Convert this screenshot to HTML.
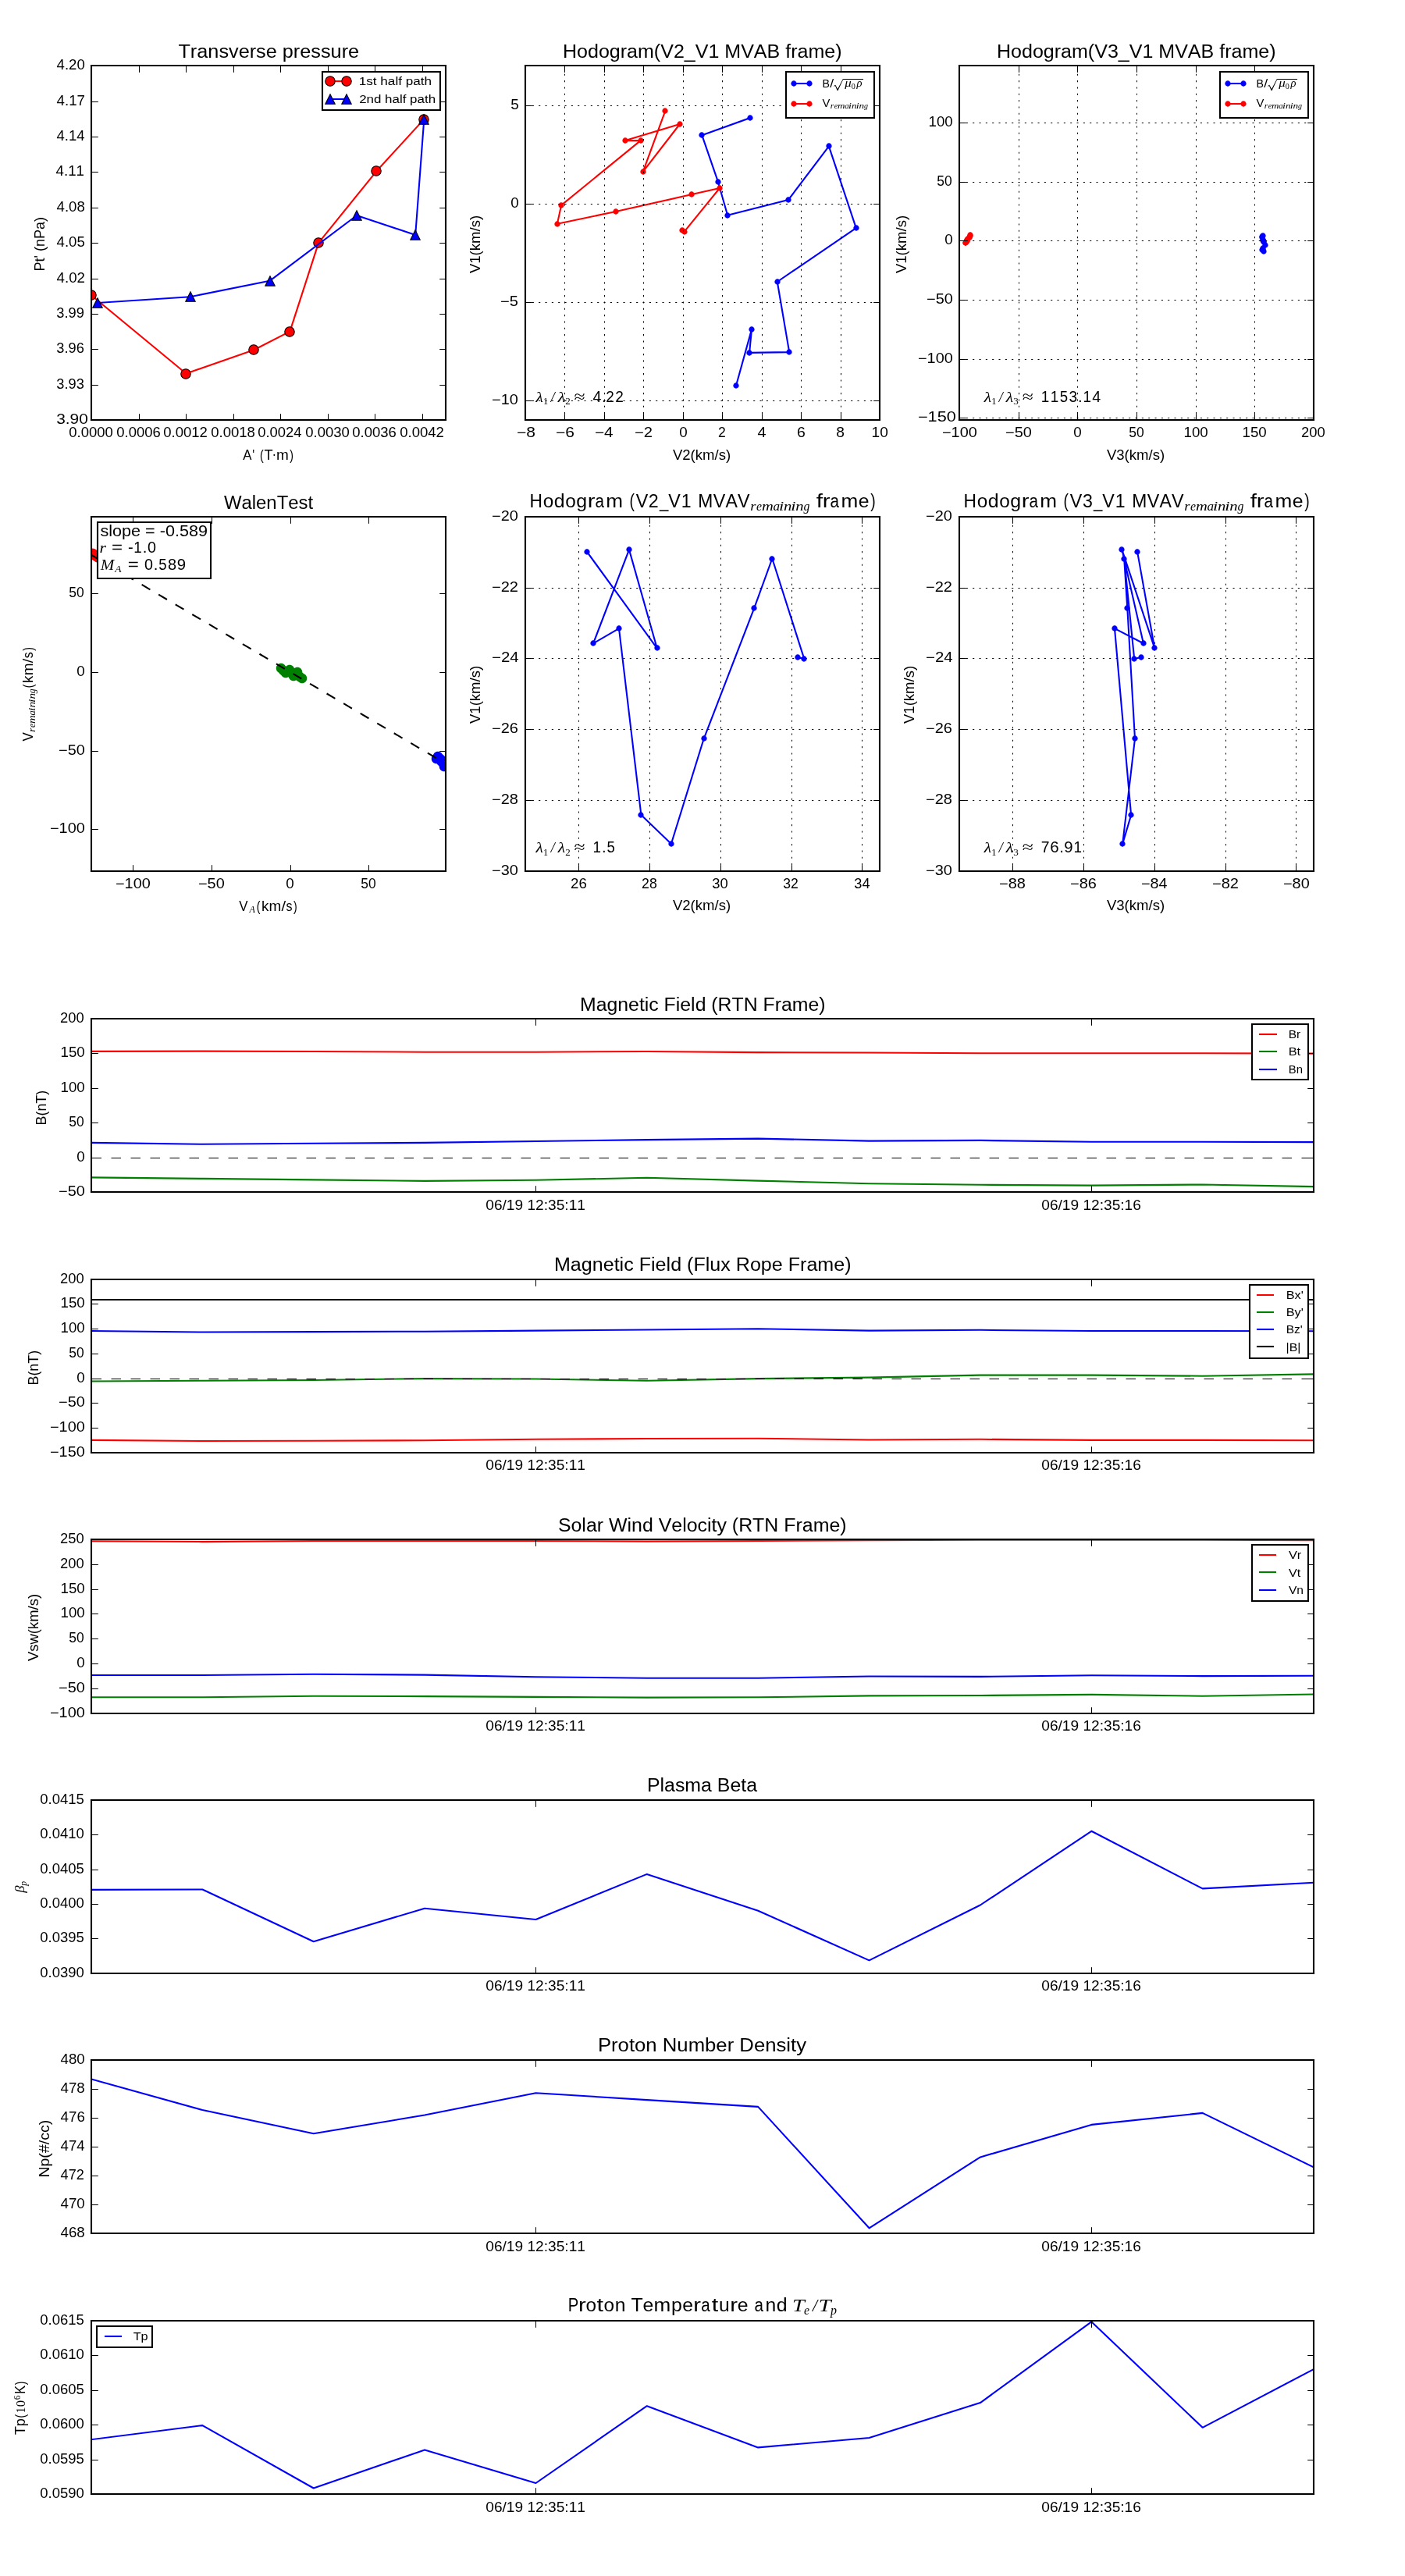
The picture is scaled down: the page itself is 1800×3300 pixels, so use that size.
<!DOCTYPE html>
<html><head><meta charset="utf-8"><title>Flux rope analysis</title>
<style>html,body{margin:0;padding:0;background:#fff;}svg{display:block;will-change:transform;font-family:"Liberation Sans",sans-serif;}</style>
</head><body>
<svg width="1800" height="3300" viewBox="0 0 864 1584" version="1.1">
<defs>
<style type="text/css">*{stroke-linejoin: round; stroke-linecap: butt}</style>
</defs>
<g id="figure_1">
<g id="patch_1">
<path d="M 0 1584 L 864 1584 L 864 0 L 0 0 z
" style="fill: #ffffff"/>
</g>
<g id="axes_1">
<g id="patch_2">
<path d="M 56.16 258.24 L 274.08 258.24 L 274.08 40.464 L 56.16 40.464 z
" style="fill: #ffffff"/>
</g>
<g id="line2d_1">
<path d="M 56.16 181.584 L 114.384 229.68 L 156.144 215.184 L 178.272 203.808 L 195.888 149.328 L 231.504 105.264 L 260.784 73.248 " clip-path="url(#p5015241284)" style="fill: none; stroke: #ff0000; stroke-linecap: square"/>
<defs>
<path id="mf71e03bee1" d="M 0 3 C 0.795609 3 1.55874 2.683901 2.12132 2.12132 C 2.683901 1.55874 3 0.795609 3 0 C 3 -0.795609 2.683901 -1.55874 2.12132 -2.12132 C 1.55874 -2.683901 0.795609 -3 0 -3 C -0.795609 -3 -1.55874 -2.683901 -2.12132 -2.12132 C -2.683901 -1.55874 -3 -0.795609 -3 0 C -3 0.795609 -2.683901 1.55874 -2.12132 2.12132 C -1.55874 2.683901 -0.795609 3 0 3 z
" style="stroke: #000000; stroke-width: 0.5"/>
</defs>
<g clip-path="url(#p5015241284)">
<use href="#mf71e03bee1" x="56.16" y="181.44" style="fill: #ff0000; stroke: #000000; stroke-width: 0.5"/>
<use href="#mf71e03bee1" x="114.24" y="229.92" style="fill: #ff0000; stroke: #000000; stroke-width: 0.5"/>
<use href="#mf71e03bee1" x="156" y="215.04" style="fill: #ff0000; stroke: #000000; stroke-width: 0.5"/>
<use href="#mf71e03bee1" x="178.08" y="204" style="fill: #ff0000; stroke: #000000; stroke-width: 0.5"/>
<use href="#mf71e03bee1" x="195.84" y="149.28" style="fill: #ff0000; stroke: #000000; stroke-width: 0.5"/>
<use href="#mf71e03bee1" x="231.36" y="105.12" style="fill: #ff0000; stroke: #000000; stroke-width: 0.5"/>
<use href="#mf71e03bee1" x="260.64" y="73.44" style="fill: #ff0000; stroke: #000000; stroke-width: 0.5"/>
</g>
</g>
<g id="line2d_2">
<path d="M 60.144 186.24 L 116.88 182.496 L 165.84 172.704 L 219.36 132.48 L 255.456 144.48 L 260.784 73.248 " clip-path="url(#p5015241284)" style="fill: none; stroke: #0000ff; stroke-linecap: square"/>
<defs>
<path id="m5bfe272d16" d="M 0 -3 L -3 3 L 3 3 z
" style="stroke: #000000; stroke-width: 0.5; stroke-linejoin: miter"/>
</defs>
<g clip-path="url(#p5015241284)">
<use href="#m5bfe272d16" x="60" y="186.24" style="fill: #0000ff; stroke: #000000; stroke-width: 0.5; stroke-linejoin: miter"/>
<use href="#m5bfe272d16" x="117.12" y="182.4" style="fill: #0000ff; stroke: #000000; stroke-width: 0.5; stroke-linejoin: miter"/>
<use href="#m5bfe272d16" x="166.08" y="172.8" style="fill: #0000ff; stroke: #000000; stroke-width: 0.5; stroke-linejoin: miter"/>
<use href="#m5bfe272d16" x="219.36" y="132.48" style="fill: #0000ff; stroke: #000000; stroke-width: 0.5; stroke-linejoin: miter"/>
<use href="#m5bfe272d16" x="255.36" y="144.48" style="fill: #0000ff; stroke: #000000; stroke-width: 0.5; stroke-linejoin: miter"/>
<use href="#m5bfe272d16" x="260.64" y="73.44" style="fill: #0000ff; stroke: #000000; stroke-width: 0.5; stroke-linejoin: miter"/>
</g>
</g>
<g id="patch_3">
<path d="M 56.16 258.24 L 56.16 40.32" style="fill: none; stroke: #000000; stroke-linejoin: miter; stroke-linecap: square"/>
</g>
<g id="patch_4">
<path d="M 274.08 258.24 L 274.08 40.32" style="fill: none; stroke: #000000; stroke-linejoin: miter; stroke-linecap: square"/>
</g>
<g id="patch_5">
<path d="M 56.16 258.24 L 274.08 258.24" style="fill: none; stroke: #000000; stroke-linejoin: miter; stroke-linecap: square"/>
</g>
<g id="patch_6">
<path d="M 56.16 40.32 L 274.08 40.32" style="fill: none; stroke: #000000; stroke-linejoin: miter; stroke-linecap: square"/>
</g>
<g id="matplotlib.axis_1">
<g id="xtick_1">
<g id="line2d_3">
<defs>
<path id="m4973df2420" d="M 0 0 L 0 -4 " style="stroke: #000000; stroke-width: 0.5"/>
</defs>
<g>
<use href="#m4973df2420" x="56.4" y="258.48" style="stroke: #000000; stroke-width: 0.5"/>
</g>
</g>
<g id="line2d_4">
<defs>
<path id="m134b7e6b41" d="M 0 0 L 0 4 " style="stroke: #000000; stroke-width: 0.5"/>
</defs>
<g>
<use href="#m134b7e6b41" x="56.4" y="40.56" style="stroke: #000000; stroke-width: 0.5"/>
</g>
</g>
<g id="text_1">
<text id="t0" style="font-size: 8.4px; font-family: 'Liberation Sans'; font-kerning: none" x="0.073997" y="0" textLength="27.092005" lengthAdjust="spacingAndGlyphs" transform="translate(42.3 268.96)">0.0000</text>
</g>
</g>
<g id="xtick_2">
<g id="line2d_5">
<g>
<use href="#m4973df2420" x="85.68" y="258.48" style="stroke: #000000; stroke-width: 0.5"/>
</g>
</g>
<g id="line2d_6">
<g>
<use href="#m134b7e6b41" x="85.68" y="40.56" style="stroke: #000000; stroke-width: 0.5"/>
</g>
</g>
<g id="text_2">
<text id="t1" style="font-size: 8.4px; font-family: 'Liberation Sans'; font-kerning: none" x="0.29743" y="0" textLength="27.136462" lengthAdjust="spacingAndGlyphs" transform="translate(71.356 268.96)">0.0006</text>
</g>
</g>
<g id="xtick_3">
<g id="line2d_7">
<g>
<use href="#m4973df2420" x="114.48" y="258.48" style="stroke: #000000; stroke-width: 0.5"/>
</g>
</g>
<g id="line2d_8">
<g>
<use href="#m134b7e6b41" x="114.48" y="40.56" style="stroke: #000000; stroke-width: 0.5"/>
</g>
</g>
<g id="text_3">
<text id="t2" style="font-size: 8.4px; font-family: 'Liberation Sans'; font-kerning: none" x="0.100689" y="0" textLength="27.194475" lengthAdjust="spacingAndGlyphs" transform="translate(100.352 268.96)">0.0012</text>
</g>
</g>
<g id="xtick_4">
<g id="line2d_9">
<g>
<use href="#m4973df2420" x="143.76" y="258.48" style="stroke: #000000; stroke-width: 0.5"/>
</g>
</g>
<g id="line2d_10">
<g>
<use href="#m134b7e6b41" x="143.76" y="40.56" style="stroke: #000000; stroke-width: 0.5"/>
</g>
</g>
<g id="text_4">
<text id="t3" style="font-size: 8.4px; font-family: 'Liberation Sans'; font-kerning: none" x="0.295486" y="0" textLength="27.13201" lengthAdjust="spacingAndGlyphs" transform="translate(129.438 268.96)">0.0018</text>
</g>
</g>
<g id="xtick_5">
<g id="line2d_11">
<g>
<use href="#m4973df2420" x="172.56" y="258.48" style="stroke: #000000; stroke-width: 0.5"/>
</g>
</g>
<g id="line2d_12">
<g>
<use href="#m134b7e6b41" x="172.56" y="40.56" style="stroke: #000000; stroke-width: 0.5"/>
</g>
</g>
<g id="text_5">
<text id="t4" style="font-size: 8.4px; font-family: 'Liberation Sans'; font-kerning: none" x="0.041127" y="0" textLength="27.003527" lengthAdjust="spacingAndGlyphs" transform="translate(158.494 268.96)">0.0024</text>
</g>
</g>
<g id="xtick_6">
<g id="line2d_13">
<g>
<use href="#m4973df2420" x="201.84" y="258.48" style="stroke: #000000; stroke-width: 0.5"/>
</g>
</g>
<g id="line2d_14">
<g>
<use href="#m134b7e6b41" x="201.84" y="40.56" style="stroke: #000000; stroke-width: 0.5"/>
</g>
</g>
<g id="text_6">
<text id="t5" style="font-size: 8.4px; font-family: 'Liberation Sans'; font-kerning: none" x="0.263997" y="0" textLength="27.092005" lengthAdjust="spacingAndGlyphs" transform="translate(187.55 268.96)">0.0030</text>
</g>
</g>
<g id="xtick_7">
<g id="line2d_15">
<g>
<use href="#m4973df2420" x="230.64" y="258.48" style="stroke: #000000; stroke-width: 0.5"/>
</g>
</g>
<g id="line2d_16">
<g>
<use href="#m134b7e6b41" x="230.64" y="40.56" style="stroke: #000000; stroke-width: 0.5"/>
</g>
</g>
<g id="text_7">
<text id="t6" style="font-size: 8.4px; font-family: 'Liberation Sans'; font-kerning: none" x="0.00743" y="0" textLength="27.136462" lengthAdjust="spacingAndGlyphs" transform="translate(216.606 268.96)">0.0036</text>
</g>
</g>
<g id="xtick_8">
<g id="line2d_17">
<g>
<use href="#m4973df2420" x="259.92" y="258.48" style="stroke: #000000; stroke-width: 0.5"/>
</g>
</g>
<g id="line2d_18">
<g>
<use href="#m134b7e6b41" x="259.92" y="40.56" style="stroke: #000000; stroke-width: 0.5"/>
</g>
</g>
<g id="text_8">
<text id="t7" style="font-size: 8.4px; font-family: 'Liberation Sans'; font-kerning: none" x="0.230689" y="0" textLength="27.194475" lengthAdjust="spacingAndGlyphs" transform="translate(245.662 268.96)">0.0042</text>
</g>
</g>
<g id="mathxlab1">
<g transform="translate(149.338579 283.5600)">
<text>
<tspan x="0.0468" y="-0.921875" style="font-size: 8.400px; font-family: 'Liberation Sans', sans-serif; font-kerning: none" textLength="5.3752" lengthAdjust="spacingAndGlyphs">A</tspan>
<tspan x="5.8668" y="-0.921875" style="font-size: 8.400px; font-family: 'Liberation Sans', sans-serif; font-kerning: none" textLength="1.4111" lengthAdjust="spacingAndGlyphs">&#x27;</tspan>
<tspan x="7.671875" y="-0.921875" style="font-size: 8.400px; font-family: 'Liberation Sans', sans-serif; font-kerning: none"> </tspan>
<tspan x="10.4830" y="-0.921875" style="font-size: 8.400px; font-family: 'Liberation Sans', sans-serif; font-kerning: none" textLength="2.2519" lengthAdjust="spacingAndGlyphs">(</tspan>
<tspan x="13.1165" y="-0.921875" style="font-size: 8.400px; font-family: 'Liberation Sans', sans-serif; font-kerning: none" textLength="5.3298" lengthAdjust="spacingAndGlyphs">T</tspan>
<tspan x="20.5588" y="-0.921875" style="font-size: 8.400px; font-family: 'Liberation Sans', sans-serif; font-kerning: none" textLength="7.5929" lengthAdjust="spacingAndGlyphs">m</tspan>
<tspan x="28.8315" y="-0.921875" style="font-size: 8.400px; font-family: 'Liberation Sans', sans-serif; font-kerning: none" textLength="2.2519" lengthAdjust="spacingAndGlyphs">)</tspan>
<tspan x="18.0955" y="-0.921875" style="font-size: 8.800px; font-family: 'Liberation Serif', serif; font-kerning: none" textLength="2.4769" lengthAdjust="spacingAndGlyphs">·</tspan>
</text>
</g>
</g>
</g>
<g id="matplotlib.axis_2">
<g id="ytick_1">
<g id="line2d_19">
<defs>
<path id="md9424fe3de" d="M 0 0 L 4 0 " style="stroke: #000000; stroke-width: 0.5"/>
</defs>
<g>
<use href="#md9424fe3de" x="56.4" y="258.48" style="stroke: #000000; stroke-width: 0.5"/>
</g>
</g>
<g id="line2d_20">
<defs>
<path id="m2b9a4ff74d" d="M 0 0 L -4 0 " style="stroke: #000000; stroke-width: 0.5"/>
</defs>
<g>
<use href="#m2b9a4ff74d" x="274.32" y="258.48" style="stroke: #000000; stroke-width: 0.5"/>
</g>
</g>
<g id="text_9">
<text id="t8" style="font-size: 8.4px; font-family: 'Liberation Sans'; font-kerning: none" x="0.198558" y="0" textLength="19.492665" lengthAdjust="spacingAndGlyphs" transform="translate(34.46 260.64)">3.90</text>
</g>
</g>
<g id="ytick_2">
<g id="line2d_21">
<g>
<use href="#md9424fe3de" x="56.4" y="236.88" style="stroke: #000000; stroke-width: 0.5"/>
</g>
</g>
<g id="line2d_22">
<g>
<use href="#m2b9a4ff74d" x="274.32" y="236.88" style="stroke: #000000; stroke-width: 0.5"/>
</g>
</g>
<g id="text_10">
<text id="t9" style="font-size: 8.4px; font-family: 'Liberation Sans'; font-kerning: none" x="0.30659" y="0" textLength="17.038114" lengthAdjust="spacingAndGlyphs" transform="translate(34.4 238.8624)">3.93</text>
</g>
</g>
<g id="ytick_3">
<g id="line2d_23">
<g>
<use href="#md9424fe3de" x="56.4" y="214.8" style="stroke: #000000; stroke-width: 0.5"/>
</g>
</g>
<g id="line2d_24">
<g>
<use href="#m2b9a4ff74d" x="274.32" y="214.8" style="stroke: #000000; stroke-width: 0.5"/>
</g>
</g>
<g id="text_11">
<text id="t10" style="font-size: 8.4px; font-family: 'Liberation Sans'; font-kerning: none" x="0.24659" y="0" textLength="17.038114" lengthAdjust="spacingAndGlyphs" transform="translate(34.46 217.0848)">3.96</text>
</g>
</g>
<g id="ytick_4">
<g id="line2d_25">
<g>
<use href="#md9424fe3de" x="56.4" y="193.2" style="stroke: #000000; stroke-width: 0.5"/>
</g>
</g>
<g id="line2d_26">
<g>
<use href="#m2b9a4ff74d" x="274.32" y="193.2" style="stroke: #000000; stroke-width: 0.5"/>
</g>
</g>
<g id="text_12">
<text id="t11" style="font-size: 8.4px; font-family: 'Liberation Sans'; font-kerning: none" x="0.245977" y="0" textLength="17.06941" lengthAdjust="spacingAndGlyphs" transform="translate(34.46 195.3072)">3.99</text>
</g>
</g>
<g id="ytick_5">
<g id="line2d_27">
<g>
<use href="#md9424fe3de" x="56.4" y="171.6" style="stroke: #000000; stroke-width: 0.5"/>
</g>
</g>
<g id="line2d_28">
<g>
<use href="#m2b9a4ff74d" x="274.32" y="171.6" style="stroke: #000000; stroke-width: 0.5"/>
</g>
</g>
<g id="text_13">
<text id="t12" style="font-size: 8.4px; font-family: 'Liberation Sans'; font-kerning: none" x="0.374161" y="0" textLength="17.456934" lengthAdjust="spacingAndGlyphs" transform="translate(34.46 173.5296)">4.02</text>
</g>
</g>
<g id="ytick_6">
<g id="line2d_29">
<g>
<use href="#md9424fe3de" x="56.4" y="149.52" style="stroke: #000000; stroke-width: 0.5"/>
</g>
</g>
<g id="line2d_30">
<g>
<use href="#m2b9a4ff74d" x="274.32" y="149.52" style="stroke: #000000; stroke-width: 0.5"/>
</g>
</g>
<g id="text_14">
<text id="t13" style="font-size: 8.4px; font-family: 'Liberation Sans'; font-kerning: none" x="0.315069" y="0" textLength="17.379912" lengthAdjust="spacingAndGlyphs" transform="translate(34.52 151.752)">4.05</text>
</g>
</g>
<g id="ytick_7">
<g id="line2d_31">
<g>
<use href="#md9424fe3de" x="56.4" y="127.92" style="stroke: #000000; stroke-width: 0.5"/>
</g>
</g>
<g id="line2d_32">
<g>
<use href="#m2b9a4ff74d" x="274.32" y="127.92" style="stroke: #000000; stroke-width: 0.5"/>
</g>
</g>
<g id="text_15">
<text id="t14" style="font-size: 8.4px; font-family: 'Liberation Sans'; font-kerning: none" x="0.314909" y="0" textLength="17.393455" lengthAdjust="spacingAndGlyphs" transform="translate(34.52 129.9744)">4.08</text>
</g>
</g>
<g id="ytick_8">
<g id="line2d_33">
<g>
<use href="#md9424fe3de" x="56.4" y="105.84" style="stroke: #000000; stroke-width: 0.5"/>
</g>
</g>
<g id="line2d_34">
<g>
<use href="#m2b9a4ff74d" x="274.32" y="105.84" style="stroke: #000000; stroke-width: 0.5"/>
</g>
</g>
<g id="text_16">
<text id="t15" style="font-size: 8.4px; font-family: 'Liberation Sans'; font-kerning: none" x="-0.045679" y="0" textLength="17.443293" lengthAdjust="spacingAndGlyphs" transform="translate(34.4 108.1968)">4.11</text>
</g>
</g>
<g id="ytick_9">
<g id="line2d_35">
<g>
<use href="#md9424fe3de" x="56.4" y="84.24" style="stroke: #000000; stroke-width: 0.5"/>
</g>
</g>
<g id="line2d_36">
<g>
<use href="#m2b9a4ff74d" x="274.32" y="84.24" style="stroke: #000000; stroke-width: 0.5"/>
</g>
</g>
<g id="text_17">
<text id="t16" style="font-size: 8.4px; font-family: 'Liberation Sans'; font-kerning: none" x="0.376442" y="0" textLength="17.263418" lengthAdjust="spacingAndGlyphs" transform="translate(34.46 86.4192)">4.14</text>
</g>
</g>
<g id="ytick_10">
<g id="line2d_37">
<g>
<use href="#md9424fe3de" x="56.4" y="62.64" style="stroke: #000000; stroke-width: 0.5"/>
</g>
</g>
<g id="line2d_38">
<g>
<use href="#m2b9a4ff74d" x="274.32" y="62.64" style="stroke: #000000; stroke-width: 0.5"/>
</g>
</g>
<g id="text_18">
<text id="t17" style="font-size: 8.4px; font-family: 'Liberation Sans'; font-kerning: none" x="0.374161" y="0" textLength="17.456934" lengthAdjust="spacingAndGlyphs" transform="translate(34.46 64.6416)">4.17</text>
</g>
</g>
<g id="ytick_11">
<g id="line2d_39">
<g>
<use href="#md9424fe3de" x="56.4" y="40.56" style="stroke: #000000; stroke-width: 0.5"/>
</g>
</g>
<g id="line2d_40">
<g>
<use href="#m2b9a4ff74d" x="274.32" y="40.56" style="stroke: #000000; stroke-width: 0.5"/>
</g>
</g>
<g id="text_19">
<text id="t18" style="font-size: 8.4px; font-family: 'Liberation Sans'; font-kerning: none" x="0.375387" y="0" textLength="17.352889" lengthAdjust="spacingAndGlyphs" transform="translate(34.46 42.864)">4.20</text>
</g>
</g>
<g id="text_20">
<text id="t19" style="font-size: 8.4px; font-family: 'Liberation Sans'; font-kerning: none" x="-0.788158" y="0" textLength="33.407003" lengthAdjust="spacingAndGlyphs" transform="translate(27.48 166.002) rotate(-90)">Pt' (nPa)</text>
</g>
</g>
<g id="text_21">
<text id="t20" style="font-size: 11.55px; font-family: 'Liberation Sans'; font-kerning: none" x="-0.182403" y="0" textLength="111.211286" lengthAdjust="spacingAndGlyphs" transform="translate(109.83 35.464)">Transverse pressure</text>
</g>
<g id="legend_1">
<g id="patch_7">
<path d="M 198.24 67.68 L 270.72 67.68 L 270.72 44.16 L 198.24 44.16 z" style="fill: #ffffff; stroke: #000000; stroke-linejoin: miter"/>
</g>
<g id="line2d_41">
<path d="M 203.04 49.92 L 213.12 49.92" style="fill: none; stroke: #ff0000; stroke-linecap: square"/>
<g>
<use href="#mf71e03bee1" x="203.04" y="49.92" style="fill: #ff0000; stroke: #000000; stroke-width: 0.5"/>
<use href="#mf71e03bee1" x="213.12" y="49.92" style="fill: #ff0000; stroke: #000000; stroke-width: 0.5"/>
</g>
</g>
<g id="text_22">
<text id="t21" style="font-size: 7.35px; font-family: 'Liberation Sans'; font-kerning: none" x="0.033072" y="0" textLength="44.841424" lengthAdjust="spacingAndGlyphs" transform="translate(220.62 52.524)">1st half path</text>
</g>
<g id="line2d_42">
<path d="M 203.04 60.96 L 213.12 60.96" style="fill: none; stroke: #0000ff; stroke-linecap: square"/>
<g>
<use href="#m5bfe272d16" x="203.04" y="60.96" style="fill: #0000ff; stroke: #000000; stroke-width: 0.5; stroke-linejoin: miter"/>
<use href="#m5bfe272d16" x="213.12" y="60.96" style="fill: #0000ff; stroke: #000000; stroke-width: 0.5; stroke-linejoin: miter"/>
</g>
</g>
<g id="text_23">
<text id="t22" style="font-size: 7.35px; font-family: 'Liberation Sans'; font-kerning: none" x="0.251088" y="0" textLength="47.016924" lengthAdjust="spacingAndGlyphs" transform="translate(220.62 63.224)">2nd half path</text>
</g>
</g>
</g>
<g id="axes_2">
<g id="patch_8">
<path d="M 323.04 258.24 L 540.96 258.24 L 540.96 40.464 L 323.04 40.464 z
" style="fill: #ffffff"/>
</g>
<g id="line2d_43">
<path d="M 461.424 72.432 L 431.664 83.136 L 441.6 111.936 L 447.408 132.384 L 484.8 122.88 L 509.712 89.952 L 526.464 140.208 L 477.984 173.28 L 485.376 216.528 L 460.848 216.912 L 462.24 202.512 L 452.688 236.976 " clip-path="url(#pdd8ea7e59d)" style="fill: none; stroke: #0000ff; stroke-linecap: square"/>
<defs>
<path id="med6760d9cf" d="M 0 1.5 C 0.397805 1.5 0.77937 1.341951 1.06066 1.06066 C 1.341951 0.77937 1.5 0.397805 1.5 0 C 1.5 -0.397805 1.341951 -0.77937 1.06066 -1.06066 C 0.77937 -1.341951 0.397805 -1.5 0 -1.5 C -0.397805 -1.5 -0.77937 -1.341951 -1.06066 -1.06066 C -1.341951 -0.77937 -1.5 -0.397805 -1.5 0 C -1.5 0.397805 -1.341951 0.77937 -1.06066 1.06066 C -0.77937 1.341951 -0.397805 1.5 0 1.5 z
" style="stroke: #0000ff; stroke-width: 0.5"/>
</defs>
<g clip-path="url(#pdd8ea7e59d)">
<use href="#med6760d9cf" x="461.28" y="72.48" style="fill: #0000ff; stroke: #0000ff; stroke-width: 0.5"/>
<use href="#med6760d9cf" x="431.52" y="83.04" style="fill: #0000ff; stroke: #0000ff; stroke-width: 0.5"/>
<use href="#med6760d9cf" x="441.6" y="111.84" style="fill: #0000ff; stroke: #0000ff; stroke-width: 0.5"/>
<use href="#med6760d9cf" x="447.36" y="132.48" style="fill: #0000ff; stroke: #0000ff; stroke-width: 0.5"/>
<use href="#med6760d9cf" x="484.8" y="122.88" style="fill: #0000ff; stroke: #0000ff; stroke-width: 0.5"/>
<use href="#med6760d9cf" x="509.76" y="89.76" style="fill: #0000ff; stroke: #0000ff; stroke-width: 0.5"/>
<use href="#med6760d9cf" x="526.56" y="140.16" style="fill: #0000ff; stroke: #0000ff; stroke-width: 0.5"/>
<use href="#med6760d9cf" x="478.08" y="173.28" style="fill: #0000ff; stroke: #0000ff; stroke-width: 0.5"/>
<use href="#med6760d9cf" x="485.28" y="216.48" style="fill: #0000ff; stroke: #0000ff; stroke-width: 0.5"/>
<use href="#med6760d9cf" x="460.8" y="216.96" style="fill: #0000ff; stroke: #0000ff; stroke-width: 0.5"/>
<use href="#med6760d9cf" x="462.24" y="202.56" style="fill: #0000ff; stroke: #0000ff; stroke-width: 0.5"/>
<use href="#med6760d9cf" x="452.64" y="237.12" style="fill: #0000ff; stroke: #0000ff; stroke-width: 0.5"/>
</g>
</g>
<g id="line2d_44">
<path d="M 419.568 141.552 L 420.768 142.512 L 442.56 115.68 L 425.424 119.568 L 378.672 130.08 L 342.672 137.664 L 345.168 126.192 L 393.888 86.448 L 384.528 86.448 L 418.032 76.32 L 395.424 105.552 L 409.056 68.352 " clip-path="url(#pdd8ea7e59d)" style="fill: none; stroke: #ff0000; stroke-linecap: square"/>
<defs>
<path id="m1d70addad9" d="M 0 1.5 C 0.397805 1.5 0.77937 1.341951 1.06066 1.06066 C 1.341951 0.77937 1.5 0.397805 1.5 0 C 1.5 -0.397805 1.341951 -0.77937 1.06066 -1.06066 C 0.77937 -1.341951 0.397805 -1.5 0 -1.5 C -0.397805 -1.5 -0.77937 -1.341951 -1.06066 -1.06066 C -1.341951 -0.77937 -1.5 -0.397805 -1.5 0 C -1.5 0.397805 -1.341951 0.77937 -1.06066 1.06066 C -0.77937 1.341951 -0.397805 1.5 0 1.5 z
" style="stroke: #ff0000; stroke-width: 0.5"/>
</defs>
<g clip-path="url(#pdd8ea7e59d)">
<use href="#m1d70addad9" x="419.52" y="141.6" style="fill: #ff0000; stroke: #ff0000; stroke-width: 0.5"/>
<use href="#m1d70addad9" x="420.96" y="142.56" style="fill: #ff0000; stroke: #ff0000; stroke-width: 0.5"/>
<use href="#m1d70addad9" x="442.56" y="115.68" style="fill: #ff0000; stroke: #ff0000; stroke-width: 0.5"/>
<use href="#m1d70addad9" x="425.28" y="119.52" style="fill: #ff0000; stroke: #ff0000; stroke-width: 0.5"/>
<use href="#m1d70addad9" x="378.72" y="130.08" style="fill: #ff0000; stroke: #ff0000; stroke-width: 0.5"/>
<use href="#m1d70addad9" x="342.72" y="137.76" style="fill: #ff0000; stroke: #ff0000; stroke-width: 0.5"/>
<use href="#m1d70addad9" x="345.12" y="126.24" style="fill: #ff0000; stroke: #ff0000; stroke-width: 0.5"/>
<use href="#m1d70addad9" x="394.08" y="86.4" style="fill: #ff0000; stroke: #ff0000; stroke-width: 0.5"/>
<use href="#m1d70addad9" x="384.48" y="86.4" style="fill: #ff0000; stroke: #ff0000; stroke-width: 0.5"/>
<use href="#m1d70addad9" x="418.08" y="76.32" style="fill: #ff0000; stroke: #ff0000; stroke-width: 0.5"/>
<use href="#m1d70addad9" x="395.52" y="105.6" style="fill: #ff0000; stroke: #ff0000; stroke-width: 0.5"/>
<use href="#m1d70addad9" x="408.96" y="68.16" style="fill: #ff0000; stroke: #ff0000; stroke-width: 0.5"/>
</g>
</g>
<g id="patch_9">
<path d="M 323.04 258.24 L 323.04 40.32" style="fill: none; stroke: #000000; stroke-linejoin: miter; stroke-linecap: square"/>
</g>
<g id="patch_10">
<path d="M 540.96 258.24 L 540.96 40.32" style="fill: none; stroke: #000000; stroke-linejoin: miter; stroke-linecap: square"/>
</g>
<g id="patch_11">
<path d="M 323.04 258.24 L 540.96 258.24" style="fill: none; stroke: #000000; stroke-linejoin: miter; stroke-linecap: square"/>
</g>
<g id="patch_12">
<path d="M 323.04 40.32 L 540.96 40.32" style="fill: none; stroke: #000000; stroke-linejoin: miter; stroke-linecap: square"/>
</g>
<g id="matplotlib.axis_3">
<g id="xtick_9">
<g id="line2d_45">
<path d="M 323.28 258.48 L 323.28 40.56" clip-path="url(#pdd8ea7e59d)" style="fill: none; stroke-dasharray: 1,3; stroke-dashoffset: 0; stroke: #000000; stroke-width: 0.5"/>
</g>
<g id="line2d_46">
<g>
<use href="#m4973df2420" x="323.28" y="258.48" style="stroke: #000000; stroke-width: 0.5"/>
</g>
</g>
<g id="line2d_47">
<g>
<use href="#m134b7e6b41" x="323.28" y="40.56" style="stroke: #000000; stroke-width: 0.5"/>
</g>
</g>
<g id="text_24">
<text id="t23" style="font-size: 8.4px; font-family: 'Liberation Sans'; font-kerning: none" x="0.552769" y="0" textLength="11.495385" lengthAdjust="spacingAndGlyphs" transform="translate(317.19 268.96)">−8</text>
</g>
</g>
<g id="xtick_10">
<g id="line2d_48">
<path d="M 347.28 258.48 L 347.28 40.56" clip-path="url(#pdd8ea7e59d)" style="fill: none; stroke-dasharray: 1,3; stroke-dashoffset: 0; stroke: #000000; stroke-width: 0.5"/>
</g>
<g id="line2d_49">
<g>
<use href="#m4973df2420" x="347.28" y="258.48" style="stroke: #000000; stroke-width: 0.5"/>
</g>
</g>
<g id="line2d_50">
<g>
<use href="#m134b7e6b41" x="347.28" y="40.56" style="stroke: #000000; stroke-width: 0.5"/>
</g>
</g>
<g id="text_25">
<text id="t24" style="font-size: 8.4px; font-family: 'Liberation Sans'; font-kerning: none" x="0.339204" y="0" textLength="11.500746" lengthAdjust="spacingAndGlyphs" transform="translate(341.403333 268.96)">−6</text>
</g>
</g>
<g id="xtick_11">
<g id="line2d_51">
<path d="M 371.76 258.48 L 371.76 40.56" clip-path="url(#pdd8ea7e59d)" style="fill: none; stroke-dasharray: 1,3; stroke-dashoffset: 0; stroke: #000000; stroke-width: 0.5"/>
</g>
<g id="line2d_52">
<g>
<use href="#m4973df2420" x="371.76" y="258.48" style="stroke: #000000; stroke-width: 0.5"/>
</g>
</g>
<g id="line2d_53">
<g>
<use href="#m134b7e6b41" x="371.76" y="40.56" style="stroke: #000000; stroke-width: 0.5"/>
</g>
</g>
<g id="text_26">
<text id="t25" style="font-size: 8.4px; font-family: 'Liberation Sans'; font-kerning: none" x="0.132735" y="0" textLength="11.342042" lengthAdjust="spacingAndGlyphs" transform="translate(365.616667 268.96)">−4</text>
</g>
</g>
<g id="xtick_12">
<g id="line2d_54">
<path d="M 395.76 258.48 L 395.76 40.56" clip-path="url(#pdd8ea7e59d)" style="fill: none; stroke-dasharray: 1,3; stroke-dashoffset: 0; stroke: #000000; stroke-width: 0.5"/>
</g>
<g id="line2d_55">
<g>
<use href="#m4973df2420" x="395.76" y="258.48" style="stroke: #000000; stroke-width: 0.5"/>
</g>
</g>
<g id="line2d_56">
<g>
<use href="#m134b7e6b41" x="395.76" y="40.56" style="stroke: #000000; stroke-width: 0.5"/>
</g>
</g>
<g id="text_27">
<text id="t26" style="font-size: 8.4px; font-family: 'Liberation Sans'; font-kerning: none" x="0.442252" y="0" textLength="11.044955" lengthAdjust="spacingAndGlyphs" transform="translate(389.8 268.96)">−2</text>
</g>
</g>
<g id="xtick_13">
<g id="line2d_57">
<path d="M 420.24 258.48 L 420.24 40.56" clip-path="url(#pdd8ea7e59d)" style="fill: none; stroke-dasharray: 1,3; stroke-dashoffset: 0; stroke: #000000; stroke-width: 0.5"/>
</g>
<g id="line2d_58">
<g>
<use href="#m4973df2420" x="420.24" y="258.48" style="stroke: #000000; stroke-width: 0.5"/>
</g>
</g>
<g id="line2d_59">
<g>
<use href="#m134b7e6b41" x="420.24" y="40.56" style="stroke: #000000; stroke-width: 0.5"/>
</g>
</g>
<g id="text_28">
<text id="t27" style="font-size: 8.4px; font-family: 'Liberation Sans'; font-kerning: none" x="0.353653" y="0" textLength="5.026027" lengthAdjust="spacingAndGlyphs" transform="translate(417.373333 268.96)">0</text>
</g>
</g>
<g id="xtick_14">
<g id="line2d_60">
<path d="M 444.24 258.48 L 444.24 40.56" clip-path="url(#pdd8ea7e59d)" style="fill: none; stroke-dasharray: 1,3; stroke-dashoffset: 0; stroke: #000000; stroke-width: 0.5"/>
</g>
<g id="line2d_61">
<g>
<use href="#m4973df2420" x="444.24" y="258.48" style="stroke: #000000; stroke-width: 0.5"/>
</g>
</g>
<g id="line2d_62">
<g>
<use href="#m134b7e6b41" x="444.24" y="40.56" style="stroke: #000000; stroke-width: 0.5"/>
</g>
</g>
<g id="text_29">
<text id="t28" style="font-size: 8.4px; font-family: 'Liberation Sans'; font-kerning: none" x="0.099411" y="0" textLength="4.687846" lengthAdjust="spacingAndGlyphs" transform="translate(441.556667 268.96)">2</text>
</g>
</g>
<g id="xtick_15">
<g id="line2d_63">
<path d="M 468.72 258.48 L 468.72 40.56" clip-path="url(#pdd8ea7e59d)" style="fill: none; stroke-dasharray: 1,3; stroke-dashoffset: 0; stroke: #000000; stroke-width: 0.5"/>
</g>
<g id="line2d_64">
<g>
<use href="#m4973df2420" x="468.72" y="258.48" style="stroke: #000000; stroke-width: 0.5"/>
</g>
</g>
<g id="line2d_65">
<g>
<use href="#m134b7e6b41" x="468.72" y="40.56" style="stroke: #000000; stroke-width: 0.5"/>
</g>
</g>
<g id="text_30">
<text id="t29" style="font-size: 8.4px; font-family: 'Liberation Sans'; font-kerning: none" x="0.061395" y="0" textLength="5.297674" lengthAdjust="spacingAndGlyphs" transform="translate(465.8 268.96)">4</text>
</g>
</g>
<g id="xtick_16">
<g id="line2d_66">
<path d="M 492.72 258.48 L 492.72 40.56" clip-path="url(#pdd8ea7e59d)" style="fill: none; stroke-dasharray: 1,3; stroke-dashoffset: 0; stroke: #000000; stroke-width: 0.5"/>
</g>
<g id="line2d_67">
<g>
<use href="#m4973df2420" x="492.72" y="258.48" style="stroke: #000000; stroke-width: 0.5"/>
</g>
</g>
<g id="line2d_68">
<g>
<use href="#m134b7e6b41" x="492.72" y="40.56" style="stroke: #000000; stroke-width: 0.5"/>
</g>
</g>
<g id="text_31">
<text id="t30" style="font-size: 8.4px; font-family: 'Liberation Sans'; font-kerning: none" x="0.071238" y="0" textLength="5.206857" lengthAdjust="spacingAndGlyphs" transform="translate(490.013333 268.96)">6</text>
</g>
</g>
<g id="xtick_17">
<g id="line2d_69">
<path d="M 517.2 258.48 L 517.2 40.56" clip-path="url(#pdd8ea7e59d)" style="fill: none; stroke-dasharray: 1,3; stroke-dashoffset: 0; stroke: #000000; stroke-width: 0.5"/>
</g>
<g id="line2d_70">
<g>
<use href="#m4973df2420" x="517.2" y="258.48" style="stroke: #000000; stroke-width: 0.5"/>
</g>
</g>
<g id="line2d_71">
<g>
<use href="#m134b7e6b41" x="517.2" y="40.56" style="stroke: #000000; stroke-width: 0.5"/>
</g>
</g>
<g id="text_32">
<text id="t31" style="font-size: 8.4px; font-family: 'Liberation Sans'; font-kerning: none" x="-0.06675" y="0" textLength="5.120166" lengthAdjust="spacingAndGlyphs" transform="translate(514.226667 268.96)">8</text>
</g>
</g>
<g id="xtick_18">
<g id="line2d_72">
<path d="M 541.2 258.48 L 541.2 40.56" clip-path="url(#pdd8ea7e59d)" style="fill: none; stroke-dasharray: 1,3; stroke-dashoffset: 0; stroke: #000000; stroke-width: 0.5"/>
</g>
<g id="line2d_73">
<g>
<use href="#m4973df2420" x="541.2" y="258.48" style="stroke: #000000; stroke-width: 0.5"/>
</g>
</g>
<g id="line2d_74">
<g>
<use href="#m134b7e6b41" x="541.2" y="40.56" style="stroke: #000000; stroke-width: 0.5"/>
</g>
</g>
<g id="text_33">
<text id="t32" style="font-size: 8.4px; font-family: 'Liberation Sans'; font-kerning: none" x="0.053271" y="0" textLength="10.174025" lengthAdjust="spacingAndGlyphs" transform="translate(535.89 268.96)">10</text>
</g>
</g>
<g id="text_34">
<text id="t33" style="font-size: 8.4px; font-family: 'Liberation Sans'; font-kerning: none" x="-0.219146" y="0" textLength="35.631539" lengthAdjust="spacingAndGlyphs" transform="translate(413.94 282.6)">V2(km/s)</text>
</g>
</g>
<g id="matplotlib.axis_4">
<g id="ytick_12">
<g id="line2d_75">
<path d="M 323.28 246.48 L 541.2 246.48" clip-path="url(#pdd8ea7e59d)" style="fill: none; stroke-dasharray: 1,3; stroke-dashoffset: 0; stroke: #000000; stroke-width: 0.5"/>
</g>
<g id="line2d_76">
<g>
<use href="#md9424fe3de" x="323.28" y="246.48" style="stroke: #000000; stroke-width: 0.5"/>
</g>
</g>
<g id="line2d_77">
<g>
<use href="#m2b9a4ff74d" x="541.2" y="246.48" style="stroke: #000000; stroke-width: 0.5"/>
</g>
</g>
<g id="text_35">
<text id="t34" style="font-size: 8.4px; font-family: 'Liberation Sans'; font-kerning: none" x="0.168892" y="0" textLength="16.204264" lengthAdjust="spacingAndGlyphs" transform="translate(302.24 248.541333)">−10</text>
</g>
</g>
<g id="ytick_13">
<g id="line2d_78">
<path d="M 323.28 186 L 541.2 186" clip-path="url(#pdd8ea7e59d)" style="fill: none; stroke-dasharray: 1,3; stroke-dashoffset: 0; stroke: #000000; stroke-width: 0.5"/>
</g>
<g id="line2d_79">
<g>
<use href="#md9424fe3de" x="323.28" y="186" style="stroke: #000000; stroke-width: 0.5"/>
</g>
</g>
<g id="line2d_80">
<g>
<use href="#m2b9a4ff74d" x="541.2" y="186" style="stroke: #000000; stroke-width: 0.5"/>
</g>
</g>
<g id="text_36">
<text id="t35" style="font-size: 8.4px; font-family: 'Liberation Sans'; font-kerning: none" x="0.346034" y="0" textLength="10.957542" lengthAdjust="spacingAndGlyphs" transform="translate(307.34 188.048)">−5</text>
</g>
</g>
<g id="ytick_14">
<g id="line2d_81">
<path d="M 323.28 125.52 L 541.2 125.52" clip-path="url(#pdd8ea7e59d)" style="fill: none; stroke-dasharray: 1,3; stroke-dashoffset: 0; stroke: #000000; stroke-width: 0.5"/>
</g>
<g id="line2d_82">
<g>
<use href="#md9424fe3de" x="323.28" y="125.52" style="stroke: #000000; stroke-width: 0.5"/>
</g>
</g>
<g id="line2d_83">
<g>
<use href="#m2b9a4ff74d" x="541.2" y="125.52" style="stroke: #000000; stroke-width: 0.5"/>
</g>
</g>
<g id="text_37">
<text id="t36" style="font-size: 8.4px; font-family: 'Liberation Sans'; font-kerning: none" x="0.046987" y="0" textLength="5.026027" lengthAdjust="spacingAndGlyphs" transform="translate(314 127.554667)">0</text>
</g>
</g>
<g id="ytick_15">
<g id="line2d_84">
<path d="M 323.28 65.04 L 541.2 65.04" clip-path="url(#pdd8ea7e59d)" style="fill: none; stroke-dasharray: 1,3; stroke-dashoffset: 0; stroke: #000000; stroke-width: 0.5"/>
</g>
<g id="line2d_85">
<g>
<use href="#md9424fe3de" x="323.28" y="65.04" style="stroke: #000000; stroke-width: 0.5"/>
</g>
</g>
<g id="line2d_86">
<g>
<use href="#m2b9a4ff74d" x="541.2" y="65.04" style="stroke: #000000; stroke-width: 0.5"/>
</g>
</g>
<g id="text_38">
<text id="t37" style="font-size: 8.4px; font-family: 'Liberation Sans'; font-kerning: none" x="0.03518" y="0" textLength="5.067436" lengthAdjust="spacingAndGlyphs" transform="translate(314 67.061333)">5</text>
</g>
</g>
<g id="text_39">
<text id="t38" style="font-size: 8.4px; font-family: 'Liberation Sans'; font-kerning: none" x="-0.627146" y="0" textLength="35.631539" lengthAdjust="spacingAndGlyphs" transform="translate(295.32 167.412) rotate(-90)">V1(km/s)</text>
</g>
</g>
<g id="text_40">
<g transform="translate(328.8576 247.3512)">
<text>
<tspan x="0.7105" y="-0.25" style="font-size: 9.270px; font-family: 'Liberation Serif', serif; font-style: italic; font-kerning: none" textLength="4.4963" lengthAdjust="spacingAndGlyphs">λ</tspan>
<tspan x="9.8759" y="-0.25" style="font-size: 9.270px; font-family: 'Liberation Serif', serif; font-style: italic; font-kerning: none" textLength="2.4181" lengthAdjust="spacingAndGlyphs">/</tspan>
<tspan x="14.1815" y="-0.25" style="font-size: 9.270px; font-family: 'Liberation Serif', serif; font-style: italic; font-kerning: none" textLength="4.4963" lengthAdjust="spacingAndGlyphs">λ</tspan>
<tspan x="5.2693" y="1.280563" style="font-size: 6.489px; font-family: 'Liberation Serif', serif; font-kerning: none" textLength="2.9883" lengthAdjust="spacingAndGlyphs">1</tspan>
<tspan x="18.7560" y="1.280563" style="font-size: 6.489px; font-family: 'Liberation Serif', serif; font-kerning: none" textLength="3.1385" lengthAdjust="spacingAndGlyphs">2</tspan>
<tspan x="24.1838" y="-0.25" style="font-size: 9.900px; font-family: 'Liberation Serif', serif; font-kerning: none" textLength="6.7818" lengthAdjust="spacingAndGlyphs">≈</tspan>
<tspan x="32.594309" y="-0.25" style="font-size: 9.450px; font-family: 'Liberation Sans', sans-serif; font-kerning: none"> </tspan>
<tspan x="35.6769" y="-0.25" style="font-size: 9.450px; font-family: 'Liberation Sans', sans-serif; font-kerning: none" textLength="5.2770" lengthAdjust="spacingAndGlyphs">4</tspan>
<tspan x="41.2544" y="-0.25" style="font-size: 9.450px; font-family: 'Liberation Sans', sans-serif; font-kerning: none" textLength="2.7057" lengthAdjust="spacingAndGlyphs">.</tspan>
<tspan x="43.7413" y="-0.25" style="font-size: 9.450px; font-family: 'Liberation Sans', sans-serif; font-kerning: none" textLength="5.0858" lengthAdjust="spacingAndGlyphs">2</tspan>
<tspan x="49.4674" y="-0.25" style="font-size: 9.450px; font-family: 'Liberation Sans', sans-serif; font-kerning: none" textLength="5.0858" lengthAdjust="spacingAndGlyphs">2</tspan>
</text>
</g>
</g>
<g id="text_41">
<text id="t39" style="font-size: 11.55px; font-family: 'Liberation Sans'; font-kerning: none" x="-0.085826" y="0" textLength="171.651063" lengthAdjust="spacingAndGlyphs" transform="translate(346.14 35.464)">Hodogram(V2_V1 MVAB frame)</text>
</g>
<g id="legend_2">
<g id="patch_13">
<path d="M 483.36 72.48 L 537.6 72.48 L 537.6 44.16 L 483.36 44.16 z" style="fill: #ffffff; stroke: #000000; stroke-linejoin: miter"/>
</g>
<g id="line2d_87">
<path d="M 488.16 51.36 L 497.76 51.36" style="fill: none; stroke: #0000ff; stroke-linecap: square"/>
<g>
<use href="#med6760d9cf" x="488.16" y="51.36" style="fill: #0000ff; stroke: #0000ff; stroke-width: 0.5"/>
<use href="#med6760d9cf" x="497.76" y="51.36" style="fill: #0000ff; stroke: #0000ff; stroke-width: 0.5"/>
</g>
</g>
<g id="text_42">
<g transform="translate(505.598144 53.9215)">
<text>
<tspan x="0.1291" y="-0.314375" style="font-size: 7.350px; font-family: 'Liberation Sans', sans-serif; font-kerning: none" textLength="4.5362" lengthAdjust="spacingAndGlyphs">B</tspan>
<tspan x="4.8022" y="-0.314375" style="font-size: 7.350px; font-family: 'Liberation Sans', sans-serif; font-kerning: none" textLength="2.3584" lengthAdjust="spacingAndGlyphs">/</tspan>
<tspan x="13.8947" y="-0.46875" style="font-size: 7.210px; font-family: 'Liberation Serif', serif; font-style: italic; font-kerning: none" textLength="4.0944" lengthAdjust="spacingAndGlyphs">μ</tspan>
<tspan x="21.1756" y="-0.46875" style="font-size: 7.210px; font-family: 'Liberation Serif', serif; font-style: italic; font-kerning: none" textLength="3.3668" lengthAdjust="spacingAndGlyphs">ρ</tspan>
<tspan x="17.9123" y="0.721687" style="font-size: 5.047px; font-family: 'Liberation Serif', serif; font-kerning: none" textLength="2.4331" lengthAdjust="spacingAndGlyphs">0</tspan>
</text>
<path d="M 7.161 -1.142 L 8.161 -1.692 L 9.511 0.858 L 12.767 -5.442 L 12.867 -4.992 L 9.711 1.758 L 9.261 1.758 L 8.011 -1.142 L 7.311 -0.792 z"/>
<rect x="12.816895" y="-5.4415" width="12.480398" height="0.4800"/>
</g>
</g>
<g id="line2d_88">
<path d="M 488.16 63.84 L 497.76 63.84" style="fill: none; stroke: #ff0000; stroke-linecap: square"/>
<g>
<use href="#m1d70addad9" x="488.16" y="63.84" style="fill: #ff0000; stroke: #ff0000; stroke-width: 0.5"/>
<use href="#m1d70addad9" x="497.76" y="63.84" style="fill: #ff0000; stroke: #ff0000; stroke-width: 0.5"/>
</g>
</g>
<g id="text_43">
<g transform="translate(505.598144 66.511)">
<text>
<tspan x="0.0235" y="-0.890625" style="font-size: 7.350px; font-family: 'Liberation Sans', sans-serif; font-kerning: none" textLength="4.7382" lengthAdjust="spacingAndGlyphs">V</tspan>
<tspan x="5.0026" y="0.299812" style="font-size: 5.047px; font-family: 'Liberation Serif', serif; font-style: italic; font-kerning: none" textLength="2.2088" lengthAdjust="spacingAndGlyphs">r</tspan>
<tspan x="7.3781" y="0.299812" style="font-size: 5.047px; font-family: 'Liberation Serif', serif; font-style: italic; font-kerning: none" textLength="2.1504" lengthAdjust="spacingAndGlyphs">e</tspan>
<tspan x="9.4946" y="0.299812" style="font-size: 5.047px; font-family: 'Liberation Serif', serif; font-style: italic; font-kerning: none" textLength="4.5286" lengthAdjust="spacingAndGlyphs">m</tspan>
<tspan x="13.9219" y="0.299812" style="font-size: 5.047px; font-family: 'Liberation Serif', serif; font-style: italic; font-kerning: none" textLength="2.6214" lengthAdjust="spacingAndGlyphs">a</tspan>
<tspan x="16.2270" y="0.299812" style="font-size: 5.047px; font-family: 'Liberation Serif', serif; font-style: italic; font-kerning: none" textLength="1.9087" lengthAdjust="spacingAndGlyphs">i</tspan>
<tspan x="18.0700" y="0.299812" style="font-size: 5.047px; font-family: 'Liberation Serif', serif; font-style: italic; font-kerning: none" textLength="3.1714" lengthAdjust="spacingAndGlyphs">n</tspan>
<tspan x="20.8542" y="0.299812" style="font-size: 5.047px; font-family: 'Liberation Serif', serif; font-style: italic; font-kerning: none" textLength="1.9087" lengthAdjust="spacingAndGlyphs">i</tspan>
<tspan x="22.6973" y="0.299812" style="font-size: 5.047px; font-family: 'Liberation Serif', serif; font-style: italic; font-kerning: none" textLength="3.1714" lengthAdjust="spacingAndGlyphs">n</tspan>
<tspan x="25.7993" y="0.299812" style="font-size: 5.047px; font-family: 'Liberation Serif', serif; font-style: italic; font-kerning: none" textLength="2.4067" lengthAdjust="spacingAndGlyphs">g</tspan>
</text>
</g>
</g>
</g>
</g>
<g id="axes_3">
<g id="patch_14">
<path d="M 589.92 258.24 L 807.84 258.24 L 807.84 40.464 L 589.92 40.464 z
" style="fill: #ffffff"/>
</g>
<g id="line2d_89">
<path d="M 776.45952 144.894804 L 776.2416 145.536766 L 776.6048 147.264018 L 777.04064 148.490366 L 776.75008 147.920373 L 776.16896 145.945549 L 777.18592 148.959603 L 778.0576 150.943063 L 776.6048 153.536819 L 776.16896 153.559849 L 776.45952 152.696224 L 777.3312 154.763168 " clip-path="url(#p084c920b3c)" style="fill: none; stroke: #0000ff; stroke-linecap: square"/>
<g clip-path="url(#p084c920b3c)">
<use href="#med6760d9cf" x="776.64" y="144.96" style="fill: #0000ff; stroke: #0000ff; stroke-width: 0.5"/>
<use href="#med6760d9cf" x="776.16" y="145.44" style="fill: #0000ff; stroke: #0000ff; stroke-width: 0.5"/>
<use href="#med6760d9cf" x="776.64" y="147.36" style="fill: #0000ff; stroke: #0000ff; stroke-width: 0.5"/>
<use href="#med6760d9cf" x="777.12" y="148.32" style="fill: #0000ff; stroke: #0000ff; stroke-width: 0.5"/>
<use href="#med6760d9cf" x="776.64" y="147.84" style="fill: #0000ff; stroke: #0000ff; stroke-width: 0.5"/>
<use href="#med6760d9cf" x="776.16" y="145.92" style="fill: #0000ff; stroke: #0000ff; stroke-width: 0.5"/>
<use href="#med6760d9cf" x="777.12" y="148.8" style="fill: #0000ff; stroke: #0000ff; stroke-width: 0.5"/>
<use href="#med6760d9cf" x="778.08" y="150.72" style="fill: #0000ff; stroke: #0000ff; stroke-width: 0.5"/>
<use href="#med6760d9cf" x="776.64" y="153.6" style="fill: #0000ff; stroke: #0000ff; stroke-width: 0.5"/>
<use href="#med6760d9cf" x="776.16" y="153.6" style="fill: #0000ff; stroke: #0000ff; stroke-width: 0.5"/>
<use href="#med6760d9cf" x="776.64" y="152.64" style="fill: #0000ff; stroke: #0000ff; stroke-width: 0.5"/>
<use href="#med6760d9cf" x="777.12" y="154.56" style="fill: #0000ff; stroke: #0000ff; stroke-width: 0.5"/>
</g>
</g>
<g id="line2d_90">
<path d="M 593.863798 149.040208 L 593.825066 149.097783 L 594.907647 147.48856 L 594.750779 147.721739 L 594.326655 148.352186 L 594.020666 148.807029 L 594.483523 148.119007 L 596.087061 145.7354 L 596.087061 145.7354 L 596.495692 145.127983 L 595.316278 146.881144 L 596.817174 144.65011 " clip-path="url(#p084c920b3c)" style="fill: none; stroke: #ff0000; stroke-linecap: square"/>
<g clip-path="url(#p084c920b3c)">
<use href="#m1d70addad9" x="593.76" y="149.28" style="fill: #ff0000; stroke: #ff0000; stroke-width: 0.5"/>
<use href="#m1d70addad9" x="593.76" y="149.28" style="fill: #ff0000; stroke: #ff0000; stroke-width: 0.5"/>
<use href="#m1d70addad9" x="594.72" y="147.36" style="fill: #ff0000; stroke: #ff0000; stroke-width: 0.5"/>
<use href="#m1d70addad9" x="594.72" y="147.84" style="fill: #ff0000; stroke: #ff0000; stroke-width: 0.5"/>
<use href="#m1d70addad9" x="594.24" y="148.32" style="fill: #ff0000; stroke: #ff0000; stroke-width: 0.5"/>
<use href="#m1d70addad9" x="594.24" y="148.8" style="fill: #ff0000; stroke: #ff0000; stroke-width: 0.5"/>
<use href="#m1d70addad9" x="594.72" y="148.32" style="fill: #ff0000; stroke: #ff0000; stroke-width: 0.5"/>
<use href="#m1d70addad9" x="596.16" y="145.92" style="fill: #ff0000; stroke: #ff0000; stroke-width: 0.5"/>
<use href="#m1d70addad9" x="596.16" y="145.92" style="fill: #ff0000; stroke: #ff0000; stroke-width: 0.5"/>
<use href="#m1d70addad9" x="596.64" y="144.96" style="fill: #ff0000; stroke: #ff0000; stroke-width: 0.5"/>
<use href="#m1d70addad9" x="595.2" y="146.88" style="fill: #ff0000; stroke: #ff0000; stroke-width: 0.5"/>
<use href="#m1d70addad9" x="596.64" y="144.48" style="fill: #ff0000; stroke: #ff0000; stroke-width: 0.5"/>
</g>
</g>
<g id="patch_15">
<path d="M 589.92 258.24 L 589.92 40.32" style="fill: none; stroke: #000000; stroke-linejoin: miter; stroke-linecap: square"/>
</g>
<g id="patch_16">
<path d="M 807.84 258.24 L 807.84 40.32" style="fill: none; stroke: #000000; stroke-linejoin: miter; stroke-linecap: square"/>
</g>
<g id="patch_17">
<path d="M 589.92 258.24 L 807.84 258.24" style="fill: none; stroke: #000000; stroke-linejoin: miter; stroke-linecap: square"/>
</g>
<g id="patch_18">
<path d="M 589.92 40.32 L 807.84 40.32" style="fill: none; stroke: #000000; stroke-linejoin: miter; stroke-linecap: square"/>
</g>
<g id="matplotlib.axis_5">
<g id="xtick_19">
<g id="line2d_91">
<path d="M 590.16 258.48 L 590.16 40.56" clip-path="url(#p084c920b3c)" style="fill: none; stroke-dasharray: 1,3; stroke-dashoffset: 0; stroke: #000000; stroke-width: 0.5"/>
</g>
<g id="line2d_92">
<g>
<use href="#m4973df2420" x="590.16" y="258.48" style="stroke: #000000; stroke-width: 0.5"/>
</g>
</g>
<g id="line2d_93">
<g>
<use href="#m134b7e6b41" x="590.16" y="40.56" style="stroke: #000000; stroke-width: 0.5"/>
</g>
</g>
<g id="text_44">
<text id="t40" style="font-size: 8.4px; font-family: 'Liberation Sans'; font-kerning: none" x="0.369639" y="0" textLength="21.482924" lengthAdjust="spacingAndGlyphs" transform="translate(579 268.96)">−100</text>
</g>
</g>
<g id="xtick_20">
<g id="line2d_94">
<path d="M 626.64 258.48 L 626.64 40.56" clip-path="url(#p084c920b3c)" style="fill: none; stroke-dasharray: 1,3; stroke-dashoffset: 0; stroke: #000000; stroke-width: 0.5"/>
</g>
<g id="line2d_95">
<g>
<use href="#m4973df2420" x="626.64" y="258.48" style="stroke: #000000; stroke-width: 0.5"/>
</g>
</g>
<g id="line2d_96">
<g>
<use href="#m134b7e6b41" x="626.64" y="40.56" style="stroke: #000000; stroke-width: 0.5"/>
</g>
</g>
<g id="text_45">
<text id="t41" style="font-size: 8.4px; font-family: 'Liberation Sans'; font-kerning: none" x="0.378892" y="0" textLength="16.204264" lengthAdjust="spacingAndGlyphs" transform="translate(617.87 268.96)">−50</text>
</g>
</g>
<g id="xtick_21">
<g id="line2d_97">
<path d="M 662.64 258.48 L 662.64 40.56" clip-path="url(#p084c920b3c)" style="fill: none; stroke-dasharray: 1,3; stroke-dashoffset: 0; stroke: #000000; stroke-width: 0.5"/>
</g>
<g id="line2d_98">
<g>
<use href="#m4973df2420" x="662.64" y="258.48" style="stroke: #000000; stroke-width: 0.5"/>
</g>
</g>
<g id="line2d_99">
<g>
<use href="#m134b7e6b41" x="662.64" y="40.56" style="stroke: #000000; stroke-width: 0.5"/>
</g>
</g>
<g id="text_46">
<text id="t42" style="font-size: 8.4px; font-family: 'Liberation Sans'; font-kerning: none" x="0.086987" y="0" textLength="5.026027" lengthAdjust="spacingAndGlyphs" transform="translate(660.04 268.96)">0</text>
</g>
</g>
<g id="xtick_22">
<g id="line2d_100">
<path d="M 699.12 258.48 L 699.12 40.56" clip-path="url(#p084c920b3c)" style="fill: none; stroke-dasharray: 1,3; stroke-dashoffset: 0; stroke: #000000; stroke-width: 0.5"/>
</g>
<g id="line2d_101">
<g>
<use href="#m4973df2420" x="699.12" y="258.48" style="stroke: #000000; stroke-width: 0.5"/>
</g>
</g>
<g id="line2d_102">
<g>
<use href="#m134b7e6b41" x="699.12" y="40.56" style="stroke: #000000; stroke-width: 0.5"/>
</g>
</g>
<g id="text_47">
<text id="t43" style="font-size: 8.4px; font-family: 'Liberation Sans'; font-kerning: none" x="0.38518" y="0" textLength="9.301474" lengthAdjust="spacingAndGlyphs" transform="translate(693.84 268.96)">50</text>
</g>
</g>
<g id="xtick_23">
<g id="line2d_103">
<path d="M 735.6 258.48 L 735.6 40.56" clip-path="url(#p084c920b3c)" style="fill: none; stroke-dasharray: 1,3; stroke-dashoffset: 0; stroke: #000000; stroke-width: 0.5"/>
</g>
<g id="line2d_104">
<g>
<use href="#m4973df2420" x="735.6" y="258.48" style="stroke: #000000; stroke-width: 0.5"/>
</g>
</g>
<g id="line2d_105">
<g>
<use href="#m134b7e6b41" x="735.6" y="40.56" style="stroke: #000000; stroke-width: 0.5"/>
</g>
</g>
<g id="text_48">
<text id="t44" style="font-size: 8.4px; font-family: 'Liberation Sans'; font-kerning: none" x="0.347347" y="0" textLength="14.952732" lengthAdjust="spacingAndGlyphs" transform="translate(727.61 268.96)">100</text>
</g>
</g>
<g id="xtick_24">
<g id="line2d_106">
<path d="M 771.6 258.48 L 771.6 40.56" clip-path="url(#p084c920b3c)" style="fill: none; stroke-dasharray: 1,3; stroke-dashoffset: 0; stroke: #000000; stroke-width: 0.5"/>
</g>
<g id="line2d_107">
<g>
<use href="#m4973df2420" x="771.6" y="258.48" style="stroke: #000000; stroke-width: 0.5"/>
</g>
</g>
<g id="line2d_108">
<g>
<use href="#m134b7e6b41" x="771.6" y="40.56" style="stroke: #000000; stroke-width: 0.5"/>
</g>
</g>
<g id="text_49">
<text id="t45" style="font-size: 8.4px; font-family: 'Liberation Sans'; font-kerning: none" x="0.027347" y="0" textLength="14.952732" lengthAdjust="spacingAndGlyphs" transform="translate(763.93 268.96)">150</text>
</g>
</g>
<g id="xtick_25">
<g id="line2d_109">
<path d="M 808.08 258.48 L 808.08 40.56" clip-path="url(#p084c920b3c)" style="fill: none; stroke-dasharray: 1,3; stroke-dashoffset: 0; stroke: #000000; stroke-width: 0.5"/>
</g>
<g id="line2d_110">
<g>
<use href="#m4973df2420" x="808.08" y="258.48" style="stroke: #000000; stroke-width: 0.5"/>
</g>
</g>
<g id="line2d_111">
<g>
<use href="#m134b7e6b41" x="808.08" y="40.56" style="stroke: #000000; stroke-width: 0.5"/>
</g>
</g>
<g id="text_50">
<text id="t46" style="font-size: 8.4px; font-family: 'Liberation Sans'; font-kerning: none" x="-0.05334" y="0" textLength="14.707681" lengthAdjust="spacingAndGlyphs" transform="translate(800.25 268.96)">200</text>
</g>
</g>
<g id="text_51">
<text id="t47" style="font-size: 8.4px; font-family: 'Liberation Sans'; font-kerning: none" x="-0.219146" y="0" textLength="35.631539" lengthAdjust="spacingAndGlyphs" transform="translate(680.82 282.6)">V3(km/s)</text>
</g>
</g>
<g id="matplotlib.axis_6">
<g id="ytick_16">
<g id="line2d_112">
<path d="M 590.16 257.04 L 808.08 257.04" clip-path="url(#p084c920b3c)" style="fill: none; stroke-dasharray: 1,3; stroke-dashoffset: 0; stroke: #000000; stroke-width: 0.5"/>
</g>
<g id="line2d_113">
<g>
<use href="#md9424fe3de" x="590.16" y="257.04" style="stroke: #000000; stroke-width: 0.5"/>
</g>
</g>
<g id="line2d_114">
<g>
<use href="#m2b9a4ff74d" x="808.08" y="257.04" style="stroke: #000000; stroke-width: 0.5"/>
</g>
</g>
<g id="text_52">
<text id="t48" style="font-size: 8.4px; font-family: 'Liberation Sans'; font-kerning: none" x="0.365884" y="0" textLength="23.481336" lengthAdjust="spacingAndGlyphs" transform="translate(564.08 259.29763)">−150</text>
</g>
</g>
<g id="ytick_17">
<g id="line2d_115">
<path d="M 590.16 221.04 L 808.08 221.04" clip-path="url(#p084c920b3c)" style="fill: none; stroke-dasharray: 1,3; stroke-dashoffset: 0; stroke: #000000; stroke-width: 0.5"/>
</g>
<g id="line2d_116">
<g>
<use href="#md9424fe3de" x="590.16" y="221.04" style="stroke: #000000; stroke-width: 0.5"/>
</g>
</g>
<g id="line2d_117">
<g>
<use href="#m2b9a4ff74d" x="808.08" y="221.04" style="stroke: #000000; stroke-width: 0.5"/>
</g>
</g>
<g id="text_53">
<text id="t49" style="font-size: 8.4px; font-family: 'Liberation Sans'; font-kerning: none" x="0.409639" y="0" textLength="21.482924" lengthAdjust="spacingAndGlyphs" transform="translate(564.08 223.017351)">−100</text>
</g>
</g>
<g id="ytick_18">
<g id="line2d_118">
<path d="M 590.16 184.56 L 808.08 184.56" clip-path="url(#p084c920b3c)" style="fill: none; stroke-dasharray: 1,3; stroke-dashoffset: 0; stroke: #000000; stroke-width: 0.5"/>
</g>
<g id="line2d_119">
<g>
<use href="#md9424fe3de" x="590.16" y="184.56" style="stroke: #000000; stroke-width: 0.5"/>
</g>
</g>
<g id="line2d_120">
<g>
<use href="#m2b9a4ff74d" x="808.08" y="184.56" style="stroke: #000000; stroke-width: 0.5"/>
</g>
</g>
<g id="text_54">
<text id="t50" style="font-size: 8.4px; font-family: 'Liberation Sans'; font-kerning: none" x="0.588892" y="0" textLength="16.204264" lengthAdjust="spacingAndGlyphs" transform="translate(569.18 186.737073)">−50</text>
</g>
</g>
<g id="ytick_19">
<g id="line2d_121">
<path d="M 590.16 148.08 L 808.08 148.08" clip-path="url(#p084c920b3c)" style="fill: none; stroke-dasharray: 1,3; stroke-dashoffset: 0; stroke: #000000; stroke-width: 0.5"/>
</g>
<g id="line2d_122">
<g>
<use href="#md9424fe3de" x="590.16" y="148.08" style="stroke: #000000; stroke-width: 0.5"/>
</g>
</g>
<g id="line2d_123">
<g>
<use href="#m2b9a4ff74d" x="808.08" y="148.08" style="stroke: #000000; stroke-width: 0.5"/>
</g>
</g>
<g id="text_55">
<text id="t51" style="font-size: 8.4px; font-family: 'Liberation Sans'; font-kerning: none" x="0.046987" y="0" textLength="5.026027" lengthAdjust="spacingAndGlyphs" transform="translate(580.88 150.456794)">0</text>
</g>
</g>
<g id="ytick_20">
<g id="line2d_124">
<path d="M 590.16 112.08 L 808.08 112.08" clip-path="url(#p084c920b3c)" style="fill: none; stroke-dasharray: 1,3; stroke-dashoffset: 0; stroke: #000000; stroke-width: 0.5"/>
</g>
<g id="line2d_125">
<g>
<use href="#md9424fe3de" x="590.16" y="112.08" style="stroke: #000000; stroke-width: 0.5"/>
</g>
</g>
<g id="line2d_126">
<g>
<use href="#m2b9a4ff74d" x="808.08" y="112.08" style="stroke: #000000; stroke-width: 0.5"/>
</g>
</g>
<g id="text_56">
<text id="t52" style="font-size: 8.4px; font-family: 'Liberation Sans'; font-kerning: none" x="0.30518" y="0" textLength="9.301474" lengthAdjust="spacingAndGlyphs" transform="translate(575.84 114.176516)">50</text>
</g>
</g>
<g id="ytick_21">
<g id="line2d_127">
<path d="M 590.16 75.6 L 808.08 75.6" clip-path="url(#p084c920b3c)" style="fill: none; stroke-dasharray: 1,3; stroke-dashoffset: 0; stroke: #000000; stroke-width: 0.5"/>
</g>
<g id="line2d_128">
<g>
<use href="#md9424fe3de" x="590.16" y="75.6" style="stroke: #000000; stroke-width: 0.5"/>
</g>
</g>
<g id="line2d_129">
<g>
<use href="#m2b9a4ff74d" x="808.08" y="75.6" style="stroke: #000000; stroke-width: 0.5"/>
</g>
</g>
<g id="text_57">
<text id="t53" style="font-size: 8.4px; font-family: 'Liberation Sans'; font-kerning: none" x="0.257347" y="0" textLength="14.952732" lengthAdjust="spacingAndGlyphs" transform="translate(570.74 77.896237)">100</text>
</g>
</g>
<g id="text_58">
<text id="t54" style="font-size: 8.4px; font-family: 'Liberation Sans'; font-kerning: none" x="-0.627146" y="0" textLength="35.631539" lengthAdjust="spacingAndGlyphs" transform="translate(557.16 167.412) rotate(-90)">V1(km/s)</text>
</g>
</g>
<g id="text_59">
<g transform="translate(604.4544 247.3512)">
<text>
<tspan x="0.7105" y="-0.25" style="font-size: 9.270px; font-family: 'Liberation Serif', serif; font-style: italic; font-kerning: none" textLength="4.4963" lengthAdjust="spacingAndGlyphs">λ</tspan>
<tspan x="9.8759" y="-0.25" style="font-size: 9.270px; font-family: 'Liberation Serif', serif; font-style: italic; font-kerning: none" textLength="2.4181" lengthAdjust="spacingAndGlyphs">/</tspan>
<tspan x="14.1815" y="-0.25" style="font-size: 9.270px; font-family: 'Liberation Serif', serif; font-style: italic; font-kerning: none" textLength="4.4963" lengthAdjust="spacingAndGlyphs">λ</tspan>
<tspan x="5.2693" y="1.280563" style="font-size: 6.489px; font-family: 'Liberation Serif', serif; font-kerning: none" textLength="2.9883" lengthAdjust="spacingAndGlyphs">1</tspan>
<tspan x="18.6798" y="1.280563" style="font-size: 6.489px; font-family: 'Liberation Serif', serif; font-kerning: none" textLength="3.1649" lengthAdjust="spacingAndGlyphs">3</tspan>
<tspan x="24.1838" y="-0.25" style="font-size: 9.900px; font-family: 'Liberation Serif', serif; font-kerning: none" textLength="6.7818" lengthAdjust="spacingAndGlyphs">≈</tspan>
<tspan x="32.594309" y="-0.25" style="font-size: 9.450px; font-family: 'Liberation Sans', sans-serif; font-kerning: none"> </tspan>
<tspan x="35.7537" y="-0.25" style="font-size: 9.450px; font-family: 'Liberation Sans', sans-serif; font-kerning: none" textLength="5.0394" lengthAdjust="spacingAndGlyphs">1</tspan>
<tspan x="41.4798" y="-0.25" style="font-size: 9.450px; font-family: 'Liberation Sans', sans-serif; font-kerning: none" textLength="5.0394" lengthAdjust="spacingAndGlyphs">1</tspan>
<tspan x="47.2431" y="-0.25" style="font-size: 9.450px; font-family: 'Liberation Sans', sans-serif; font-kerning: none" textLength="4.9796" lengthAdjust="spacingAndGlyphs">5</tspan>
<tspan x="52.9719" y="-0.25" style="font-size: 9.450px; font-family: 'Liberation Sans', sans-serif; font-kerning: none" textLength="5.0672" lengthAdjust="spacingAndGlyphs">3</tspan>
<tspan x="58.4326" y="-0.25" style="font-size: 9.450px; font-family: 'Liberation Sans', sans-serif; font-kerning: none" textLength="2.7057" lengthAdjust="spacingAndGlyphs">.</tspan>
<tspan x="61.5188" y="-0.25" style="font-size: 9.450px; font-family: 'Liberation Sans', sans-serif; font-kerning: none" textLength="5.0394" lengthAdjust="spacingAndGlyphs">1</tspan>
<tspan x="67.1681" y="-0.25" style="font-size: 9.450px; font-family: 'Liberation Sans', sans-serif; font-kerning: none" textLength="5.2770" lengthAdjust="spacingAndGlyphs">4</tspan>
</text>
</g>
</g>
<g id="text_60">
<text id="t55" style="font-size: 11.55px; font-family: 'Liberation Sans'; font-kerning: none" x="-0.085826" y="0" textLength="171.651063" lengthAdjust="spacingAndGlyphs" transform="translate(613.02 35.464)">Hodogram(V3_V1 MVAB frame)</text>
</g>
<g id="legend_3">
<g id="patch_19">
<path d="M 750.24 72.48 L 804.48 72.48 L 804.48 44.16 L 750.24 44.16 z" style="fill: #ffffff; stroke: #000000; stroke-linejoin: miter"/>
</g>
<g id="line2d_130">
<path d="M 755.04 51.36 L 764.64 51.36" style="fill: none; stroke: #0000ff; stroke-linecap: square"/>
<g>
<use href="#med6760d9cf" x="755.04" y="51.36" style="fill: #0000ff; stroke: #0000ff; stroke-width: 0.5"/>
<use href="#med6760d9cf" x="764.64" y="51.36" style="fill: #0000ff; stroke: #0000ff; stroke-width: 0.5"/>
</g>
</g>
<g id="text_61">
<g transform="translate(772.478144 53.9215)">
<text>
<tspan x="0.1291" y="-0.314375" style="font-size: 7.350px; font-family: 'Liberation Sans', sans-serif; font-kerning: none" textLength="4.5362" lengthAdjust="spacingAndGlyphs">B</tspan>
<tspan x="4.8022" y="-0.314375" style="font-size: 7.350px; font-family: 'Liberation Sans', sans-serif; font-kerning: none" textLength="2.3584" lengthAdjust="spacingAndGlyphs">/</tspan>
<tspan x="13.8947" y="-0.46875" style="font-size: 7.210px; font-family: 'Liberation Serif', serif; font-style: italic; font-kerning: none" textLength="4.0944" lengthAdjust="spacingAndGlyphs">μ</tspan>
<tspan x="21.1756" y="-0.46875" style="font-size: 7.210px; font-family: 'Liberation Serif', serif; font-style: italic; font-kerning: none" textLength="3.3668" lengthAdjust="spacingAndGlyphs">ρ</tspan>
<tspan x="17.9123" y="0.721687" style="font-size: 5.047px; font-family: 'Liberation Serif', serif; font-kerning: none" textLength="2.4331" lengthAdjust="spacingAndGlyphs">0</tspan>
</text>
<path d="M 7.161 -1.142 L 8.161 -1.692 L 9.511 0.858 L 12.767 -5.442 L 12.867 -4.992 L 9.711 1.758 L 9.261 1.758 L 8.011 -1.142 L 7.311 -0.792 z"/>
<rect x="12.816895" y="-5.4415" width="12.480398" height="0.4800"/>
</g>
</g>
<g id="line2d_131">
<path d="M 755.04 63.84 L 764.64 63.84" style="fill: none; stroke: #ff0000; stroke-linecap: square"/>
<g>
<use href="#m1d70addad9" x="755.04" y="63.84" style="fill: #ff0000; stroke: #ff0000; stroke-width: 0.5"/>
<use href="#m1d70addad9" x="764.64" y="63.84" style="fill: #ff0000; stroke: #ff0000; stroke-width: 0.5"/>
</g>
</g>
<g id="text_62">
<g transform="translate(772.478144 66.511)">
<text>
<tspan x="0.0235" y="-0.890625" style="font-size: 7.350px; font-family: 'Liberation Sans', sans-serif; font-kerning: none" textLength="4.7382" lengthAdjust="spacingAndGlyphs">V</tspan>
<tspan x="5.0026" y="0.299812" style="font-size: 5.047px; font-family: 'Liberation Serif', serif; font-style: italic; font-kerning: none" textLength="2.2088" lengthAdjust="spacingAndGlyphs">r</tspan>
<tspan x="7.3781" y="0.299812" style="font-size: 5.047px; font-family: 'Liberation Serif', serif; font-style: italic; font-kerning: none" textLength="2.1504" lengthAdjust="spacingAndGlyphs">e</tspan>
<tspan x="9.4946" y="0.299812" style="font-size: 5.047px; font-family: 'Liberation Serif', serif; font-style: italic; font-kerning: none" textLength="4.5286" lengthAdjust="spacingAndGlyphs">m</tspan>
<tspan x="13.9219" y="0.299812" style="font-size: 5.047px; font-family: 'Liberation Serif', serif; font-style: italic; font-kerning: none" textLength="2.6214" lengthAdjust="spacingAndGlyphs">a</tspan>
<tspan x="16.2270" y="0.299812" style="font-size: 5.047px; font-family: 'Liberation Serif', serif; font-style: italic; font-kerning: none" textLength="1.9087" lengthAdjust="spacingAndGlyphs">i</tspan>
<tspan x="18.0700" y="0.299812" style="font-size: 5.047px; font-family: 'Liberation Serif', serif; font-style: italic; font-kerning: none" textLength="3.1714" lengthAdjust="spacingAndGlyphs">n</tspan>
<tspan x="20.8542" y="0.299812" style="font-size: 5.047px; font-family: 'Liberation Serif', serif; font-style: italic; font-kerning: none" textLength="1.9087" lengthAdjust="spacingAndGlyphs">i</tspan>
<tspan x="22.6973" y="0.299812" style="font-size: 5.047px; font-family: 'Liberation Serif', serif; font-style: italic; font-kerning: none" textLength="3.1714" lengthAdjust="spacingAndGlyphs">n</tspan>
<tspan x="25.7993" y="0.299812" style="font-size: 5.047px; font-family: 'Liberation Serif', serif; font-style: italic; font-kerning: none" textLength="2.4067" lengthAdjust="spacingAndGlyphs">g</tspan>
</text>
</g>
</g>
</g>
</g>
<g id="axes_4">
<g id="patch_20">
<path d="M 56.16 535.536 L 274.08 535.536 L 274.08 317.76 L 56.16 317.76 z
" style="fill: #ffffff"/>
</g>
<g id="PathCollection_1">
<defs>
<path id="C0_0_60ef827ab7" d="M 0 3 C 0.795609 3 1.55874 2.683901 2.12132 2.12132 C 2.683901 1.55874 3 0.795609 3 -0 C 3 -0.795609 2.683901 -1.55874 2.12132 -2.12132 C 1.55874 -2.683901 0.795609 -3 0 -3 C -0.795609 -3 -1.55874 -2.683901 -2.12132 -2.12132 C -2.683901 -1.55874 -3 -0.795609 -3 0 C -3 0.795609 -2.683901 1.55874 -2.12132 2.12132 C -1.55874 2.683901 -0.795609 3 0 3 z
"/>
</defs>
<g clip-path="url(#pe2f85f3ad1)">
<use href="#C0_0_60ef827ab7" x="56.64" y="340.32" style="fill: #ff0000"/>
</g>
<g clip-path="url(#pe2f85f3ad1)">
<use href="#C0_0_60ef827ab7" x="57.12" y="340.32" style="fill: #ff0000"/>
</g>
<g clip-path="url(#pe2f85f3ad1)">
<use href="#C0_0_60ef827ab7" x="57.6" y="340.8" style="fill: #ff0000"/>
</g>
<g clip-path="url(#pe2f85f3ad1)">
<use href="#C0_0_60ef827ab7" x="57.6" y="340.8" style="fill: #ff0000"/>
</g>
<g clip-path="url(#pe2f85f3ad1)">
<use href="#C0_0_60ef827ab7" x="58.08" y="341.28" style="fill: #ff0000"/>
</g>
<g clip-path="url(#pe2f85f3ad1)">
<use href="#C0_0_60ef827ab7" x="58.56" y="341.76" style="fill: #ff0000"/>
</g>
<g clip-path="url(#pe2f85f3ad1)">
<use href="#C0_0_60ef827ab7" x="59.04" y="341.76" style="fill: #ff0000"/>
</g>
<g clip-path="url(#pe2f85f3ad1)">
<use href="#C0_0_60ef827ab7" x="59.52" y="342.24" style="fill: #ff0000"/>
</g>
<g clip-path="url(#pe2f85f3ad1)">
<use href="#C0_0_60ef827ab7" x="60" y="342.72" style="fill: #ff0000"/>
</g>
<g clip-path="url(#pe2f85f3ad1)">
<use href="#C0_0_60ef827ab7" x="60.48" y="342.72" style="fill: #ff0000"/>
</g>
<g clip-path="url(#pe2f85f3ad1)">
<use href="#C0_0_60ef827ab7" x="60.96" y="343.2" style="fill: #ff0000"/>
</g>
<g clip-path="url(#pe2f85f3ad1)">
<use href="#C0_0_60ef827ab7" x="61.44" y="343.2" style="fill: #ff0000"/>
</g>
</g>
<g id="PathCollection_2">
<defs>
<path id="C1_0_941a192a22" d="M 0 3 C 0.795609 3 1.55874 2.683901 2.12132 2.12132 C 2.683901 1.55874 3 0.795609 3 -0 C 3 -0.795609 2.683901 -1.55874 2.12132 -2.12132 C 1.55874 -2.683901 0.795609 -3 0 -3 C -0.795609 -3 -1.55874 -2.683901 -2.12132 -2.12132 C -2.683901 -1.55874 -3 -0.795609 -3 0 C -3 0.795609 -2.683901 1.55874 -2.12132 2.12132 C -1.55874 2.683901 -0.795609 3 0 3 z
"/>
</defs>
<g clip-path="url(#pe2f85f3ad1)">
<use href="#C1_0_941a192a22" x="172.8" y="410.88" style="fill: #008000"/>
</g>
<g clip-path="url(#pe2f85f3ad1)">
<use href="#C1_0_941a192a22" x="175.68" y="413.76" style="fill: #008000"/>
</g>
<g clip-path="url(#pe2f85f3ad1)">
<use href="#C1_0_941a192a22" x="178.08" y="411.84" style="fill: #008000"/>
</g>
<g clip-path="url(#pe2f85f3ad1)">
<use href="#C1_0_941a192a22" x="180.48" y="415.68" style="fill: #008000"/>
</g>
<g clip-path="url(#pe2f85f3ad1)">
<use href="#C1_0_941a192a22" x="182.88" y="413.28" style="fill: #008000"/>
</g>
<g clip-path="url(#pe2f85f3ad1)">
<use href="#C1_0_941a192a22" x="185.76" y="417.12" style="fill: #008000"/>
</g>
<g clip-path="url(#pe2f85f3ad1)">
<use href="#C1_0_941a192a22" x="174.24" y="412.32" style="fill: #008000"/>
</g>
<g clip-path="url(#pe2f85f3ad1)">
<use href="#C1_0_941a192a22" x="179.52" y="414.24" style="fill: #008000"/>
</g>
<g clip-path="url(#pe2f85f3ad1)">
<use href="#C1_0_941a192a22" x="181.44" y="414.72" style="fill: #008000"/>
</g>
<g clip-path="url(#pe2f85f3ad1)">
<use href="#C1_0_941a192a22" x="184.32" y="416.16" style="fill: #008000"/>
</g>
<g clip-path="url(#pe2f85f3ad1)">
<use href="#C1_0_941a192a22" x="177.12" y="412.8" style="fill: #008000"/>
</g>
<g clip-path="url(#pe2f85f3ad1)">
<use href="#C1_0_941a192a22" x="183.36" y="415.2" style="fill: #008000"/>
</g>
</g>
<g id="PathCollection_3">
<defs>
<path id="C2_0_5686539c0b" d="M 0 3 C 0.795609 3 1.55874 2.683901 2.12132 2.12132 C 2.683901 1.55874 3 0.795609 3 -0 C 3 -0.795609 2.683901 -1.55874 2.12132 -2.12132 C 1.55874 -2.683901 0.795609 -3 0 -3 C -0.795609 -3 -1.55874 -2.683901 -2.12132 -2.12132 C -2.683901 -1.55874 -3 -0.795609 -3 0 C -3 0.795609 -2.683901 1.55874 -2.12132 2.12132 C -1.55874 2.683901 -0.795609 3 0 3 z
"/>
</defs>
<g clip-path="url(#pe2f85f3ad1)">
<use href="#C2_0_5686539c0b" x="268.32" y="466.56" style="fill: #0000ff"/>
</g>
<g clip-path="url(#pe2f85f3ad1)">
<use href="#C2_0_5686539c0b" x="269.28" y="465.12" style="fill: #0000ff"/>
</g>
<g clip-path="url(#pe2f85f3ad1)">
<use href="#C2_0_5686539c0b" x="273.12" y="471.36" style="fill: #0000ff"/>
</g>
<g clip-path="url(#pe2f85f3ad1)">
<use href="#C2_0_5686539c0b" x="271.2" y="468" style="fill: #0000ff"/>
</g>
<g clip-path="url(#pe2f85f3ad1)">
<use href="#C2_0_5686539c0b" x="272.16" y="468.96" style="fill: #0000ff"/>
</g>
<g clip-path="url(#pe2f85f3ad1)">
<use href="#C2_0_5686539c0b" x="274.08" y="470.88" style="fill: #0000ff"/>
</g>
<g clip-path="url(#pe2f85f3ad1)">
<use href="#C2_0_5686539c0b" x="270.72" y="466.56" style="fill: #0000ff"/>
</g>
<g clip-path="url(#pe2f85f3ad1)">
<use href="#C2_0_5686539c0b" x="273.6" y="469.92" style="fill: #0000ff"/>
</g>
<g clip-path="url(#pe2f85f3ad1)">
<use href="#C2_0_5686539c0b" x="272.64" y="468.48" style="fill: #0000ff"/>
</g>
<g clip-path="url(#pe2f85f3ad1)">
<use href="#C2_0_5686539c0b" x="271.68" y="467.52" style="fill: #0000ff"/>
</g>
<g clip-path="url(#pe2f85f3ad1)">
<use href="#C2_0_5686539c0b" x="274.56" y="469.44" style="fill: #0000ff"/>
</g>
<g clip-path="url(#pe2f85f3ad1)">
<use href="#C2_0_5686539c0b" x="269.76" y="466.08" style="fill: #0000ff"/>
</g>
</g>
<g id="patch_21">
<path d="M 56.16 535.68 L 56.16 317.76" style="fill: none; stroke: #000000; stroke-linejoin: miter; stroke-linecap: square"/>
</g>
<g id="patch_22">
<path d="M 274.08 535.68 L 274.08 317.76" style="fill: none; stroke: #000000; stroke-linejoin: miter; stroke-linecap: square"/>
</g>
<g id="patch_23">
<path d="M 56.16 535.68 L 274.08 535.68" style="fill: none; stroke: #000000; stroke-linejoin: miter; stroke-linecap: square"/>
</g>
<g id="patch_24">
<path d="M 56.16 317.76 L 274.08 317.76" style="fill: none; stroke: #000000; stroke-linejoin: miter; stroke-linecap: square"/>
</g>
<g id="matplotlib.axis_7">
<g id="xtick_26">
<g id="line2d_132">
<g>
<use href="#m4973df2420" x="81.84" y="535.92" style="stroke: #000000; stroke-width: 0.5"/>
</g>
</g>
<g id="line2d_133">
<g>
<use href="#m134b7e6b41" x="81.84" y="318" style="stroke: #000000; stroke-width: 0.5"/>
</g>
</g>
<g id="text_63">
<text id="t56" style="font-size: 8.4px; font-family: 'Liberation Sans'; font-kerning: none" x="0.322768" y="0" textLength="21.482924" lengthAdjust="spacingAndGlyphs" transform="translate(70.726871 546.256)">−100</text>
</g>
</g>
<g id="xtick_27">
<g id="line2d_134">
<g>
<use href="#m4973df2420" x="130.32" y="535.92" style="stroke: #000000; stroke-width: 0.5"/>
</g>
</g>
<g id="line2d_135">
<g>
<use href="#m134b7e6b41" x="130.32" y="318" style="stroke: #000000; stroke-width: 0.5"/>
</g>
</g>
<g id="text_64">
<text id="t57" style="font-size: 8.4px; font-family: 'Liberation Sans'; font-kerning: none" x="0.289837" y="0" textLength="16.204264" lengthAdjust="spacingAndGlyphs" transform="translate(121.639055 546.256)">−50</text>
</g>
</g>
<g id="xtick_28">
<g id="line2d_136">
<g>
<use href="#m4973df2420" x="178.8" y="535.92" style="stroke: #000000; stroke-width: 0.5"/>
</g>
</g>
<g id="line2d_137">
<g>
<use href="#m134b7e6b41" x="178.8" y="318" style="stroke: #000000; stroke-width: 0.5"/>
</g>
</g>
<g id="text_65">
<text id="t58" style="font-size: 8.4px; font-family: 'Liberation Sans'; font-kerning: none" x="-0.044252" y="0" textLength="5.026027" lengthAdjust="spacingAndGlyphs" transform="translate(175.851238 546.256)">0</text>
</g>
</g>
<g id="xtick_29">
<g id="line2d_138">
<g>
<use href="#m4973df2420" x="226.8" y="535.92" style="stroke: #000000; stroke-width: 0.5"/>
</g>
</g>
<g id="line2d_139">
<g>
<use href="#m134b7e6b41" x="226.8" y="318" style="stroke: #000000; stroke-width: 0.5"/>
</g>
</g>
<g id="text_66">
<text id="t59" style="font-size: 8.4px; font-family: 'Liberation Sans'; font-kerning: none" x="0.211757" y="0" textLength="9.301474" lengthAdjust="spacingAndGlyphs" transform="translate(221.693422 546.256)">50</text>
</g>
</g>
<g id="mathxlab4">
<g transform="translate(146.98112 560.8560)">
<text>
<tspan x="0.0268" y="-0.921875" style="font-size: 8.400px; font-family: 'Liberation Sans', sans-serif; font-kerning: none" textLength="5.4151" lengthAdjust="spacingAndGlyphs">V</tspan>
<tspan x="10.8081" y="-0.921875" style="font-size: 8.400px; font-family: 'Liberation Sans', sans-serif; font-kerning: none" textLength="2.2519" lengthAdjust="spacingAndGlyphs">(</tspan>
<tspan x="13.7849" y="-0.921875" style="font-size: 8.400px; font-family: 'Liberation Sans', sans-serif; font-kerning: none" textLength="4.4724" lengthAdjust="spacingAndGlyphs">k</tspan>
<tspan x="18.4152" y="-0.921875" style="font-size: 8.400px; font-family: 'Liberation Sans', sans-serif; font-kerning: none" textLength="7.5929" lengthAdjust="spacingAndGlyphs">m</tspan>
<tspan x="26.0868" y="-0.921875" style="font-size: 8.400px; font-family: 'Liberation Sans', sans-serif; font-kerning: none" textLength="2.6953" lengthAdjust="spacingAndGlyphs">/</tspan>
<tspan x="29.0023" y="-0.921875" style="font-size: 8.400px; font-family: 'Liberation Sans', sans-serif; font-kerning: none" textLength="3.8343" lengthAdjust="spacingAndGlyphs">s</tspan>
<tspan x="33.5511" y="-0.921875" style="font-size: 8.400px; font-family: 'Liberation Sans', sans-serif; font-kerning: none" textLength="2.2519" lengthAdjust="spacingAndGlyphs">)</tspan>
<tspan x="6.3416" y="0.438625" style="font-size: 5.768px; font-family: 'Liberation Serif', serif; font-style: italic; font-kerning: none" textLength="3.5181" lengthAdjust="spacingAndGlyphs">A</tspan>
</text>
</g>
</g>
</g>
<g id="matplotlib.axis_8">
<g id="ytick_22">
<g id="line2d_140">
<g>
<use href="#md9424fe3de" x="56.4" y="510" style="stroke: #000000; stroke-width: 0.5"/>
</g>
</g>
<g id="line2d_141">
<g>
<use href="#m2b9a4ff74d" x="274.32" y="510" style="stroke: #000000; stroke-width: 0.5"/>
</g>
</g>
<g id="text_67">
<text id="t60" style="font-size: 8.4px; font-family: 'Liberation Sans'; font-kerning: none" x="0.409639" y="0" textLength="21.482924" lengthAdjust="spacingAndGlyphs" transform="translate(30.32 512.309606)">−100</text>
</g>
</g>
<g id="ytick_23">
<g id="line2d_142">
<g>
<use href="#md9424fe3de" x="56.4" y="462" style="stroke: #000000; stroke-width: 0.5"/>
</g>
</g>
<g id="line2d_143">
<g>
<use href="#m2b9a4ff74d" x="274.32" y="462" style="stroke: #000000; stroke-width: 0.5"/>
</g>
</g>
<g id="text_68">
<text id="t61" style="font-size: 8.4px; font-family: 'Liberation Sans'; font-kerning: none" x="0.588892" y="0" textLength="16.204264" lengthAdjust="spacingAndGlyphs" transform="translate(35.42 463.957918)">−50</text>
</g>
</g>
<g id="ytick_24">
<g id="line2d_144">
<g>
<use href="#md9424fe3de" x="56.4" y="413.52" style="stroke: #000000; stroke-width: 0.5"/>
</g>
</g>
<g id="line2d_145">
<g>
<use href="#m2b9a4ff74d" x="274.32" y="413.52" style="stroke: #000000; stroke-width: 0.5"/>
</g>
</g>
<g id="text_69">
<text id="t62" style="font-size: 8.4px; font-family: 'Liberation Sans'; font-kerning: none" x="0.046987" y="0" textLength="5.026027" lengthAdjust="spacingAndGlyphs" transform="translate(47.12 415.606231)">0</text>
</g>
</g>
<g id="ytick_25">
<g id="line2d_146">
<g>
<use href="#md9424fe3de" x="56.4" y="365.04" style="stroke: #000000; stroke-width: 0.5"/>
</g>
</g>
<g id="line2d_147">
<g>
<use href="#m2b9a4ff74d" x="274.32" y="365.04" style="stroke: #000000; stroke-width: 0.5"/>
</g>
</g>
<g id="text_70">
<text id="t63" style="font-size: 8.4px; font-family: 'Liberation Sans'; font-kerning: none" x="0.30518" y="0" textLength="9.301474" lengthAdjust="spacingAndGlyphs" transform="translate(42.08 367.254544)">50</text>
</g>
</g>
<g id="text_71">
<g transform="translate(21.0795 455.811439) rotate(-90)">
<text>
<tspan x="0.0268" y="-0.921875" style="font-size: 8.400px; font-family: 'Liberation Sans', sans-serif; font-kerning: none" textLength="5.4151" lengthAdjust="spacingAndGlyphs">V</tspan>
<tspan x="32.8581" y="-0.921875" style="font-size: 8.400px; font-family: 'Liberation Sans', sans-serif; font-kerning: none" textLength="2.2519" lengthAdjust="spacingAndGlyphs">(</tspan>
<tspan x="35.8349" y="-0.921875" style="font-size: 8.400px; font-family: 'Liberation Sans', sans-serif; font-kerning: none" textLength="4.4724" lengthAdjust="spacingAndGlyphs">k</tspan>
<tspan x="40.4652" y="-0.921875" style="font-size: 8.400px; font-family: 'Liberation Sans', sans-serif; font-kerning: none" textLength="7.5929" lengthAdjust="spacingAndGlyphs">m</tspan>
<tspan x="48.1369" y="-0.921875" style="font-size: 8.400px; font-family: 'Liberation Sans', sans-serif; font-kerning: none" textLength="2.6953" lengthAdjust="spacingAndGlyphs">/</tspan>
<tspan x="51.0523" y="-0.921875" style="font-size: 8.400px; font-family: 'Liberation Sans', sans-serif; font-kerning: none" textLength="3.8343" lengthAdjust="spacingAndGlyphs">s</tspan>
<tspan x="55.6011" y="-0.921875" style="font-size: 8.400px; font-family: 'Liberation Sans', sans-serif; font-kerning: none" textLength="2.2519" lengthAdjust="spacingAndGlyphs">)</tspan>
<tspan x="5.7173" y="0.438625" style="font-size: 5.768px; font-family: 'Liberation Serif', serif; font-style: italic; font-kerning: none" textLength="2.5244" lengthAdjust="spacingAndGlyphs">r</tspan>
<tspan x="8.4321" y="0.438625" style="font-size: 5.768px; font-family: 'Liberation Serif', serif; font-style: italic; font-kerning: none" textLength="2.4576" lengthAdjust="spacingAndGlyphs">e</tspan>
<tspan x="10.8509" y="0.438625" style="font-size: 5.768px; font-family: 'Liberation Serif', serif; font-style: italic; font-kerning: none" textLength="5.1755" lengthAdjust="spacingAndGlyphs">m</tspan>
<tspan x="15.9107" y="0.438625" style="font-size: 5.768px; font-family: 'Liberation Serif', serif; font-style: italic; font-kerning: none" textLength="2.9959" lengthAdjust="spacingAndGlyphs">a</tspan>
<tspan x="18.5451" y="0.438625" style="font-size: 5.768px; font-family: 'Liberation Serif', serif; font-style: italic; font-kerning: none" textLength="2.1814" lengthAdjust="spacingAndGlyphs">i</tspan>
<tspan x="20.6515" y="0.438625" style="font-size: 5.768px; font-family: 'Liberation Serif', serif; font-style: italic; font-kerning: none" textLength="3.6245" lengthAdjust="spacingAndGlyphs">n</tspan>
<tspan x="23.8334" y="0.438625" style="font-size: 5.768px; font-family: 'Liberation Serif', serif; font-style: italic; font-kerning: none" textLength="2.1814" lengthAdjust="spacingAndGlyphs">i</tspan>
<tspan x="25.9398" y="0.438625" style="font-size: 5.768px; font-family: 'Liberation Serif', serif; font-style: italic; font-kerning: none" textLength="3.6245" lengthAdjust="spacingAndGlyphs">n</tspan>
<tspan x="29.4849" y="0.438625" style="font-size: 5.768px; font-family: 'Liberation Serif', serif; font-style: italic; font-kerning: none" textLength="2.7506" lengthAdjust="spacingAndGlyphs">g</tspan>
</text>
</g>
</g>
</g>
<g id="line2d_148">
<path d="M 56.16 341.239434 L 268.228176 466.12048 " clip-path="url(#pe2f85f3ad1)" style="fill: none; stroke-dasharray: 6,6; stroke-dashoffset: 0; stroke: #000000"/>
</g>
<g id="text_72">
<text id="t64" style="font-size: 11.55px; font-family: 'Liberation Sans'; font-kerning: none" x="0.249562" y="0" textLength="54.854502" lengthAdjust="spacingAndGlyphs" transform="translate(137.46 312.76)">WalenTest</text>
</g>
</g>
<g id="axes_5">
<g id="patch_25">
<path d="M 323.04 535.536 L 540.96 535.536 L 540.96 317.76 L 323.04 317.76 z
" style="fill: #ffffff"/>
</g>
<g id="line2d_149">
<path d="M 361.152 339.552 L 404.016 398.544 L 386.88 337.968 L 364.848 395.616 L 380.64 386.448 L 394.272 501.168 L 412.752 518.88 L 432.816 454.224 L 463.776 374.016 L 474.864 343.44 L 494.544 405.168 L 490.656 404.16 " clip-path="url(#p09ebb8ab49)" style="fill: none; stroke: #0000ff; stroke-linecap: square"/>
<g clip-path="url(#p09ebb8ab49)">
<use href="#med6760d9cf" x="360.96" y="339.36" style="fill: #0000ff; stroke: #0000ff; stroke-width: 0.5"/>
<use href="#med6760d9cf" x="404.16" y="398.4" style="fill: #0000ff; stroke: #0000ff; stroke-width: 0.5"/>
<use href="#med6760d9cf" x="386.88" y="337.92" style="fill: #0000ff; stroke: #0000ff; stroke-width: 0.5"/>
<use href="#med6760d9cf" x="364.8" y="395.52" style="fill: #0000ff; stroke: #0000ff; stroke-width: 0.5"/>
<use href="#med6760d9cf" x="380.64" y="386.4" style="fill: #0000ff; stroke: #0000ff; stroke-width: 0.5"/>
<use href="#med6760d9cf" x="394.08" y="501.12" style="fill: #0000ff; stroke: #0000ff; stroke-width: 0.5"/>
<use href="#med6760d9cf" x="412.8" y="518.88" style="fill: #0000ff; stroke: #0000ff; stroke-width: 0.5"/>
<use href="#med6760d9cf" x="432.96" y="454.08" style="fill: #0000ff; stroke: #0000ff; stroke-width: 0.5"/>
<use href="#med6760d9cf" x="463.68" y="373.92" style="fill: #0000ff; stroke: #0000ff; stroke-width: 0.5"/>
<use href="#med6760d9cf" x="474.72" y="343.68" style="fill: #0000ff; stroke: #0000ff; stroke-width: 0.5"/>
<use href="#med6760d9cf" x="494.4" y="405.12" style="fill: #0000ff; stroke: #0000ff; stroke-width: 0.5"/>
<use href="#med6760d9cf" x="490.56" y="404.16" style="fill: #0000ff; stroke: #0000ff; stroke-width: 0.5"/>
</g>
</g>
<g id="patch_26">
<path d="M 323.04 535.68 L 323.04 317.76" style="fill: none; stroke: #000000; stroke-linejoin: miter; stroke-linecap: square"/>
</g>
<g id="patch_27">
<path d="M 540.96 535.68 L 540.96 317.76" style="fill: none; stroke: #000000; stroke-linejoin: miter; stroke-linecap: square"/>
</g>
<g id="patch_28">
<path d="M 323.04 535.68 L 540.96 535.68" style="fill: none; stroke: #000000; stroke-linejoin: miter; stroke-linecap: square"/>
</g>
<g id="patch_29">
<path d="M 323.04 317.76 L 540.96 317.76" style="fill: none; stroke: #000000; stroke-linejoin: miter; stroke-linecap: square"/>
</g>
<g id="matplotlib.axis_9">
<g id="xtick_30">
<g id="line2d_150">
<path d="M 355.92 535.92 L 355.92 318" clip-path="url(#p09ebb8ab49)" style="fill: none; stroke-dasharray: 1,3; stroke-dashoffset: 0; stroke: #000000; stroke-width: 0.5"/>
</g>
<g id="line2d_151">
<g>
<use href="#m4973df2420" x="355.92" y="535.92" style="stroke: #000000; stroke-width: 0.5"/>
</g>
</g>
<g id="line2d_152">
<g>
<use href="#m134b7e6b41" x="355.92" y="318" style="stroke: #000000; stroke-width: 0.5"/>
</g>
</g>
<g id="text_73">
<text id="t65" style="font-size: 8.4px; font-family: 'Liberation Sans'; font-kerning: none" x="0.251468" y="0" textLength="9.964201" lengthAdjust="spacingAndGlyphs" transform="translate(350.658 546.256)">26</text>
</g>
</g>
<g id="xtick_31">
<g id="line2d_153">
<path d="M 399.6 535.92 L 399.6 318" clip-path="url(#p09ebb8ab49)" style="fill: none; stroke-dasharray: 1,3; stroke-dashoffset: 0; stroke: #000000; stroke-width: 0.5"/>
</g>
<g id="line2d_154">
<g>
<use href="#m4973df2420" x="399.6" y="535.92" style="stroke: #000000; stroke-width: 0.5"/>
</g>
</g>
<g id="line2d_155">
<g>
<use href="#m134b7e6b41" x="399.6" y="318" style="stroke: #000000; stroke-width: 0.5"/>
</g>
</g>
<g id="text_74">
<text id="t66" style="font-size: 8.4px; font-family: 'Liberation Sans'; font-kerning: none" x="0.371384" y="0" textLength="9.435244" lengthAdjust="spacingAndGlyphs" transform="translate(394.242 546.256)">28</text>
</g>
</g>
<g id="xtick_32">
<g id="line2d_156">
<path d="M 443.28 535.92 L 443.28 318" clip-path="url(#p09ebb8ab49)" style="fill: none; stroke-dasharray: 1,3; stroke-dashoffset: 0; stroke: #000000; stroke-width: 0.5"/>
</g>
<g id="line2d_157">
<g>
<use href="#m4973df2420" x="443.28" y="535.92" style="stroke: #000000; stroke-width: 0.5"/>
</g>
</g>
<g id="line2d_158">
<g>
<use href="#m134b7e6b41" x="443.28" y="318" style="stroke: #000000; stroke-width: 0.5"/>
</g>
</g>
<g id="text_75">
<text id="t67" style="font-size: 8.4px; font-family: 'Liberation Sans'; font-kerning: none" x="0.078453" y="0" textLength="9.799698" lengthAdjust="spacingAndGlyphs" transform="translate(437.826 546.256)">30</text>
</g>
</g>
<g id="xtick_33">
<g id="line2d_159">
<path d="M 486.96 535.92 L 486.96 318" clip-path="url(#p09ebb8ab49)" style="fill: none; stroke-dasharray: 1,3; stroke-dashoffset: 0; stroke: #000000; stroke-width: 0.5"/>
</g>
<g id="line2d_160">
<g>
<use href="#m4973df2420" x="486.96" y="535.92" style="stroke: #000000; stroke-width: 0.5"/>
</g>
</g>
<g id="line2d_161">
<g>
<use href="#m134b7e6b41" x="486.96" y="318" style="stroke: #000000; stroke-width: 0.5"/>
</g>
</g>
<g id="text_76">
<text id="t68" style="font-size: 8.4px; font-family: 'Liberation Sans'; font-kerning: none" x="0.218627" y="0" textLength="9.385751" lengthAdjust="spacingAndGlyphs" transform="translate(481.38 546.256)">32</text>
</g>
</g>
<g id="xtick_34">
<g id="line2d_162">
<path d="M 530.16 535.92 L 530.16 318" clip-path="url(#p09ebb8ab49)" style="fill: none; stroke-dasharray: 1,3; stroke-dashoffset: 0; stroke: #000000; stroke-width: 0.5"/>
</g>
<g id="line2d_163">
<g>
<use href="#m4973df2420" x="530.16" y="535.92" style="stroke: #000000; stroke-width: 0.5"/>
</g>
</g>
<g id="line2d_164">
<g>
<use href="#m134b7e6b41" x="530.16" y="318" style="stroke: #000000; stroke-width: 0.5"/>
</g>
</g>
<g id="text_77">
<text id="t69" style="font-size: 8.4px; font-family: 'Liberation Sans'; font-kerning: none" x="0.273589" y="0" textLength="9.708112" lengthAdjust="spacingAndGlyphs" transform="translate(524.994 546.256)">34</text>
</g>
</g>
<g id="text_78">
<text id="t70" style="font-size: 8.4px; font-family: 'Liberation Sans'; font-kerning: none" x="-0.219146" y="0" textLength="35.631539" lengthAdjust="spacingAndGlyphs" transform="translate(413.94 559.896)">V2(km/s)</text>
</g>
</g>
<g id="matplotlib.axis_10">
<g id="ytick_26">
<g id="line2d_165">
<path d="M 323.28 535.92 L 541.2 535.92" clip-path="url(#p09ebb8ab49)" style="fill: none; stroke-dasharray: 1,3; stroke-dashoffset: 0; stroke: #000000; stroke-width: 0.5"/>
</g>
<g id="line2d_166">
<g>
<use href="#md9424fe3de" x="323.28" y="535.92" style="stroke: #000000; stroke-width: 0.5"/>
</g>
</g>
<g id="line2d_167">
<g>
<use href="#m2b9a4ff74d" x="541.2" y="535.92" style="stroke: #000000; stroke-width: 0.5"/>
</g>
</g>
<g id="text_79">
<text id="t71" style="font-size: 8.4px; font-family: 'Liberation Sans'; font-kerning: none" x="0.168892" y="0" textLength="16.204264" lengthAdjust="spacingAndGlyphs" transform="translate(302.24 537.936)">−30</text>
</g>
</g>
<g id="ytick_27">
<g id="line2d_168">
<path d="M 323.28 492.24 L 541.2 492.24" clip-path="url(#p09ebb8ab49)" style="fill: none; stroke-dasharray: 1,3; stroke-dashoffset: 0; stroke: #000000; stroke-width: 0.5"/>
</g>
<g id="line2d_169">
<g>
<use href="#md9424fe3de" x="323.28" y="492.24" style="stroke: #000000; stroke-width: 0.5"/>
</g>
</g>
<g id="line2d_170">
<g>
<use href="#m2b9a4ff74d" x="541.2" y="492.24" style="stroke: #000000; stroke-width: 0.5"/>
</g>
</g>
<g id="text_80">
<text id="t72" style="font-size: 8.4px; font-family: 'Liberation Sans'; font-kerning: none" x="0.1676" y="0" textLength="16.248672" lengthAdjust="spacingAndGlyphs" transform="translate(302.24 494.3808)">−28</text>
</g>
</g>
<g id="ytick_28">
<g id="line2d_171">
<path d="M 323.28 448.56 L 541.2 448.56" clip-path="url(#p09ebb8ab49)" style="fill: none; stroke-dasharray: 1,3; stroke-dashoffset: 0; stroke: #000000; stroke-width: 0.5"/>
</g>
<g id="line2d_172">
<g>
<use href="#md9424fe3de" x="323.28" y="448.56" style="stroke: #000000; stroke-width: 0.5"/>
</g>
</g>
<g id="line2d_173">
<g>
<use href="#m2b9a4ff74d" x="541.2" y="448.56" style="stroke: #000000; stroke-width: 0.5"/>
</g>
</g>
<g id="text_81">
<text id="t73" style="font-size: 8.4px; font-family: 'Liberation Sans'; font-kerning: none" x="0.167457" y="0" textLength="16.253622" lengthAdjust="spacingAndGlyphs" transform="translate(302.24 450.8256)">−26</text>
</g>
</g>
<g id="ytick_29">
<g id="line2d_174">
<path d="M 323.28 404.88 L 541.2 404.88" clip-path="url(#p09ebb8ab49)" style="fill: none; stroke-dasharray: 1,3; stroke-dashoffset: 0; stroke: #000000; stroke-width: 0.5"/>
</g>
<g id="line2d_175">
<g>
<use href="#md9424fe3de" x="323.28" y="404.88" style="stroke: #000000; stroke-width: 0.5"/>
</g>
</g>
<g id="line2d_176">
<g>
<use href="#m2b9a4ff74d" x="541.2" y="404.88" style="stroke: #000000; stroke-width: 0.5"/>
</g>
</g>
<g id="text_82">
<text id="t74" style="font-size: 8.4px; font-family: 'Liberation Sans'; font-kerning: none" x="0.157102" y="0" textLength="16.609768" lengthAdjust="spacingAndGlyphs" transform="translate(302.24 407.2704)">−24</text>
</g>
</g>
<g id="ytick_30">
<g id="line2d_177">
<path d="M 323.28 361.68 L 541.2 361.68" clip-path="url(#p09ebb8ab49)" style="fill: none; stroke-dasharray: 1,3; stroke-dashoffset: 0; stroke: #000000; stroke-width: 0.5"/>
</g>
<g id="line2d_178">
<g>
<use href="#md9424fe3de" x="323.28" y="361.68" style="stroke: #000000; stroke-width: 0.5"/>
</g>
</g>
<g id="line2d_179">
<g>
<use href="#m2b9a4ff74d" x="541.2" y="361.68" style="stroke: #000000; stroke-width: 0.5"/>
</g>
</g>
<g id="text_83">
<text id="t75" style="font-size: 8.4px; font-family: 'Liberation Sans'; font-kerning: none" x="0.225578" y="0" textLength="16.318239" lengthAdjust="spacingAndGlyphs" transform="translate(302.18 363.7152)">−22</text>
</g>
</g>
<g id="ytick_31">
<g id="line2d_180">
<path d="M 323.28 318 L 541.2 318" clip-path="url(#p09ebb8ab49)" style="fill: none; stroke-dasharray: 1,3; stroke-dashoffset: 0; stroke: #000000; stroke-width: 0.5"/>
</g>
<g id="line2d_181">
<g>
<use href="#md9424fe3de" x="323.28" y="318" style="stroke: #000000; stroke-width: 0.5"/>
</g>
</g>
<g id="line2d_182">
<g>
<use href="#m2b9a4ff74d" x="541.2" y="318" style="stroke: #000000; stroke-width: 0.5"/>
</g>
</g>
<g id="text_84">
<text id="t76" style="font-size: 8.4px; font-family: 'Liberation Sans'; font-kerning: none" x="0.168892" y="0" textLength="16.204264" lengthAdjust="spacingAndGlyphs" transform="translate(302.24 320.16)">−20</text>
</g>
</g>
<g id="text_85">
<text id="t77" style="font-size: 8.4px; font-family: 'Liberation Sans'; font-kerning: none" x="-0.291146" y="0" textLength="35.631539" lengthAdjust="spacingAndGlyphs" transform="translate(295.26 444.708) rotate(-90)">V1(km/s)</text>
</g>
</g>
<g id="text_86">
<g transform="translate(328.8576 524.6472)">
<text>
<tspan x="0.7105" y="-0.25" style="font-size: 9.270px; font-family: 'Liberation Serif', serif; font-style: italic; font-kerning: none" textLength="4.4963" lengthAdjust="spacingAndGlyphs">λ</tspan>
<tspan x="9.8759" y="-0.25" style="font-size: 9.270px; font-family: 'Liberation Serif', serif; font-style: italic; font-kerning: none" textLength="2.4181" lengthAdjust="spacingAndGlyphs">/</tspan>
<tspan x="14.1815" y="-0.25" style="font-size: 9.270px; font-family: 'Liberation Serif', serif; font-style: italic; font-kerning: none" textLength="4.4963" lengthAdjust="spacingAndGlyphs">λ</tspan>
<tspan x="5.2693" y="1.280563" style="font-size: 6.489px; font-family: 'Liberation Serif', serif; font-kerning: none" textLength="2.9883" lengthAdjust="spacingAndGlyphs">1</tspan>
<tspan x="18.7560" y="1.280563" style="font-size: 6.489px; font-family: 'Liberation Serif', serif; font-kerning: none" textLength="3.1385" lengthAdjust="spacingAndGlyphs">2</tspan>
<tspan x="24.1838" y="-0.25" style="font-size: 9.900px; font-family: 'Liberation Serif', serif; font-kerning: none" textLength="6.7818" lengthAdjust="spacingAndGlyphs">≈</tspan>
<tspan x="32.594309" y="-0.25" style="font-size: 9.450px; font-family: 'Liberation Sans', sans-serif; font-kerning: none"> </tspan>
<tspan x="35.7537" y="-0.25" style="font-size: 9.450px; font-family: 'Liberation Sans', sans-serif; font-kerning: none" textLength="5.0394" lengthAdjust="spacingAndGlyphs">1</tspan>
<tspan x="41.2544" y="-0.25" style="font-size: 9.450px; font-family: 'Liberation Sans', sans-serif; font-kerning: none" textLength="2.7057" lengthAdjust="spacingAndGlyphs">.</tspan>
<tspan x="44.3779" y="-0.25" style="font-size: 9.450px; font-family: 'Liberation Sans', sans-serif; font-kerning: none" textLength="4.9796" lengthAdjust="spacingAndGlyphs">5</tspan>
</text>
</g>
</g>
<g id="text_87">
<g transform="translate(325.52869 312.76)">
<text>
<tspan x="0.1820" y="-0.640625" style="font-size: 11.550px; font-family: 'Liberation Sans', sans-serif; font-kerning: none" textLength="7.9022" lengthAdjust="spacingAndGlyphs">H</tspan>
<tspan x="8.3874" y="-0.640625" style="font-size: 11.550px; font-family: 'Liberation Sans', sans-serif; font-kerning: none" textLength="6.5036" lengthAdjust="spacingAndGlyphs">o</tspan>
<tspan x="15.1064" y="-0.640625" style="font-size: 11.550px; font-family: 'Liberation Sans', sans-serif; font-kerning: none" textLength="6.6491" lengthAdjust="spacingAndGlyphs">d</tspan>
<tspan x="22.0998" y="-0.640625" style="font-size: 11.550px; font-family: 'Liberation Sans', sans-serif; font-kerning: none" textLength="6.5036" lengthAdjust="spacingAndGlyphs">o</tspan>
<tspan x="28.8188" y="-0.640625" style="font-size: 11.550px; font-family: 'Liberation Sans', sans-serif; font-kerning: none" textLength="6.6491" lengthAdjust="spacingAndGlyphs">g</tspan>
<tspan x="35.7594" y="-0.640625" style="font-size: 11.550px; font-family: 'Liberation Sans', sans-serif; font-kerning: none" textLength="4.6933" lengthAdjust="spacingAndGlyphs">r</tspan>
<tspan x="40.4592" y="-0.640625" style="font-size: 11.550px; font-family: 'Liberation Sans', sans-serif; font-kerning: none" textLength="5.5013" lengthAdjust="spacingAndGlyphs">a</tspan>
<tspan x="47.1262" y="-0.640625" style="font-size: 11.550px; font-family: 'Liberation Sans', sans-serif; font-kerning: none" textLength="10.4402" lengthAdjust="spacingAndGlyphs">m</tspan>
<tspan x="57.674805" y="-0.640625" style="font-size: 11.550px; font-family: 'Liberation Sans', sans-serif; font-kerning: none"> </tspan>
<tspan x="61.5401" y="-0.640625" style="font-size: 11.550px; font-family: 'Liberation Sans', sans-serif; font-kerning: none" textLength="3.0964" lengthAdjust="spacingAndGlyphs">(</tspan>
<tspan x="65.4998" y="-0.640625" style="font-size: 11.550px; font-family: 'Liberation Sans', sans-serif; font-kerning: none" textLength="7.4458" lengthAdjust="spacingAndGlyphs">V</tspan>
<tspan x="73.2313" y="-0.640625" style="font-size: 11.550px; font-family: 'Liberation Sans', sans-serif; font-kerning: none" textLength="6.2160" lengthAdjust="spacingAndGlyphs">2</tspan>
<tspan x="80.0274" y="-0.640625" style="font-size: 11.550px; font-family: 'Liberation Sans', sans-serif; font-kerning: none" textLength="5.4562" lengthAdjust="spacingAndGlyphs">_</tspan>
<tspan x="85.5232" y="-0.640625" style="font-size: 11.550px; font-family: 'Liberation Sans', sans-serif; font-kerning: none" textLength="7.4458" lengthAdjust="spacingAndGlyphs">V</tspan>
<tspan x="93.3761" y="-0.640625" style="font-size: 11.550px; font-family: 'Liberation Sans', sans-serif; font-kerning: none" textLength="6.1592" lengthAdjust="spacingAndGlyphs">1</tspan>
<tspan x="100.009766" y="-0.640625" style="font-size: 11.550px; font-family: 'Liberation Sans', sans-serif; font-kerning: none"> </tspan>
<tspan x="103.6862" y="-0.640625" style="font-size: 11.550px; font-family: 'Liberation Sans', sans-serif; font-kerning: none" textLength="9.1363" lengthAdjust="spacingAndGlyphs">M</tspan>
<tspan x="113.0340" y="-0.640625" style="font-size: 11.550px; font-family: 'Liberation Sans', sans-serif; font-kerning: none" textLength="7.4458" lengthAdjust="spacingAndGlyphs">V</tspan>
<tspan x="120.5863" y="-0.640625" style="font-size: 11.550px; font-family: 'Liberation Sans', sans-serif; font-kerning: none" textLength="7.3909" lengthAdjust="spacingAndGlyphs">A</tspan>
<tspan x="128.0838" y="-0.640625" style="font-size: 11.550px; font-family: 'Liberation Sans', sans-serif; font-kerning: none" textLength="7.4458" lengthAdjust="spacingAndGlyphs">V</tspan>
<tspan x="172.858091" y="-0.640625" style="font-size: 11.550px; font-family: 'Liberation Sans', sans-serif; font-kerning: none"> </tspan>
<tspan x="176.4026" y="-0.640625" style="font-size: 11.550px; font-family: 'Liberation Sans', sans-serif; font-kerning: none" textLength="4.0130" lengthAdjust="spacingAndGlyphs">f</tspan>
<tspan x="180.2903" y="-0.640625" style="font-size: 11.550px; font-family: 'Liberation Sans', sans-serif; font-kerning: none" textLength="4.6933" lengthAdjust="spacingAndGlyphs">r</tspan>
<tspan x="184.9901" y="-0.640625" style="font-size: 11.550px; font-family: 'Liberation Sans', sans-serif; font-kerning: none" textLength="5.5013" lengthAdjust="spacingAndGlyphs">a</tspan>
<tspan x="191.6572" y="-0.640625" style="font-size: 11.550px; font-family: 'Liberation Sans', sans-serif; font-kerning: none" textLength="10.4402" lengthAdjust="spacingAndGlyphs">m</tspan>
<tspan x="202.3080" y="-0.640625" style="font-size: 11.550px; font-family: 'Liberation Sans', sans-serif; font-kerning: none" textLength="6.6079" lengthAdjust="spacingAndGlyphs">e</tspan>
<tspan x="209.7997" y="-0.640625" style="font-size: 11.550px; font-family: 'Liberation Sans', sans-serif; font-kerning: none" textLength="3.0964" lengthAdjust="spacingAndGlyphs">)</tspan>
<tspan x="135.9081" y="1.230063" style="font-size: 7.931px; font-family: 'Liberation Serif', serif; font-style: italic; font-kerning: none" textLength="3.4710" lengthAdjust="spacingAndGlyphs">r</tspan>
<tspan x="139.6410" y="1.230063" style="font-size: 7.931px; font-family: 'Liberation Serif', serif; font-style: italic; font-kerning: none" textLength="3.3792" lengthAdjust="spacingAndGlyphs">e</tspan>
<tspan x="142.9669" y="1.230063" style="font-size: 7.931px; font-family: 'Liberation Serif', serif; font-style: italic; font-kerning: none" textLength="7.1163" lengthAdjust="spacingAndGlyphs">m</tspan>
<tspan x="149.9241" y="1.230063" style="font-size: 7.931px; font-family: 'Liberation Serif', serif; font-style: italic; font-kerning: none" textLength="4.1194" lengthAdjust="spacingAndGlyphs">a</tspan>
<tspan x="153.5464" y="1.230063" style="font-size: 7.931px; font-family: 'Liberation Serif', serif; font-style: italic; font-kerning: none" textLength="2.9994" lengthAdjust="spacingAndGlyphs">i</tspan>
<tspan x="156.4427" y="1.230063" style="font-size: 7.931px; font-family: 'Liberation Serif', serif; font-style: italic; font-kerning: none" textLength="4.9837" lengthAdjust="spacingAndGlyphs">n</tspan>
<tspan x="160.8178" y="1.230063" style="font-size: 7.931px; font-family: 'Liberation Serif', serif; font-style: italic; font-kerning: none" textLength="2.9994" lengthAdjust="spacingAndGlyphs">i</tspan>
<tspan x="163.7140" y="1.230063" style="font-size: 7.931px; font-family: 'Liberation Serif', serif; font-style: italic; font-kerning: none" textLength="4.9837" lengthAdjust="spacingAndGlyphs">n</tspan>
<tspan x="168.5886" y="1.230063" style="font-size: 7.931px; font-family: 'Liberation Serif', serif; font-style: italic; font-kerning: none" textLength="3.7820" lengthAdjust="spacingAndGlyphs">g</tspan>
</text>
</g>
</g>
</g>
<g id="axes_6">
<g id="patch_30">
<path d="M 589.92 535.536 L 807.84 535.536 L 807.84 317.76 L 589.92 317.76 z
" style="fill: #ffffff"/>
</g>
<g id="line2d_183">
<path d="M 699.456 339.552 L 710.016 398.544 L 689.952 337.968 L 703.152 395.616 L 685.44 386.448 L 695.568 501.168 L 690.336 518.88 L 697.92 454.224 L 693.264 374.016 L 691.296 343.44 L 697.536 405.168 L 701.808 404.16 " clip-path="url(#p499598ceaa)" style="fill: none; stroke: #0000ff; stroke-linecap: square"/>
<g clip-path="url(#p499598ceaa)">
<use href="#med6760d9cf" x="699.36" y="339.36" style="fill: #0000ff; stroke: #0000ff; stroke-width: 0.5"/>
<use href="#med6760d9cf" x="709.92" y="398.4" style="fill: #0000ff; stroke: #0000ff; stroke-width: 0.5"/>
<use href="#med6760d9cf" x="689.76" y="337.92" style="fill: #0000ff; stroke: #0000ff; stroke-width: 0.5"/>
<use href="#med6760d9cf" x="703.2" y="395.52" style="fill: #0000ff; stroke: #0000ff; stroke-width: 0.5"/>
<use href="#med6760d9cf" x="685.44" y="386.4" style="fill: #0000ff; stroke: #0000ff; stroke-width: 0.5"/>
<use href="#med6760d9cf" x="695.52" y="501.12" style="fill: #0000ff; stroke: #0000ff; stroke-width: 0.5"/>
<use href="#med6760d9cf" x="690.24" y="518.88" style="fill: #0000ff; stroke: #0000ff; stroke-width: 0.5"/>
<use href="#med6760d9cf" x="697.92" y="454.08" style="fill: #0000ff; stroke: #0000ff; stroke-width: 0.5"/>
<use href="#med6760d9cf" x="693.12" y="373.92" style="fill: #0000ff; stroke: #0000ff; stroke-width: 0.5"/>
<use href="#med6760d9cf" x="691.2" y="343.68" style="fill: #0000ff; stroke: #0000ff; stroke-width: 0.5"/>
<use href="#med6760d9cf" x="697.44" y="405.12" style="fill: #0000ff; stroke: #0000ff; stroke-width: 0.5"/>
<use href="#med6760d9cf" x="701.76" y="404.16" style="fill: #0000ff; stroke: #0000ff; stroke-width: 0.5"/>
</g>
</g>
<g id="patch_31">
<path d="M 589.92 535.68 L 589.92 317.76" style="fill: none; stroke: #000000; stroke-linejoin: miter; stroke-linecap: square"/>
</g>
<g id="patch_32">
<path d="M 807.84 535.68 L 807.84 317.76" style="fill: none; stroke: #000000; stroke-linejoin: miter; stroke-linecap: square"/>
</g>
<g id="patch_33">
<path d="M 589.92 535.68 L 807.84 535.68" style="fill: none; stroke: #000000; stroke-linejoin: miter; stroke-linecap: square"/>
</g>
<g id="patch_34">
<path d="M 589.92 317.76 L 807.84 317.76" style="fill: none; stroke: #000000; stroke-linejoin: miter; stroke-linecap: square"/>
</g>
<g id="matplotlib.axis_11">
<g id="xtick_35">
<g id="line2d_184">
<path d="M 622.8 535.92 L 622.8 318" clip-path="url(#p499598ceaa)" style="fill: none; stroke-dasharray: 1,3; stroke-dashoffset: 0; stroke: #000000; stroke-width: 0.5"/>
</g>
<g id="line2d_185">
<g>
<use href="#m4973df2420" x="622.8" y="535.92" style="stroke: #000000; stroke-width: 0.5"/>
</g>
</g>
<g id="line2d_186">
<g>
<use href="#m134b7e6b41" x="622.8" y="318" style="stroke: #000000; stroke-width: 0.5"/>
</g>
</g>
<g id="text_88">
<text id="t78" style="font-size: 8.4px; font-family: 'Liberation Sans'; font-kerning: none" x="0.1696" y="0" textLength="16.248672" lengthAdjust="spacingAndGlyphs" transform="translate(614.238 546.256)">−88</text>
</g>
</g>
<g id="xtick_36">
<g id="line2d_187">
<path d="M 666.48 535.92 L 666.48 318" clip-path="url(#p499598ceaa)" style="fill: none; stroke-dasharray: 1,3; stroke-dashoffset: 0; stroke: #000000; stroke-width: 0.5"/>
</g>
<g id="line2d_188">
<g>
<use href="#m4973df2420" x="666.48" y="535.92" style="stroke: #000000; stroke-width: 0.5"/>
</g>
</g>
<g id="line2d_189">
<g>
<use href="#m134b7e6b41" x="666.48" y="318" style="stroke: #000000; stroke-width: 0.5"/>
</g>
</g>
<g id="text_89">
<text id="t79" style="font-size: 8.4px; font-family: 'Liberation Sans'; font-kerning: none" x="0.265457" y="0" textLength="16.253622" lengthAdjust="spacingAndGlyphs" transform="translate(657.822 546.256)">−86</text>
</g>
</g>
<g id="xtick_37">
<g id="line2d_190">
<path d="M 710.16 535.92 L 710.16 318" clip-path="url(#p499598ceaa)" style="fill: none; stroke-dasharray: 1,3; stroke-dashoffset: 0; stroke: #000000; stroke-width: 0.5"/>
</g>
<g id="line2d_191">
<g>
<use href="#m4973df2420" x="710.16" y="535.92" style="stroke: #000000; stroke-width: 0.5"/>
</g>
</g>
<g id="line2d_192">
<g>
<use href="#m134b7e6b41" x="710.16" y="318" style="stroke: #000000; stroke-width: 0.5"/>
</g>
</g>
<g id="text_90">
<text id="t80" style="font-size: 8.4px; font-family: 'Liberation Sans'; font-kerning: none" x="0.365736" y="0" textLength="16.106441" lengthAdjust="spacingAndGlyphs" transform="translate(701.406 546.256)">−84</text>
</g>
</g>
<g id="xtick_38">
<g id="line2d_193">
<path d="M 753.84 535.92 L 753.84 318" clip-path="url(#p499598ceaa)" style="fill: none; stroke-dasharray: 1,3; stroke-dashoffset: 0; stroke: #000000; stroke-width: 0.5"/>
</g>
<g id="line2d_194">
<g>
<use href="#m4973df2420" x="753.84" y="535.92" style="stroke: #000000; stroke-width: 0.5"/>
</g>
</g>
<g id="line2d_195">
<g>
<use href="#m134b7e6b41" x="753.84" y="318" style="stroke: #000000; stroke-width: 0.5"/>
</g>
</g>
<g id="text_91">
<text id="t81" style="font-size: 8.4px; font-family: 'Liberation Sans'; font-kerning: none" x="0.485578" y="0" textLength="16.318239" lengthAdjust="spacingAndGlyphs" transform="translate(744.96 546.256)">−82</text>
</g>
</g>
<g id="xtick_39">
<g id="line2d_196">
<path d="M 797.04 535.92 L 797.04 318" clip-path="url(#p499598ceaa)" style="fill: none; stroke-dasharray: 1,3; stroke-dashoffset: 0; stroke: #000000; stroke-width: 0.5"/>
</g>
<g id="line2d_197">
<g>
<use href="#m4973df2420" x="797.04" y="535.92" style="stroke: #000000; stroke-width: 0.5"/>
</g>
</g>
<g id="line2d_198">
<g>
<use href="#m134b7e6b41" x="797.04" y="318" style="stroke: #000000; stroke-width: 0.5"/>
</g>
</g>
<g id="text_92">
<text id="t82" style="font-size: 8.4px; font-family: 'Liberation Sans'; font-kerning: none" x="0.554892" y="0" textLength="16.204264" lengthAdjust="spacingAndGlyphs" transform="translate(788.574 546.256)">−80</text>
</g>
</g>
<g id="text_93">
<text id="t83" style="font-size: 8.4px; font-family: 'Liberation Sans'; font-kerning: none" x="-0.219146" y="0" textLength="35.631539" lengthAdjust="spacingAndGlyphs" transform="translate(680.82 559.896)">V3(km/s)</text>
</g>
</g>
<g id="matplotlib.axis_12">
<g id="ytick_32">
<g id="line2d_199">
<path d="M 590.16 535.92 L 808.08 535.92" clip-path="url(#p499598ceaa)" style="fill: none; stroke-dasharray: 1,3; stroke-dashoffset: 0; stroke: #000000; stroke-width: 0.5"/>
</g>
<g id="line2d_200">
<g>
<use href="#md9424fe3de" x="590.16" y="535.92" style="stroke: #000000; stroke-width: 0.5"/>
</g>
</g>
<g id="line2d_201">
<g>
<use href="#m2b9a4ff74d" x="808.08" y="535.92" style="stroke: #000000; stroke-width: 0.5"/>
</g>
</g>
<g id="text_94">
<text id="t84" style="font-size: 8.4px; font-family: 'Liberation Sans'; font-kerning: none" x="0.168892" y="0" textLength="16.204264" lengthAdjust="spacingAndGlyphs" transform="translate(569.12 537.936)">−30</text>
</g>
</g>
<g id="ytick_33">
<g id="line2d_202">
<path d="M 590.16 492.24 L 808.08 492.24" clip-path="url(#p499598ceaa)" style="fill: none; stroke-dasharray: 1,3; stroke-dashoffset: 0; stroke: #000000; stroke-width: 0.5"/>
</g>
<g id="line2d_203">
<g>
<use href="#md9424fe3de" x="590.16" y="492.24" style="stroke: #000000; stroke-width: 0.5"/>
</g>
</g>
<g id="line2d_204">
<g>
<use href="#m2b9a4ff74d" x="808.08" y="492.24" style="stroke: #000000; stroke-width: 0.5"/>
</g>
</g>
<g id="text_95">
<text id="t85" style="font-size: 8.4px; font-family: 'Liberation Sans'; font-kerning: none" x="0.1676" y="0" textLength="16.248672" lengthAdjust="spacingAndGlyphs" transform="translate(569.12 494.3808)">−28</text>
</g>
</g>
<g id="ytick_34">
<g id="line2d_205">
<path d="M 590.16 448.56 L 808.08 448.56" clip-path="url(#p499598ceaa)" style="fill: none; stroke-dasharray: 1,3; stroke-dashoffset: 0; stroke: #000000; stroke-width: 0.5"/>
</g>
<g id="line2d_206">
<g>
<use href="#md9424fe3de" x="590.16" y="448.56" style="stroke: #000000; stroke-width: 0.5"/>
</g>
</g>
<g id="line2d_207">
<g>
<use href="#m2b9a4ff74d" x="808.08" y="448.56" style="stroke: #000000; stroke-width: 0.5"/>
</g>
</g>
<g id="text_96">
<text id="t86" style="font-size: 8.4px; font-family: 'Liberation Sans'; font-kerning: none" x="0.167457" y="0" textLength="16.253622" lengthAdjust="spacingAndGlyphs" transform="translate(569.12 450.8256)">−26</text>
</g>
</g>
<g id="ytick_35">
<g id="line2d_208">
<path d="M 590.16 404.88 L 808.08 404.88" clip-path="url(#p499598ceaa)" style="fill: none; stroke-dasharray: 1,3; stroke-dashoffset: 0; stroke: #000000; stroke-width: 0.5"/>
</g>
<g id="line2d_209">
<g>
<use href="#md9424fe3de" x="590.16" y="404.88" style="stroke: #000000; stroke-width: 0.5"/>
</g>
</g>
<g id="line2d_210">
<g>
<use href="#m2b9a4ff74d" x="808.08" y="404.88" style="stroke: #000000; stroke-width: 0.5"/>
</g>
</g>
<g id="text_97">
<text id="t87" style="font-size: 8.4px; font-family: 'Liberation Sans'; font-kerning: none" x="0.157102" y="0" textLength="16.609768" lengthAdjust="spacingAndGlyphs" transform="translate(569.12 407.2704)">−24</text>
</g>
</g>
<g id="ytick_36">
<g id="line2d_211">
<path d="M 590.16 361.68 L 808.08 361.68" clip-path="url(#p499598ceaa)" style="fill: none; stroke-dasharray: 1,3; stroke-dashoffset: 0; stroke: #000000; stroke-width: 0.5"/>
</g>
<g id="line2d_212">
<g>
<use href="#md9424fe3de" x="590.16" y="361.68" style="stroke: #000000; stroke-width: 0.5"/>
</g>
</g>
<g id="line2d_213">
<g>
<use href="#m2b9a4ff74d" x="808.08" y="361.68" style="stroke: #000000; stroke-width: 0.5"/>
</g>
</g>
<g id="text_98">
<text id="t88" style="font-size: 8.4px; font-family: 'Liberation Sans'; font-kerning: none" x="0.225578" y="0" textLength="16.318239" lengthAdjust="spacingAndGlyphs" transform="translate(569.06 363.7152)">−22</text>
</g>
</g>
<g id="ytick_37">
<g id="line2d_214">
<path d="M 590.16 318 L 808.08 318" clip-path="url(#p499598ceaa)" style="fill: none; stroke-dasharray: 1,3; stroke-dashoffset: 0; stroke: #000000; stroke-width: 0.5"/>
</g>
<g id="line2d_215">
<g>
<use href="#md9424fe3de" x="590.16" y="318" style="stroke: #000000; stroke-width: 0.5"/>
</g>
</g>
<g id="line2d_216">
<g>
<use href="#m2b9a4ff74d" x="808.08" y="318" style="stroke: #000000; stroke-width: 0.5"/>
</g>
</g>
<g id="text_99">
<text id="t89" style="font-size: 8.4px; font-family: 'Liberation Sans'; font-kerning: none" x="0.168892" y="0" textLength="16.204264" lengthAdjust="spacingAndGlyphs" transform="translate(569.12 320.16)">−20</text>
</g>
</g>
<g id="text_100">
<text id="t90" style="font-size: 8.4px; font-family: 'Liberation Sans'; font-kerning: none" x="-0.291146" y="0" textLength="35.631539" lengthAdjust="spacingAndGlyphs" transform="translate(562.14 444.708) rotate(-90)">V1(km/s)</text>
</g>
</g>
<g id="text_101">
<g transform="translate(604.4544 524.6472)">
<text>
<tspan x="0.7105" y="-0.25" style="font-size: 9.270px; font-family: 'Liberation Serif', serif; font-style: italic; font-kerning: none" textLength="4.4963" lengthAdjust="spacingAndGlyphs">λ</tspan>
<tspan x="9.8759" y="-0.25" style="font-size: 9.270px; font-family: 'Liberation Serif', serif; font-style: italic; font-kerning: none" textLength="2.4181" lengthAdjust="spacingAndGlyphs">/</tspan>
<tspan x="14.1815" y="-0.25" style="font-size: 9.270px; font-family: 'Liberation Serif', serif; font-style: italic; font-kerning: none" textLength="4.4963" lengthAdjust="spacingAndGlyphs">λ</tspan>
<tspan x="5.2693" y="1.280563" style="font-size: 6.489px; font-family: 'Liberation Serif', serif; font-kerning: none" textLength="2.9883" lengthAdjust="spacingAndGlyphs">1</tspan>
<tspan x="18.6798" y="1.280563" style="font-size: 6.489px; font-family: 'Liberation Serif', serif; font-kerning: none" textLength="3.1649" lengthAdjust="spacingAndGlyphs">3</tspan>
<tspan x="24.1838" y="-0.25" style="font-size: 9.900px; font-family: 'Liberation Serif', serif; font-kerning: none" textLength="6.7818" lengthAdjust="spacingAndGlyphs">≈</tspan>
<tspan x="32.594309" y="-0.25" style="font-size: 9.450px; font-family: 'Liberation Sans', sans-serif; font-kerning: none"> </tspan>
<tspan x="35.7176" y="-0.25" style="font-size: 9.450px; font-family: 'Liberation Sans', sans-serif; font-kerning: none" textLength="5.1613" lengthAdjust="spacingAndGlyphs">7</tspan>
<tspan x="41.3110" y="-0.25" style="font-size: 9.450px; font-family: 'Liberation Sans', sans-serif; font-kerning: none" textLength="5.4609" lengthAdjust="spacingAndGlyphs">6</tspan>
<tspan x="46.9805" y="-0.25" style="font-size: 9.450px; font-family: 'Liberation Sans', sans-serif; font-kerning: none" textLength="2.7057" lengthAdjust="spacingAndGlyphs">.</tspan>
<tspan x="49.8757" y="-0.25" style="font-size: 9.450px; font-family: 'Liberation Sans', sans-serif; font-kerning: none" textLength="5.4498" lengthAdjust="spacingAndGlyphs">9</tspan>
<tspan x="55.7928" y="-0.25" style="font-size: 9.450px; font-family: 'Liberation Sans', sans-serif; font-kerning: none" textLength="5.0394" lengthAdjust="spacingAndGlyphs">1</tspan>
</text>
</g>
</g>
<g id="text_102">
<g transform="translate(592.40869 312.76)">
<text>
<tspan x="0.1820" y="-0.640625" style="font-size: 11.550px; font-family: 'Liberation Sans', sans-serif; font-kerning: none" textLength="7.9022" lengthAdjust="spacingAndGlyphs">H</tspan>
<tspan x="8.3874" y="-0.640625" style="font-size: 11.550px; font-family: 'Liberation Sans', sans-serif; font-kerning: none" textLength="6.5036" lengthAdjust="spacingAndGlyphs">o</tspan>
<tspan x="15.1064" y="-0.640625" style="font-size: 11.550px; font-family: 'Liberation Sans', sans-serif; font-kerning: none" textLength="6.6491" lengthAdjust="spacingAndGlyphs">d</tspan>
<tspan x="22.0998" y="-0.640625" style="font-size: 11.550px; font-family: 'Liberation Sans', sans-serif; font-kerning: none" textLength="6.5036" lengthAdjust="spacingAndGlyphs">o</tspan>
<tspan x="28.8188" y="-0.640625" style="font-size: 11.550px; font-family: 'Liberation Sans', sans-serif; font-kerning: none" textLength="6.6491" lengthAdjust="spacingAndGlyphs">g</tspan>
<tspan x="35.7594" y="-0.640625" style="font-size: 11.550px; font-family: 'Liberation Sans', sans-serif; font-kerning: none" textLength="4.6933" lengthAdjust="spacingAndGlyphs">r</tspan>
<tspan x="40.4592" y="-0.640625" style="font-size: 11.550px; font-family: 'Liberation Sans', sans-serif; font-kerning: none" textLength="5.5013" lengthAdjust="spacingAndGlyphs">a</tspan>
<tspan x="47.1262" y="-0.640625" style="font-size: 11.550px; font-family: 'Liberation Sans', sans-serif; font-kerning: none" textLength="10.4402" lengthAdjust="spacingAndGlyphs">m</tspan>
<tspan x="57.674805" y="-0.640625" style="font-size: 11.550px; font-family: 'Liberation Sans', sans-serif; font-kerning: none"> </tspan>
<tspan x="61.5401" y="-0.640625" style="font-size: 11.550px; font-family: 'Liberation Sans', sans-serif; font-kerning: none" textLength="3.0964" lengthAdjust="spacingAndGlyphs">(</tspan>
<tspan x="65.4998" y="-0.640625" style="font-size: 11.550px; font-family: 'Liberation Sans', sans-serif; font-kerning: none" textLength="7.4458" lengthAdjust="spacingAndGlyphs">V</tspan>
<tspan x="73.4016" y="-0.640625" style="font-size: 11.550px; font-family: 'Liberation Sans', sans-serif; font-kerning: none" textLength="6.1933" lengthAdjust="spacingAndGlyphs">3</tspan>
<tspan x="80.0274" y="-0.640625" style="font-size: 11.550px; font-family: 'Liberation Sans', sans-serif; font-kerning: none" textLength="5.4562" lengthAdjust="spacingAndGlyphs">_</tspan>
<tspan x="85.5232" y="-0.640625" style="font-size: 11.550px; font-family: 'Liberation Sans', sans-serif; font-kerning: none" textLength="7.4458" lengthAdjust="spacingAndGlyphs">V</tspan>
<tspan x="93.3761" y="-0.640625" style="font-size: 11.550px; font-family: 'Liberation Sans', sans-serif; font-kerning: none" textLength="6.1592" lengthAdjust="spacingAndGlyphs">1</tspan>
<tspan x="100.009766" y="-0.640625" style="font-size: 11.550px; font-family: 'Liberation Sans', sans-serif; font-kerning: none"> </tspan>
<tspan x="103.6862" y="-0.640625" style="font-size: 11.550px; font-family: 'Liberation Sans', sans-serif; font-kerning: none" textLength="9.1363" lengthAdjust="spacingAndGlyphs">M</tspan>
<tspan x="113.0340" y="-0.640625" style="font-size: 11.550px; font-family: 'Liberation Sans', sans-serif; font-kerning: none" textLength="7.4458" lengthAdjust="spacingAndGlyphs">V</tspan>
<tspan x="120.5863" y="-0.640625" style="font-size: 11.550px; font-family: 'Liberation Sans', sans-serif; font-kerning: none" textLength="7.3909" lengthAdjust="spacingAndGlyphs">A</tspan>
<tspan x="128.0838" y="-0.640625" style="font-size: 11.550px; font-family: 'Liberation Sans', sans-serif; font-kerning: none" textLength="7.4458" lengthAdjust="spacingAndGlyphs">V</tspan>
<tspan x="172.858091" y="-0.640625" style="font-size: 11.550px; font-family: 'Liberation Sans', sans-serif; font-kerning: none"> </tspan>
<tspan x="176.4026" y="-0.640625" style="font-size: 11.550px; font-family: 'Liberation Sans', sans-serif; font-kerning: none" textLength="4.0130" lengthAdjust="spacingAndGlyphs">f</tspan>
<tspan x="180.2903" y="-0.640625" style="font-size: 11.550px; font-family: 'Liberation Sans', sans-serif; font-kerning: none" textLength="4.6933" lengthAdjust="spacingAndGlyphs">r</tspan>
<tspan x="184.9901" y="-0.640625" style="font-size: 11.550px; font-family: 'Liberation Sans', sans-serif; font-kerning: none" textLength="5.5013" lengthAdjust="spacingAndGlyphs">a</tspan>
<tspan x="191.6572" y="-0.640625" style="font-size: 11.550px; font-family: 'Liberation Sans', sans-serif; font-kerning: none" textLength="10.4402" lengthAdjust="spacingAndGlyphs">m</tspan>
<tspan x="202.3080" y="-0.640625" style="font-size: 11.550px; font-family: 'Liberation Sans', sans-serif; font-kerning: none" textLength="6.6079" lengthAdjust="spacingAndGlyphs">e</tspan>
<tspan x="209.7997" y="-0.640625" style="font-size: 11.550px; font-family: 'Liberation Sans', sans-serif; font-kerning: none" textLength="3.0964" lengthAdjust="spacingAndGlyphs">)</tspan>
<tspan x="135.9081" y="1.230063" style="font-size: 7.931px; font-family: 'Liberation Serif', serif; font-style: italic; font-kerning: none" textLength="3.4710" lengthAdjust="spacingAndGlyphs">r</tspan>
<tspan x="139.6410" y="1.230063" style="font-size: 7.931px; font-family: 'Liberation Serif', serif; font-style: italic; font-kerning: none" textLength="3.3792" lengthAdjust="spacingAndGlyphs">e</tspan>
<tspan x="142.9669" y="1.230063" style="font-size: 7.931px; font-family: 'Liberation Serif', serif; font-style: italic; font-kerning: none" textLength="7.1163" lengthAdjust="spacingAndGlyphs">m</tspan>
<tspan x="149.9241" y="1.230063" style="font-size: 7.931px; font-family: 'Liberation Serif', serif; font-style: italic; font-kerning: none" textLength="4.1194" lengthAdjust="spacingAndGlyphs">a</tspan>
<tspan x="153.5464" y="1.230063" style="font-size: 7.931px; font-family: 'Liberation Serif', serif; font-style: italic; font-kerning: none" textLength="2.9994" lengthAdjust="spacingAndGlyphs">i</tspan>
<tspan x="156.4427" y="1.230063" style="font-size: 7.931px; font-family: 'Liberation Serif', serif; font-style: italic; font-kerning: none" textLength="4.9837" lengthAdjust="spacingAndGlyphs">n</tspan>
<tspan x="160.8178" y="1.230063" style="font-size: 7.931px; font-family: 'Liberation Serif', serif; font-style: italic; font-kerning: none" textLength="2.9994" lengthAdjust="spacingAndGlyphs">i</tspan>
<tspan x="163.7140" y="1.230063" style="font-size: 7.931px; font-family: 'Liberation Serif', serif; font-style: italic; font-kerning: none" textLength="4.9837" lengthAdjust="spacingAndGlyphs">n</tspan>
<tspan x="168.5886" y="1.230063" style="font-size: 7.931px; font-family: 'Liberation Serif', serif; font-style: italic; font-kerning: none" textLength="3.7820" lengthAdjust="spacingAndGlyphs">g</tspan>
</text>
</g>
</g>
</g>
<g id="axes_7">
<g id="patch_35">
<path d="M 56.16 733.128 L 807.84 733.128 L 807.84 626.376 L 56.16 626.376 z
" style="fill: #ffffff"/>
</g>
<g id="line2d_217">
<path d="M 56.16 646.512 L 124.494545 646.368 L 192.829091 646.56 L 261.163636 646.896 L 329.498182 646.896 L 397.832727 646.56 L 466.167273 647.088 L 534.501818 647.28 L 602.836364 647.616 L 671.170909 647.616 L 739.505455 647.616 L 807.84 647.808 " clip-path="url(#pae9485739e)" style="fill: none; stroke: #ff0000; stroke-linecap: square"/>
</g>
<g id="line2d_218">
<path d="M 56.16 724.032 L 124.494545 724.752 L 192.829091 725.472 L 261.163636 726.192 L 329.498182 725.664 L 397.832727 724.224 L 466.167273 726.048 L 534.501818 727.824 L 602.836364 728.544 L 671.170909 728.928 L 739.505455 728.4 L 807.84 729.648 " clip-path="url(#pae9485739e)" style="fill: none; stroke: #008000; stroke-linecap: square"/>
</g>
<g id="line2d_219">
<path d="M 56.16 702.672 L 124.494545 703.584 L 192.829091 703.056 L 261.163636 702.672 L 329.498182 701.76 L 397.832727 700.848 L 466.167273 700.128 L 534.501818 701.568 L 602.836364 701.232 L 671.170909 702.144 L 739.505455 702.144 L 807.84 702.288 " clip-path="url(#pae9485739e)" style="fill: none; stroke: #0000ff; stroke-linecap: square"/>
</g>
<g id="line2d_220">
<path d="M 56.4 712.08 L 808.08 712.08" clip-path="url(#pae9485739e)" style="fill: none; stroke-dasharray: 6,6; stroke-dashoffset: 0; stroke: #000000; stroke-width: 0.5"/>
</g>
<g id="patch_36">
<path d="M 56.16 732.96 L 56.16 626.4" style="fill: none; stroke: #000000; stroke-linejoin: miter; stroke-linecap: square"/>
</g>
<g id="patch_37">
<path d="M 807.84 732.96 L 807.84 626.4" style="fill: none; stroke: #000000; stroke-linejoin: miter; stroke-linecap: square"/>
</g>
<g id="patch_38">
<path d="M 56.16 732.96 L 807.84 732.96" style="fill: none; stroke: #000000; stroke-linejoin: miter; stroke-linecap: square"/>
</g>
<g id="patch_39">
<path d="M 56.16 626.4 L 807.84 626.4" style="fill: none; stroke: #000000; stroke-linejoin: miter; stroke-linecap: square"/>
</g>
<g id="matplotlib.axis_13">
<g id="xtick_40">
<g id="line2d_221">
<g>
<use href="#m4973df2420" x="329.52" y="733.2" style="stroke: #000000; stroke-width: 0.5"/>
</g>
</g>
<g id="line2d_222">
<g>
<use href="#m134b7e6b41" x="329.52" y="626.64" style="stroke: #000000; stroke-width: 0.5"/>
</g>
</g>
<g id="text_103">
<text id="t91" style="font-size: 8.4px; font-family: 'Liberation Sans'; font-kerning: none" x="-0.066954" y="0" textLength="61.287237" lengthAdjust="spacingAndGlyphs" transform="translate(298.748182 743.848)">06/19 12:35:11</text>
</g>
</g>
<g id="xtick_41">
<g id="line2d_223">
<g>
<use href="#m4973df2420" x="671.28" y="733.2" style="stroke: #000000; stroke-width: 0.5"/>
</g>
</g>
<g id="line2d_224">
<g>
<use href="#m134b7e6b41" x="671.28" y="626.64" style="stroke: #000000; stroke-width: 0.5"/>
</g>
</g>
<g id="text_104">
<text id="t92" style="font-size: 8.4px; font-family: 'Liberation Sans'; font-kerning: none" x="-0.009415" y="0" textLength="61.241826" lengthAdjust="spacingAndGlyphs" transform="translate(640.450909 743.848)">06/19 12:35:16</text>
</g>
</g>
</g>
<g id="matplotlib.axis_14">
<g id="ytick_38">
<g id="line2d_225">
<g>
<use href="#md9424fe3de" x="56.4" y="733.2" style="stroke: #000000; stroke-width: 0.5"/>
</g>
</g>
<g id="line2d_226">
<g>
<use href="#m2b9a4ff74d" x="808.08" y="733.2" style="stroke: #000000; stroke-width: 0.5"/>
</g>
</g>
<g id="text_105">
<text id="t93" style="font-size: 8.4px; font-family: 'Liberation Sans'; font-kerning: none" x="0.588892" y="0" textLength="16.204264" lengthAdjust="spacingAndGlyphs" transform="translate(35.42 735.528)">−50</text>
</g>
</g>
<g id="ytick_39">
<g id="line2d_227">
<g>
<use href="#md9424fe3de" x="56.4" y="712.08" style="stroke: #000000; stroke-width: 0.5"/>
</g>
</g>
<g id="line2d_228">
<g>
<use href="#m2b9a4ff74d" x="808.08" y="712.08" style="stroke: #000000; stroke-width: 0.5"/>
</g>
</g>
<g id="text_106">
<text id="t94" style="font-size: 8.4px; font-family: 'Liberation Sans'; font-kerning: none" x="0.046987" y="0" textLength="5.026027" lengthAdjust="spacingAndGlyphs" transform="translate(47.12 714.1776)">0</text>
</g>
</g>
<g id="ytick_40">
<g id="line2d_229">
<g>
<use href="#md9424fe3de" x="56.4" y="690.48" style="stroke: #000000; stroke-width: 0.5"/>
</g>
</g>
<g id="line2d_230">
<g>
<use href="#m2b9a4ff74d" x="808.08" y="690.48" style="stroke: #000000; stroke-width: 0.5"/>
</g>
</g>
<g id="text_107">
<text id="t95" style="font-size: 8.4px; font-family: 'Liberation Sans'; font-kerning: none" x="0.30518" y="0" textLength="9.301474" lengthAdjust="spacingAndGlyphs" transform="translate(42.08 692.8272)">50</text>
</g>
</g>
<g id="ytick_41">
<g id="line2d_231">
<g>
<use href="#md9424fe3de" x="56.4" y="669.36" style="stroke: #000000; stroke-width: 0.5"/>
</g>
</g>
<g id="line2d_232">
<g>
<use href="#m2b9a4ff74d" x="808.08" y="669.36" style="stroke: #000000; stroke-width: 0.5"/>
</g>
</g>
<g id="text_108">
<text id="t96" style="font-size: 8.4px; font-family: 'Liberation Sans'; font-kerning: none" x="0.257347" y="0" textLength="14.952732" lengthAdjust="spacingAndGlyphs" transform="translate(36.98 671.4768)">100</text>
</g>
</g>
<g id="ytick_42">
<g id="line2d_233">
<g>
<use href="#md9424fe3de" x="56.4" y="647.76" style="stroke: #000000; stroke-width: 0.5"/>
</g>
</g>
<g id="line2d_234">
<g>
<use href="#m2b9a4ff74d" x="808.08" y="647.76" style="stroke: #000000; stroke-width: 0.5"/>
</g>
</g>
<g id="text_109">
<text id="t97" style="font-size: 8.4px; font-family: 'Liberation Sans'; font-kerning: none" x="0.257347" y="0" textLength="14.952732" lengthAdjust="spacingAndGlyphs" transform="translate(36.98 650.1264)">150</text>
</g>
</g>
<g id="ytick_43">
<g id="line2d_235">
<g>
<use href="#md9424fe3de" x="56.4" y="626.64" style="stroke: #000000; stroke-width: 0.5"/>
</g>
</g>
<g id="line2d_236">
<g>
<use href="#m2b9a4ff74d" x="808.08" y="626.64" style="stroke: #000000; stroke-width: 0.5"/>
</g>
</g>
<g id="text_110">
<text id="t98" style="font-size: 8.4px; font-family: 'Liberation Sans'; font-kerning: none" x="0.01666" y="0" textLength="14.707681" lengthAdjust="spacingAndGlyphs" transform="translate(36.98 628.776)">200</text>
</g>
</g>
<g id="text_111">
<text id="t99" style="font-size: 8.4px; font-family: 'Liberation Sans'; font-kerning: none" x="-1.349944" y="0" textLength="21.39258" lengthAdjust="spacingAndGlyphs" transform="translate(28.5 690.552) rotate(-90)">B(nT)</text>
</g>
</g>
<g id="text_112">
<text id="t100" style="font-size: 11.55px; font-family: 'Liberation Sans'; font-kerning: none" x="-0.017702" y="0" textLength="150.996799" lengthAdjust="spacingAndGlyphs" transform="translate(356.64 621.376)">Magnetic Field (RTN Frame)</text>
</g>
<g id="legend_4">
<g id="patch_40">
<path d="M 769.92 663.84 L 804.48 663.84 L 804.48 629.76 L 769.92 629.76 z" style="fill: #ffffff; stroke: #000000; stroke-linejoin: miter"/>
</g>
<g id="line2d_237">
<path d="M 774.72 636 L 784.8 636" style="fill: none; stroke: #ff0000; stroke-linecap: square"/>
</g>
<g id="text_113">
<text id="t101" style="font-size: 7.35px; font-family: 'Liberation Sans'; font-kerning: none" x="0.048429" y="0" textLength="7.455341" lengthAdjust="spacingAndGlyphs" transform="translate(792.3 638.436)">Br</text>
</g>
<g id="line2d_238">
<path d="M 774.72 646.56 L 784.8 646.56" style="fill: none; stroke: #008000; stroke-linecap: square"/>
</g>
<g id="text_114">
<text id="t102" style="font-size: 7.35px; font-family: 'Liberation Sans'; font-kerning: none" x="0.015616" y="0" textLength="7.421918" lengthAdjust="spacingAndGlyphs" transform="translate(792.3 649.136)">Bt</text>
</g>
<g id="line2d_239">
<path d="M 774.72 657.6 L 784.8 657.6" style="fill: none; stroke: #0000ff; stroke-linecap: square"/>
</g>
<g id="text_115">
<text id="t103" style="font-size: 7.35px; font-family: 'Liberation Sans'; font-kerning: none" x="0.074592" y="0" textLength="8.728857" lengthAdjust="spacingAndGlyphs" transform="translate(792.3 659.836)">Bn</text>
</g>
</g>
</g>
<g id="axes_8">
<g id="patch_41">
<path d="M 56.16 893.256 L 807.84 893.256 L 807.84 786.504 L 56.16 786.504 z
" style="fill: #ffffff"/>
</g>
<g id="line2d_240">
<path d="M 56.16 885.552 L 124.494545 886.08 L 192.829091 885.936 L 261.163636 885.744 L 329.498182 885.024 L 397.832727 884.64 L 466.167273 884.496 L 534.501818 885.36 L 602.836364 885.024 L 671.170909 885.552 L 739.505455 885.552 L 807.84 885.744 " clip-path="url(#pa84ba114ab)" style="fill: none; stroke: #ff0000; stroke-linecap: square"/>
</g>
<g id="line2d_241">
<path d="M 56.16 849.36 L 124.494545 848.976 L 192.829091 848.64 L 261.163636 847.728 L 329.498182 847.92 L 397.832727 848.976 L 466.167273 847.728 L 534.501818 847.008 L 602.836364 845.568 L 671.170909 845.568 L 739.505455 846.096 L 807.84 844.992 " clip-path="url(#pa84ba114ab)" style="fill: none; stroke: #008000; stroke-linecap: square"/>
</g>
<g id="line2d_242">
<path d="M 56.16 818.4 L 124.494545 819.12 L 192.829091 818.928 L 261.163636 818.736 L 329.498182 818.208 L 397.832727 817.68 L 466.167273 817.104 L 534.501818 818.208 L 602.836364 817.824 L 671.170909 818.4 L 739.505455 818.4 L 807.84 818.544 " clip-path="url(#pa84ba114ab)" style="fill: none; stroke: #0000ff; stroke-linecap: square"/>
</g>
<g id="line2d_243">
<path d="M 56.16 799.2 L 124.32 799.2 L 192.96 799.2 L 261.12 799.2 L 329.28 799.2 L 397.92 799.2 L 466.08 799.2 L 534.72 799.2 L 602.88 799.2 L 671.04 799.2 L 739.68 799.2 L 807.84 799.2" clip-path="url(#pa84ba114ab)" style="fill: none; stroke: #000000; stroke-linecap: square"/>
</g>
<g id="line2d_244">
<path d="M 56.4 847.92 L 808.08 847.92" clip-path="url(#pa84ba114ab)" style="fill: none; stroke-dasharray: 6,6; stroke-dashoffset: 0; stroke: #000000; stroke-width: 0.5"/>
</g>
<g id="patch_42">
<path d="M 56.16 893.28 L 56.16 786.72" style="fill: none; stroke: #000000; stroke-linejoin: miter; stroke-linecap: square"/>
</g>
<g id="patch_43">
<path d="M 807.84 893.28 L 807.84 786.72" style="fill: none; stroke: #000000; stroke-linejoin: miter; stroke-linecap: square"/>
</g>
<g id="patch_44">
<path d="M 56.16 893.28 L 807.84 893.28" style="fill: none; stroke: #000000; stroke-linejoin: miter; stroke-linecap: square"/>
</g>
<g id="patch_45">
<path d="M 56.16 786.72 L 807.84 786.72" style="fill: none; stroke: #000000; stroke-linejoin: miter; stroke-linecap: square"/>
</g>
<g id="matplotlib.axis_15">
<g id="xtick_42">
<g id="line2d_245">
<g>
<use href="#m4973df2420" x="329.52" y="893.52" style="stroke: #000000; stroke-width: 0.5"/>
</g>
</g>
<g id="line2d_246">
<g>
<use href="#m134b7e6b41" x="329.52" y="786.96" style="stroke: #000000; stroke-width: 0.5"/>
</g>
</g>
<g id="text_116">
<text id="t104" style="font-size: 8.4px; font-family: 'Liberation Sans'; font-kerning: none" x="-0.066954" y="0" textLength="61.287237" lengthAdjust="spacingAndGlyphs" transform="translate(298.748182 903.976)">06/19 12:35:11</text>
</g>
</g>
<g id="xtick_43">
<g id="line2d_247">
<g>
<use href="#m4973df2420" x="671.28" y="893.52" style="stroke: #000000; stroke-width: 0.5"/>
</g>
</g>
<g id="line2d_248">
<g>
<use href="#m134b7e6b41" x="671.28" y="786.96" style="stroke: #000000; stroke-width: 0.5"/>
</g>
</g>
<g id="text_117">
<text id="t105" style="font-size: 8.4px; font-family: 'Liberation Sans'; font-kerning: none" x="-0.009415" y="0" textLength="61.241826" lengthAdjust="spacingAndGlyphs" transform="translate(640.450909 903.976)">06/19 12:35:16</text>
</g>
</g>
</g>
<g id="matplotlib.axis_16">
<g id="ytick_44">
<g id="line2d_249">
<g>
<use href="#md9424fe3de" x="56.4" y="893.52" style="stroke: #000000; stroke-width: 0.5"/>
</g>
</g>
<g id="line2d_250">
<g>
<use href="#m2b9a4ff74d" x="808.08" y="893.52" style="stroke: #000000; stroke-width: 0.5"/>
</g>
</g>
<g id="text_118">
<text id="t106" style="font-size: 8.4px; font-family: 'Liberation Sans'; font-kerning: none" x="0.409639" y="0" textLength="21.482924" lengthAdjust="spacingAndGlyphs" transform="translate(30.32 895.656)">−150</text>
</g>
</g>
<g id="ytick_45">
<g id="line2d_251">
<g>
<use href="#md9424fe3de" x="56.4" y="878.16" style="stroke: #000000; stroke-width: 0.5"/>
</g>
</g>
<g id="line2d_252">
<g>
<use href="#m2b9a4ff74d" x="808.08" y="878.16" style="stroke: #000000; stroke-width: 0.5"/>
</g>
</g>
<g id="text_119">
<text id="t107" style="font-size: 8.4px; font-family: 'Liberation Sans'; font-kerning: none" x="0.409639" y="0" textLength="21.482924" lengthAdjust="spacingAndGlyphs" transform="translate(30.32 880.405714)">−100</text>
</g>
</g>
<g id="ytick_46">
<g id="line2d_253">
<g>
<use href="#md9424fe3de" x="56.4" y="862.8" style="stroke: #000000; stroke-width: 0.5"/>
</g>
</g>
<g id="line2d_254">
<g>
<use href="#m2b9a4ff74d" x="808.08" y="862.8" style="stroke: #000000; stroke-width: 0.5"/>
</g>
</g>
<g id="text_120">
<text id="t108" style="font-size: 8.4px; font-family: 'Liberation Sans'; font-kerning: none" x="0.588892" y="0" textLength="16.204264" lengthAdjust="spacingAndGlyphs" transform="translate(35.42 865.155429)">−50</text>
</g>
</g>
<g id="ytick_47">
<g id="line2d_255">
<g>
<use href="#md9424fe3de" x="56.4" y="847.92" style="stroke: #000000; stroke-width: 0.5"/>
</g>
</g>
<g id="line2d_256">
<g>
<use href="#m2b9a4ff74d" x="808.08" y="847.92" style="stroke: #000000; stroke-width: 0.5"/>
</g>
</g>
<g id="text_121">
<text id="t109" style="font-size: 8.4px; font-family: 'Liberation Sans'; font-kerning: none" x="0.046987" y="0" textLength="5.026027" lengthAdjust="spacingAndGlyphs" transform="translate(47.12 849.905143)">0</text>
</g>
</g>
<g id="ytick_48">
<g id="line2d_257">
<g>
<use href="#md9424fe3de" x="56.4" y="832.56" style="stroke: #000000; stroke-width: 0.5"/>
</g>
</g>
<g id="line2d_258">
<g>
<use href="#m2b9a4ff74d" x="808.08" y="832.56" style="stroke: #000000; stroke-width: 0.5"/>
</g>
</g>
<g id="text_122">
<text id="t110" style="font-size: 8.4px; font-family: 'Liberation Sans'; font-kerning: none" x="0.30518" y="0" textLength="9.301474" lengthAdjust="spacingAndGlyphs" transform="translate(42.08 834.654857)">50</text>
</g>
</g>
<g id="ytick_49">
<g id="line2d_259">
<g>
<use href="#md9424fe3de" x="56.4" y="817.2" style="stroke: #000000; stroke-width: 0.5"/>
</g>
</g>
<g id="line2d_260">
<g>
<use href="#m2b9a4ff74d" x="808.08" y="817.2" style="stroke: #000000; stroke-width: 0.5"/>
</g>
</g>
<g id="text_123">
<text id="t111" style="font-size: 8.4px; font-family: 'Liberation Sans'; font-kerning: none" x="0.257347" y="0" textLength="14.952732" lengthAdjust="spacingAndGlyphs" transform="translate(36.98 819.404571)">100</text>
</g>
</g>
<g id="ytick_50">
<g id="line2d_261">
<g>
<use href="#md9424fe3de" x="56.4" y="801.84" style="stroke: #000000; stroke-width: 0.5"/>
</g>
</g>
<g id="line2d_262">
<g>
<use href="#m2b9a4ff74d" x="808.08" y="801.84" style="stroke: #000000; stroke-width: 0.5"/>
</g>
</g>
<g id="text_124">
<text id="t112" style="font-size: 8.4px; font-family: 'Liberation Sans'; font-kerning: none" x="0.257347" y="0" textLength="14.952732" lengthAdjust="spacingAndGlyphs" transform="translate(36.98 804.154286)">150</text>
</g>
</g>
<g id="ytick_51">
<g id="line2d_263">
<g>
<use href="#md9424fe3de" x="56.4" y="786.96" style="stroke: #000000; stroke-width: 0.5"/>
</g>
</g>
<g id="line2d_264">
<g>
<use href="#m2b9a4ff74d" x="808.08" y="786.96" style="stroke: #000000; stroke-width: 0.5"/>
</g>
</g>
<g id="text_125">
<text id="t113" style="font-size: 8.4px; font-family: 'Liberation Sans'; font-kerning: none" x="0.01666" y="0" textLength="14.707681" lengthAdjust="spacingAndGlyphs" transform="translate(36.98 788.904)">200</text>
</g>
</g>
<g id="text_126">
<text id="t114" style="font-size: 8.4px; font-family: 'Liberation Sans'; font-kerning: none" x="-1.061944" y="0" textLength="21.39258" lengthAdjust="spacingAndGlyphs" transform="translate(23.4 850.68) rotate(-90)">B(nT)</text>
</g>
</g>
<g id="text_127">
<text id="t115" style="font-size: 11.55px; font-family: 'Liberation Sans'; font-kerning: none" x="0.182176" y="0" textLength="182.694572" lengthAdjust="spacingAndGlyphs" transform="translate(340.59 781.504)">Magnetic Field (Flux Rope Frame)</text>
</g>
<g id="legend_5">
<g id="patch_46">
<path d="M 768.48 835.2 L 804.48 835.2 L 804.48 790.08 L 768.48 790.08 z" style="fill: #ffffff; stroke: #000000; stroke-linejoin: miter"/>
</g>
<g id="line2d_265">
<path d="M 773.28 796.32 L 782.88 796.32" style="fill: none; stroke: #ff0000; stroke-linecap: square"/>
</g>
<g id="text_128">
<text id="t116" style="font-size: 7.35px; font-family: 'Liberation Sans'; font-kerning: none" x="0.13745" y="0" textLength="10.636494" lengthAdjust="spacingAndGlyphs" transform="translate(790.74 798.564)">Bx'</text>
</g>
<g id="line2d_266">
<path d="M 773.28 806.88 L 782.88 806.88" style="fill: none; stroke: #008000; stroke-linecap: square"/>
</g>
<g id="text_129">
<text id="t117" style="font-size: 7.35px; font-family: 'Liberation Sans'; font-kerning: none" x="0.13745" y="0" textLength="10.636494" lengthAdjust="spacingAndGlyphs" transform="translate(790.74 809.264)">By'</text>
</g>
<g id="line2d_267">
<path d="M 773.28 817.44 L 782.88 817.44" style="fill: none; stroke: #0000ff; stroke-linecap: square"/>
</g>
<g id="text_130">
<text id="t118" style="font-size: 7.35px; font-family: 'Liberation Sans'; font-kerning: none" x="0.169578" y="0" textLength="10.104669" lengthAdjust="spacingAndGlyphs" transform="translate(790.74 819.964)">Bz'</text>
</g>
<g id="line2d_268">
<path d="M 773.28 828 L 782.88 828" style="fill: none; stroke: #000000; stroke-linecap: square"/>
</g>
<g id="text_131">
<text id="t119" style="font-size: 7.35px; font-family: 'Liberation Sans'; font-kerning: none" x="0.09907" y="0" textLength="9.04186" lengthAdjust="spacingAndGlyphs" transform="translate(790.74 830.664)">|B|</text>
</g>
</g>
</g>
<g id="axes_9">
<g id="patch_47">
<path d="M 56.16 1053.384 L 807.84 1053.384 L 807.84 946.632 L 56.16 946.632 z
" style="fill: #ffffff"/>
</g>
<g id="line2d_269">
<path d="M 56.16 947.664 L 124.494545 948.048 L 192.829091 947.52 L 261.163636 947.52 L 329.498182 947.52 L 397.832727 947.808 L 466.167273 947.52 L 534.501818 947.136 L 602.836364 946.944 L 671.170909 946.944 L 739.505455 946.944 L 807.84 947.136 " clip-path="url(#p8bfd43684a)" style="fill: none; stroke: #ff0000; stroke-linecap: square"/>
</g>
<g id="line2d_270">
<path d="M 56.16 1043.664 L 124.494545 1043.664 L 192.829091 1042.896 L 261.163636 1043.088 L 329.498182 1043.472 L 397.832727 1043.808 L 466.167273 1043.664 L 534.501818 1042.752 L 602.836364 1042.56 L 671.170909 1042.032 L 739.505455 1042.896 L 807.84 1041.84 " clip-path="url(#p8bfd43684a)" style="fill: none; stroke: #008000; stroke-linecap: square"/>
</g>
<g id="line2d_271">
<path d="M 56.16 1030.08 L 124.494545 1030.08 L 192.829091 1029.504 L 261.163636 1029.888 L 329.498182 1031.136 L 397.832727 1031.856 L 466.167273 1031.856 L 534.501818 1030.8 L 602.836364 1030.992 L 671.170909 1030.224 L 739.505455 1030.608 L 807.84 1030.416 " clip-path="url(#p8bfd43684a)" style="fill: none; stroke: #0000ff; stroke-linecap: square"/>
</g>
<g id="patch_48">
<path d="M 56.16 1053.6 L 56.16 946.56" style="fill: none; stroke: #000000; stroke-linejoin: miter; stroke-linecap: square"/>
</g>
<g id="patch_49">
<path d="M 807.84 1053.6 L 807.84 946.56" style="fill: none; stroke: #000000; stroke-linejoin: miter; stroke-linecap: square"/>
</g>
<g id="patch_50">
<path d="M 56.16 1053.6 L 807.84 1053.6" style="fill: none; stroke: #000000; stroke-linejoin: miter; stroke-linecap: square"/>
</g>
<g id="patch_51">
<path d="M 56.16 946.56 L 807.84 946.56" style="fill: none; stroke: #000000; stroke-linejoin: miter; stroke-linecap: square"/>
</g>
<g id="matplotlib.axis_17">
<g id="xtick_44">
<g id="line2d_272">
<g>
<use href="#m4973df2420" x="329.52" y="1053.84" style="stroke: #000000; stroke-width: 0.5"/>
</g>
</g>
<g id="line2d_273">
<g>
<use href="#m134b7e6b41" x="329.52" y="946.8" style="stroke: #000000; stroke-width: 0.5"/>
</g>
</g>
<g id="text_132">
<text id="t120" style="font-size: 8.4px; font-family: 'Liberation Sans'; font-kerning: none" x="-0.066954" y="0" textLength="61.287237" lengthAdjust="spacingAndGlyphs" transform="translate(298.748182 1064.104)">06/19 12:35:11</text>
</g>
</g>
<g id="xtick_45">
<g id="line2d_274">
<g>
<use href="#m4973df2420" x="671.28" y="1053.84" style="stroke: #000000; stroke-width: 0.5"/>
</g>
</g>
<g id="line2d_275">
<g>
<use href="#m134b7e6b41" x="671.28" y="946.8" style="stroke: #000000; stroke-width: 0.5"/>
</g>
</g>
<g id="text_133">
<text id="t121" style="font-size: 8.4px; font-family: 'Liberation Sans'; font-kerning: none" x="-0.009415" y="0" textLength="61.241826" lengthAdjust="spacingAndGlyphs" transform="translate(640.450909 1064.104)">06/19 12:35:16</text>
</g>
</g>
</g>
<g id="matplotlib.axis_18">
<g id="ytick_52">
<g id="line2d_276">
<g>
<use href="#md9424fe3de" x="56.4" y="1053.84" style="stroke: #000000; stroke-width: 0.5"/>
</g>
</g>
<g id="line2d_277">
<g>
<use href="#m2b9a4ff74d" x="808.08" y="1053.84" style="stroke: #000000; stroke-width: 0.5"/>
</g>
</g>
<g id="text_134">
<text id="t122" style="font-size: 8.4px; font-family: 'Liberation Sans'; font-kerning: none" x="0.409639" y="0" textLength="21.482924" lengthAdjust="spacingAndGlyphs" transform="translate(30.32 1055.784)">−100</text>
</g>
</g>
<g id="ytick_53">
<g id="line2d_278">
<g>
<use href="#md9424fe3de" x="56.4" y="1038.48" style="stroke: #000000; stroke-width: 0.5"/>
</g>
</g>
<g id="line2d_279">
<g>
<use href="#m2b9a4ff74d" x="808.08" y="1038.48" style="stroke: #000000; stroke-width: 0.5"/>
</g>
</g>
<g id="text_135">
<text id="t123" style="font-size: 8.4px; font-family: 'Liberation Sans'; font-kerning: none" x="0.588892" y="0" textLength="16.204264" lengthAdjust="spacingAndGlyphs" transform="translate(35.42 1040.533714)">−50</text>
</g>
</g>
<g id="ytick_54">
<g id="line2d_280">
<g>
<use href="#md9424fe3de" x="56.4" y="1023.12" style="stroke: #000000; stroke-width: 0.5"/>
</g>
</g>
<g id="line2d_281">
<g>
<use href="#m2b9a4ff74d" x="808.08" y="1023.12" style="stroke: #000000; stroke-width: 0.5"/>
</g>
</g>
<g id="text_136">
<text id="t124" style="font-size: 8.4px; font-family: 'Liberation Sans'; font-kerning: none" x="0.046987" y="0" textLength="5.026027" lengthAdjust="spacingAndGlyphs" transform="translate(47.12 1025.283429)">0</text>
</g>
</g>
<g id="ytick_55">
<g id="line2d_282">
<g>
<use href="#md9424fe3de" x="56.4" y="1007.76" style="stroke: #000000; stroke-width: 0.5"/>
</g>
</g>
<g id="line2d_283">
<g>
<use href="#m2b9a4ff74d" x="808.08" y="1007.76" style="stroke: #000000; stroke-width: 0.5"/>
</g>
</g>
<g id="text_137">
<text id="t125" style="font-size: 8.4px; font-family: 'Liberation Sans'; font-kerning: none" x="0.30518" y="0" textLength="9.301474" lengthAdjust="spacingAndGlyphs" transform="translate(42.08 1010.033143)">50</text>
</g>
</g>
<g id="ytick_56">
<g id="line2d_284">
<g>
<use href="#md9424fe3de" x="56.4" y="992.4" style="stroke: #000000; stroke-width: 0.5"/>
</g>
</g>
<g id="line2d_285">
<g>
<use href="#m2b9a4ff74d" x="808.08" y="992.4" style="stroke: #000000; stroke-width: 0.5"/>
</g>
</g>
<g id="text_138">
<text id="t126" style="font-size: 8.4px; font-family: 'Liberation Sans'; font-kerning: none" x="0.257347" y="0" textLength="14.952732" lengthAdjust="spacingAndGlyphs" transform="translate(36.98 994.782857)">100</text>
</g>
</g>
<g id="ytick_57">
<g id="line2d_286">
<g>
<use href="#md9424fe3de" x="56.4" y="977.52" style="stroke: #000000; stroke-width: 0.5"/>
</g>
</g>
<g id="line2d_287">
<g>
<use href="#m2b9a4ff74d" x="808.08" y="977.52" style="stroke: #000000; stroke-width: 0.5"/>
</g>
</g>
<g id="text_139">
<text id="t127" style="font-size: 8.4px; font-family: 'Liberation Sans'; font-kerning: none" x="0.257347" y="0" textLength="14.952732" lengthAdjust="spacingAndGlyphs" transform="translate(36.98 979.532571)">150</text>
</g>
</g>
<g id="ytick_58">
<g id="line2d_288">
<g>
<use href="#md9424fe3de" x="56.4" y="962.16" style="stroke: #000000; stroke-width: 0.5"/>
</g>
</g>
<g id="line2d_289">
<g>
<use href="#m2b9a4ff74d" x="808.08" y="962.16" style="stroke: #000000; stroke-width: 0.5"/>
</g>
</g>
<g id="text_140">
<text id="t128" style="font-size: 8.4px; font-family: 'Liberation Sans'; font-kerning: none" x="0.01666" y="0" textLength="14.707681" lengthAdjust="spacingAndGlyphs" transform="translate(36.98 964.282286)">200</text>
</g>
</g>
<g id="ytick_59">
<g id="line2d_290">
<g>
<use href="#md9424fe3de" x="56.4" y="946.8" style="stroke: #000000; stroke-width: 0.5"/>
</g>
</g>
<g id="line2d_291">
<g>
<use href="#m2b9a4ff74d" x="808.08" y="946.8" style="stroke: #000000; stroke-width: 0.5"/>
</g>
</g>
<g id="text_141">
<text id="t129" style="font-size: 8.4px; font-family: 'Liberation Sans'; font-kerning: none" x="0.01666" y="0" textLength="14.707681" lengthAdjust="spacingAndGlyphs" transform="translate(36.98 949.032)">250</text>
</g>
</g>
<g id="text_142">
<text id="t130" style="font-size: 8.4px; font-family: 'Liberation Sans'; font-kerning: none" x="-0.590981" y="0" textLength="41.389045" lengthAdjust="spacingAndGlyphs" transform="translate(23.4 1020.888) rotate(-90)">Vsw(km/s)</text>
</g>
</g>
<g id="text_143">
<text id="t131" style="font-size: 11.55px; font-family: 'Liberation Sans'; font-kerning: none" x="-0.273127" y="0" textLength="177.444816" lengthAdjust="spacingAndGlyphs" transform="translate(343.41 941.632)">Solar Wind Velocity (RTN Frame)</text>
</g>
<g id="legend_6">
<g id="patch_52">
<path d="M 769.92 984.48 L 804.48 984.48 L 804.48 949.92 L 769.92 949.92 z" style="fill: #ffffff; stroke: #000000; stroke-linejoin: miter"/>
</g>
<g id="line2d_292">
<path d="M 774.72 956.16 L 784.32 956.16" style="fill: none; stroke: #ff0000; stroke-linecap: square"/>
</g>
<g id="text_144">
<text id="t132" style="font-size: 7.35px; font-family: 'Liberation Sans'; font-kerning: none" x="0.205526" y="0" textLength="7.844708" lengthAdjust="spacingAndGlyphs" transform="translate(792.24 958.692)">Vr</text>
</g>
<g id="line2d_293">
<path d="M 774.72 966.72 L 784.32 966.72" style="fill: none; stroke: #008000; stroke-linecap: square"/>
</g>
<g id="text_145">
<text id="t133" style="font-size: 7.35px; font-family: 'Liberation Sans'; font-kerning: none" x="0.206091" y="0" textLength="7.290424" lengthAdjust="spacingAndGlyphs" transform="translate(792.24 969.392)">Vt</text>
</g>
<g id="line2d_294">
<path d="M 774.72 977.76 L 784.32 977.76" style="fill: none; stroke: #0000ff; stroke-linecap: square"/>
</g>
<g id="text_146">
<text id="t134" style="font-size: 7.35px; font-family: 'Liberation Sans'; font-kerning: none" x="0.207093" y="0" textLength="9.159204" lengthAdjust="spacingAndGlyphs" transform="translate(792.24 980.092)">Vn</text>
</g>
</g>
</g>
<g id="axes_10">
<g id="patch_53">
<path d="M 56.16 1213.4112 L 807.84 1213.4112 L 807.84 1106.6592 L 56.16 1106.6592 z
" style="fill: #ffffff"/>
</g>
<g id="line2d_295">
<path d="M 56.16 1162.032 L 124.494545 1161.84 L 192.829091 1193.904 L 261.163636 1173.456 L 329.498182 1180.32 L 397.832727 1152.432 L 466.167273 1174.896 L 534.501818 1205.472 L 602.836364 1171.44 L 671.170909 1125.984 L 739.505455 1161.312 L 807.84 1157.664 " clip-path="url(#p025cf3b93b)" style="fill: none; stroke: #0000ff; stroke-linecap: square"/>
</g>
<g id="patch_54">
<path d="M 56.16 1213.44 L 56.16 1106.88" style="fill: none; stroke: #000000; stroke-linejoin: miter; stroke-linecap: square"/>
</g>
<g id="patch_55">
<path d="M 807.84 1213.44 L 807.84 1106.88" style="fill: none; stroke: #000000; stroke-linejoin: miter; stroke-linecap: square"/>
</g>
<g id="patch_56">
<path d="M 56.16 1213.44 L 807.84 1213.44" style="fill: none; stroke: #000000; stroke-linejoin: miter; stroke-linecap: square"/>
</g>
<g id="patch_57">
<path d="M 56.16 1106.88 L 807.84 1106.88" style="fill: none; stroke: #000000; stroke-linejoin: miter; stroke-linecap: square"/>
</g>
<g id="matplotlib.axis_19">
<g id="xtick_46">
<g id="line2d_296">
<g>
<use href="#m4973df2420" x="329.52" y="1213.68" style="stroke: #000000; stroke-width: 0.5"/>
</g>
</g>
<g id="line2d_297">
<g>
<use href="#m134b7e6b41" x="329.52" y="1107.12" style="stroke: #000000; stroke-width: 0.5"/>
</g>
</g>
<g id="text_147">
<text id="t135" style="font-size: 8.4px; font-family: 'Liberation Sans'; font-kerning: none" x="-0.066954" y="0" textLength="61.287237" lengthAdjust="spacingAndGlyphs" transform="translate(298.748182 1224.1312)">06/19 12:35:11</text>
</g>
</g>
<g id="xtick_47">
<g id="line2d_298">
<g>
<use href="#m4973df2420" x="671.28" y="1213.68" style="stroke: #000000; stroke-width: 0.5"/>
</g>
</g>
<g id="line2d_299">
<g>
<use href="#m134b7e6b41" x="671.28" y="1107.12" style="stroke: #000000; stroke-width: 0.5"/>
</g>
</g>
<g id="text_148">
<text id="t136" style="font-size: 8.4px; font-family: 'Liberation Sans'; font-kerning: none" x="-0.009415" y="0" textLength="61.241826" lengthAdjust="spacingAndGlyphs" transform="translate(640.450909 1224.1312)">06/19 12:35:16</text>
</g>
</g>
</g>
<g id="matplotlib.axis_20">
<g id="ytick_60">
<g id="line2d_300">
<g>
<use href="#md9424fe3de" x="56.4" y="1213.68" style="stroke: #000000; stroke-width: 0.5"/>
</g>
</g>
<g id="line2d_301">
<g>
<use href="#m2b9a4ff74d" x="808.08" y="1213.68" style="stroke: #000000; stroke-width: 0.5"/>
</g>
</g>
<g id="text_149">
<text id="t137" style="font-size: 8.4px; font-family: 'Liberation Sans'; font-kerning: none" x="0.233997" y="0" textLength="27.092005" lengthAdjust="spacingAndGlyphs" transform="translate(24.38 1215.8112)">0.0390</text>
</g>
</g>
<g id="ytick_61">
<g id="line2d_302">
<g>
<use href="#md9424fe3de" x="56.4" y="1192.08" style="stroke: #000000; stroke-width: 0.5"/>
</g>
</g>
<g id="line2d_303">
<g>
<use href="#m2b9a4ff74d" x="808.08" y="1192.08" style="stroke: #000000; stroke-width: 0.5"/>
</g>
</g>
<g id="text_150">
<text id="t138" style="font-size: 8.4px; font-family: 'Liberation Sans'; font-kerning: none" x="0.233657" y="0" textLength="27.118662" lengthAdjust="spacingAndGlyphs" transform="translate(24.38 1194.4608)">0.0395</text>
</g>
</g>
<g id="ytick_62">
<g id="line2d_304">
<g>
<use href="#md9424fe3de" x="56.4" y="1170.96" style="stroke: #000000; stroke-width: 0.5"/>
</g>
</g>
<g id="line2d_305">
<g>
<use href="#m2b9a4ff74d" x="808.08" y="1170.96" style="stroke: #000000; stroke-width: 0.5"/>
</g>
</g>
<g id="text_151">
<text id="t139" style="font-size: 8.4px; font-family: 'Liberation Sans'; font-kerning: none" x="0.173997" y="0" textLength="27.092005" lengthAdjust="spacingAndGlyphs" transform="translate(24.44 1173.1104)">0.0400</text>
</g>
</g>
<g id="ytick_63">
<g id="line2d_306">
<g>
<use href="#md9424fe3de" x="56.4" y="1149.84" style="stroke: #000000; stroke-width: 0.5"/>
</g>
</g>
<g id="line2d_307">
<g>
<use href="#m2b9a4ff74d" x="808.08" y="1149.84" style="stroke: #000000; stroke-width: 0.5"/>
</g>
</g>
<g id="text_152">
<text id="t140" style="font-size: 8.4px; font-family: 'Liberation Sans'; font-kerning: none" x="0.173657" y="0" textLength="27.118662" lengthAdjust="spacingAndGlyphs" transform="translate(24.44 1151.76)">0.0405</text>
</g>
</g>
<g id="ytick_64">
<g id="line2d_308">
<g>
<use href="#md9424fe3de" x="56.4" y="1128.24" style="stroke: #000000; stroke-width: 0.5"/>
</g>
</g>
<g id="line2d_309">
<g>
<use href="#m2b9a4ff74d" x="808.08" y="1128.24" style="stroke: #000000; stroke-width: 0.5"/>
</g>
</g>
<g id="text_153">
<text id="t141" style="font-size: 8.4px; font-family: 'Liberation Sans'; font-kerning: none" x="0.233997" y="0" textLength="27.092005" lengthAdjust="spacingAndGlyphs" transform="translate(24.38 1130.4096)">0.0410</text>
</g>
</g>
<g id="ytick_65">
<g id="line2d_310">
<g>
<use href="#md9424fe3de" x="56.4" y="1107.12" style="stroke: #000000; stroke-width: 0.5"/>
</g>
</g>
<g id="line2d_311">
<g>
<use href="#m2b9a4ff74d" x="808.08" y="1107.12" style="stroke: #000000; stroke-width: 0.5"/>
</g>
</g>
<g id="text_154">
<text id="t142" style="font-size: 8.4px; font-family: 'Liberation Sans'; font-kerning: none" x="0.233657" y="0" textLength="27.118662" lengthAdjust="spacingAndGlyphs" transform="translate(24.38 1109.0592)">0.0415</text>
</g>
</g>
<g id="text_155">
<g transform="translate(15.1395 1164.162375) rotate(-90)">
<text>
<tspan x="0.2956" y="-0.359375" style="font-size: 8.240px; font-family: 'Liberation Serif', serif; font-style: italic; font-kerning: none" textLength="4.4283" lengthAdjust="spacingAndGlyphs">β</tspan>
<tspan x="4.6544" y="1.001125" style="font-size: 5.768px; font-family: 'Liberation Serif', serif; font-style: italic; font-kerning: none" textLength="2.7845" lengthAdjust="spacingAndGlyphs">p</tspan>
</text>
</g>
</g>
</g>
<g id="text_156">
<text id="t143" style="font-size: 11.55px; font-family: 'Liberation Sans'; font-kerning: none" x="0.070453" y="0" textLength="67.699547" lengthAdjust="spacingAndGlyphs" transform="translate(397.83 1101.6592)">Plasma Beta</text>
</g>
</g>
<g id="axes_11">
<g id="patch_58">
<path d="M 56.16 1373.424 L 807.84 1373.424 L 807.84 1266.672 L 56.16 1266.672 z
" style="fill: #ffffff"/>
</g>
<g id="line2d_312">
<path d="M 56.16 1278.48 L 124.494545 1297.488 L 192.829091 1311.984 L 261.163636 1300.56 L 329.498182 1286.976 L 397.832727 1291.248 L 466.167273 1295.472 L 534.501818 1370.064 L 602.836364 1326.432 L 671.170909 1306.512 L 739.505455 1299.312 L 807.84 1332.624 " clip-path="url(#pd95be515fa)" style="fill: none; stroke: #0000ff; stroke-linecap: square"/>
</g>
<g id="patch_59">
<path d="M 56.16 1373.28 L 56.16 1266.72" style="fill: none; stroke: #000000; stroke-linejoin: miter; stroke-linecap: square"/>
</g>
<g id="patch_60">
<path d="M 807.84 1373.28 L 807.84 1266.72" style="fill: none; stroke: #000000; stroke-linejoin: miter; stroke-linecap: square"/>
</g>
<g id="patch_61">
<path d="M 56.16 1373.28 L 807.84 1373.28" style="fill: none; stroke: #000000; stroke-linejoin: miter; stroke-linecap: square"/>
</g>
<g id="patch_62">
<path d="M 56.16 1266.72 L 807.84 1266.72" style="fill: none; stroke: #000000; stroke-linejoin: miter; stroke-linecap: square"/>
</g>
<g id="matplotlib.axis_21">
<g id="xtick_48">
<g id="line2d_313">
<g>
<use href="#m4973df2420" x="329.52" y="1373.52" style="stroke: #000000; stroke-width: 0.5"/>
</g>
</g>
<g id="line2d_314">
<g>
<use href="#m134b7e6b41" x="329.52" y="1266.96" style="stroke: #000000; stroke-width: 0.5"/>
</g>
</g>
<g id="text_157">
<text id="t144" style="font-size: 8.4px; font-family: 'Liberation Sans'; font-kerning: none" x="-0.066954" y="0" textLength="61.287237" lengthAdjust="spacingAndGlyphs" transform="translate(298.748182 1384.144)">06/19 12:35:11</text>
</g>
</g>
<g id="xtick_49">
<g id="line2d_315">
<g>
<use href="#m4973df2420" x="671.28" y="1373.52" style="stroke: #000000; stroke-width: 0.5"/>
</g>
</g>
<g id="line2d_316">
<g>
<use href="#m134b7e6b41" x="671.28" y="1266.96" style="stroke: #000000; stroke-width: 0.5"/>
</g>
</g>
<g id="text_158">
<text id="t145" style="font-size: 8.4px; font-family: 'Liberation Sans'; font-kerning: none" x="-0.009415" y="0" textLength="61.241826" lengthAdjust="spacingAndGlyphs" transform="translate(640.450909 1384.144)">06/19 12:35:16</text>
</g>
</g>
</g>
<g id="matplotlib.axis_22">
<g id="ytick_66">
<g id="line2d_317">
<g>
<use href="#md9424fe3de" x="56.4" y="1373.52" style="stroke: #000000; stroke-width: 0.5"/>
</g>
</g>
<g id="line2d_318">
<g>
<use href="#m2b9a4ff74d" x="808.08" y="1373.52" style="stroke: #000000; stroke-width: 0.5"/>
</g>
</g>
<g id="text_159">
<text id="t146" style="font-size: 8.4px; font-family: 'Liberation Sans'; font-kerning: none" x="0.193721" y="0" textLength="14.996891" lengthAdjust="spacingAndGlyphs" transform="translate(37.04 1375.824)">468</text>
</g>
</g>
<g id="ytick_67">
<g id="line2d_319">
<g>
<use href="#md9424fe3de" x="56.4" y="1355.76" style="stroke: #000000; stroke-width: 0.5"/>
</g>
</g>
<g id="line2d_320">
<g>
<use href="#m2b9a4ff74d" x="808.08" y="1355.76" style="stroke: #000000; stroke-width: 0.5"/>
</g>
</g>
<g id="text_160">
<text id="t147" style="font-size: 8.4px; font-family: 'Liberation Sans'; font-kerning: none" x="0.194286" y="0" textLength="14.955866" lengthAdjust="spacingAndGlyphs" transform="translate(37.04 1358.032)">470</text>
</g>
</g>
<g id="ytick_68">
<g id="line2d_321">
<g>
<use href="#md9424fe3de" x="56.4" y="1338" style="stroke: #000000; stroke-width: 0.5"/>
</g>
</g>
<g id="line2d_322">
<g>
<use href="#m2b9a4ff74d" x="808.08" y="1338" style="stroke: #000000; stroke-width: 0.5"/>
</g>
</g>
<g id="text_161">
<text id="t148" style="font-size: 8.4px; font-family: 'Liberation Sans'; font-kerning: none" x="0.259743" y="0" textLength="14.559118" lengthAdjust="spacingAndGlyphs" transform="translate(36.98 1340.24)">472</text>
</g>
</g>
<g id="ytick_69">
<g id="line2d_323">
<g>
<use href="#md9424fe3de" x="56.4" y="1320.24" style="stroke: #000000; stroke-width: 0.5"/>
</g>
</g>
<g id="line2d_324">
<g>
<use href="#m2b9a4ff74d" x="808.08" y="1320.24" style="stroke: #000000; stroke-width: 0.5"/>
</g>
</g>
<g id="text_162">
<text id="t149" style="font-size: 8.4px; font-family: 'Liberation Sans'; font-kerning: none" x="0.195529" y="0" textLength="14.865498" lengthAdjust="spacingAndGlyphs" transform="translate(37.04 1322.448)">474</text>
</g>
</g>
<g id="ytick_70">
<g id="line2d_325">
<g>
<use href="#md9424fe3de" x="56.4" y="1302.48" style="stroke: #000000; stroke-width: 0.5"/>
</g>
</g>
<g id="line2d_326">
<g>
<use href="#m2b9a4ff74d" x="808.08" y="1302.48" style="stroke: #000000; stroke-width: 0.5"/>
</g>
</g>
<g id="text_163">
<text id="t150" style="font-size: 8.4px; font-family: 'Liberation Sans'; font-kerning: none" x="0.193659" y="0" textLength="15.001463" lengthAdjust="spacingAndGlyphs" transform="translate(37.04 1304.656)">476</text>
</g>
</g>
<g id="ytick_71">
<g id="line2d_327">
<g>
<use href="#md9424fe3de" x="56.4" y="1284.72" style="stroke: #000000; stroke-width: 0.5"/>
</g>
</g>
<g id="line2d_328">
<g>
<use href="#m2b9a4ff74d" x="808.08" y="1284.72" style="stroke: #000000; stroke-width: 0.5"/>
</g>
</g>
<g id="text_164">
<text id="t151" style="font-size: 8.4px; font-family: 'Liberation Sans'; font-kerning: none" x="0.193721" y="0" textLength="14.996891" lengthAdjust="spacingAndGlyphs" transform="translate(37.04 1286.864)">478</text>
</g>
</g>
<g id="ytick_72">
<g id="line2d_329">
<g>
<use href="#md9424fe3de" x="56.4" y="1266.96" style="stroke: #000000; stroke-width: 0.5"/>
</g>
</g>
<g id="line2d_330">
<g>
<use href="#m2b9a4ff74d" x="808.08" y="1266.96" style="stroke: #000000; stroke-width: 0.5"/>
</g>
</g>
<g id="text_165">
<text id="t152" style="font-size: 8.4px; font-family: 'Liberation Sans'; font-kerning: none" x="0.194286" y="0" textLength="14.955866" lengthAdjust="spacingAndGlyphs" transform="translate(37.04 1269.072)">480</text>
</g>
</g>
<g id="text_166">
<text id="t153" style="font-size: 8.4px; font-family: 'Liberation Sans'; font-kerning: none" x="-1.291238" y="0" textLength="35.430746" lengthAdjust="spacingAndGlyphs" transform="translate(30.06 1337.718) rotate(-90)">Np(#/cc)</text>
</g>
</g>
<g id="text_167">
<text id="t154" style="font-size: 11.55px; font-family: 'Liberation Sans'; font-kerning: none" x="-0.112154" y="0" textLength="128.236253" lengthAdjust="spacingAndGlyphs" transform="translate(367.74 1261.672)">Proton Number Density</text>
</g>
</g>
<g id="axes_12">
<g id="patch_63">
<path d="M 56.16 1533.768 L 807.84 1533.768 L 807.84 1427.016 L 56.16 1427.016 z
" style="fill: #ffffff"/>
</g>
<g id="line2d_331">
<path d="M 56.16 1500.096 L 124.494545 1491.408 L 192.829091 1530 L 261.163636 1506.432 L 329.498182 1526.88 L 397.832727 1479.456 L 466.167273 1504.992 L 534.501818 1499.04 L 602.836364 1477.488 L 671.170909 1427.664 L 739.505455 1492.704 L 807.84 1456.848 " clip-path="url(#p8a58cb447e)" style="fill: none; stroke: #0000ff; stroke-linecap: square"/>
</g>
<g id="patch_64">
<path d="M 56.16 1533.6 L 56.16 1427.04" style="fill: none; stroke: #000000; stroke-linejoin: miter; stroke-linecap: square"/>
</g>
<g id="patch_65">
<path d="M 807.84 1533.6 L 807.84 1427.04" style="fill: none; stroke: #000000; stroke-linejoin: miter; stroke-linecap: square"/>
</g>
<g id="patch_66">
<path d="M 56.16 1533.6 L 807.84 1533.6" style="fill: none; stroke: #000000; stroke-linejoin: miter; stroke-linecap: square"/>
</g>
<g id="patch_67">
<path d="M 56.16 1427.04 L 807.84 1427.04" style="fill: none; stroke: #000000; stroke-linejoin: miter; stroke-linecap: square"/>
</g>
<g id="matplotlib.axis_23">
<g id="xtick_50">
<g id="line2d_332">
<g>
<use href="#m4973df2420" x="329.52" y="1533.84" style="stroke: #000000; stroke-width: 0.5"/>
</g>
</g>
<g id="line2d_333">
<g>
<use href="#m134b7e6b41" x="329.52" y="1427.28" style="stroke: #000000; stroke-width: 0.5"/>
</g>
</g>
<g id="text_168">
<text id="t155" style="font-size: 8.4px; font-family: 'Liberation Sans'; font-kerning: none" x="-0.066954" y="0" textLength="61.287237" lengthAdjust="spacingAndGlyphs" transform="translate(298.748182 1544.488)">06/19 12:35:11</text>
</g>
</g>
<g id="xtick_51">
<g id="line2d_334">
<g>
<use href="#m4973df2420" x="671.28" y="1533.84" style="stroke: #000000; stroke-width: 0.5"/>
</g>
</g>
<g id="line2d_335">
<g>
<use href="#m134b7e6b41" x="671.28" y="1427.28" style="stroke: #000000; stroke-width: 0.5"/>
</g>
</g>
<g id="text_169">
<text id="t156" style="font-size: 8.4px; font-family: 'Liberation Sans'; font-kerning: none" x="-0.009415" y="0" textLength="61.241826" lengthAdjust="spacingAndGlyphs" transform="translate(640.450909 1544.488)">06/19 12:35:16</text>
</g>
</g>
</g>
<g id="matplotlib.axis_24">
<g id="ytick_73">
<g id="line2d_336">
<g>
<use href="#md9424fe3de" x="56.4" y="1533.84" style="stroke: #000000; stroke-width: 0.5"/>
</g>
</g>
<g id="line2d_337">
<g>
<use href="#m2b9a4ff74d" x="808.08" y="1533.84" style="stroke: #000000; stroke-width: 0.5"/>
</g>
</g>
<g id="text_170">
<text id="t157" style="font-size: 8.4px; font-family: 'Liberation Sans'; font-kerning: none" x="0.173997" y="0" textLength="27.092005" lengthAdjust="spacingAndGlyphs" transform="translate(24.44 1536.168)">0.0590</text>
</g>
</g>
<g id="ytick_74">
<g id="line2d_338">
<g>
<use href="#md9424fe3de" x="56.4" y="1512.72" style="stroke: #000000; stroke-width: 0.5"/>
</g>
</g>
<g id="line2d_339">
<g>
<use href="#m2b9a4ff74d" x="808.08" y="1512.72" style="stroke: #000000; stroke-width: 0.5"/>
</g>
</g>
<g id="text_171">
<text id="t158" style="font-size: 8.4px; font-family: 'Liberation Sans'; font-kerning: none" x="0.173657" y="0" textLength="27.118662" lengthAdjust="spacingAndGlyphs" transform="translate(24.44 1514.8176)">0.0595</text>
</g>
</g>
<g id="ytick_75">
<g id="line2d_340">
<g>
<use href="#md9424fe3de" x="56.4" y="1491.12" style="stroke: #000000; stroke-width: 0.5"/>
</g>
</g>
<g id="line2d_341">
<g>
<use href="#m2b9a4ff74d" x="808.08" y="1491.12" style="stroke: #000000; stroke-width: 0.5"/>
</g>
</g>
<g id="text_172">
<text id="t159" style="font-size: 8.4px; font-family: 'Liberation Sans'; font-kerning: none" x="0.173997" y="0" textLength="27.092005" lengthAdjust="spacingAndGlyphs" transform="translate(24.44 1493.4672)">0.0600</text>
</g>
</g>
<g id="ytick_76">
<g id="line2d_342">
<g>
<use href="#md9424fe3de" x="56.4" y="1470" style="stroke: #000000; stroke-width: 0.5"/>
</g>
</g>
<g id="line2d_343">
<g>
<use href="#m2b9a4ff74d" x="808.08" y="1470" style="stroke: #000000; stroke-width: 0.5"/>
</g>
</g>
<g id="text_173">
<text id="t160" style="font-size: 8.4px; font-family: 'Liberation Sans'; font-kerning: none" x="0.173657" y="0" textLength="27.118662" lengthAdjust="spacingAndGlyphs" transform="translate(24.44 1472.1168)">0.0605</text>
</g>
</g>
<g id="ytick_77">
<g id="line2d_344">
<g>
<use href="#md9424fe3de" x="56.4" y="1448.4" style="stroke: #000000; stroke-width: 0.5"/>
</g>
</g>
<g id="line2d_345">
<g>
<use href="#m2b9a4ff74d" x="808.08" y="1448.4" style="stroke: #000000; stroke-width: 0.5"/>
</g>
</g>
<g id="text_174">
<text id="t161" style="font-size: 8.4px; font-family: 'Liberation Sans'; font-kerning: none" x="0.233997" y="0" textLength="27.092005" lengthAdjust="spacingAndGlyphs" transform="translate(24.38 1450.7664)">0.0610</text>
</g>
</g>
<g id="ytick_78">
<g id="line2d_346">
<g>
<use href="#md9424fe3de" x="56.4" y="1427.28" style="stroke: #000000; stroke-width: 0.5"/>
</g>
</g>
<g id="line2d_347">
<g>
<use href="#m2b9a4ff74d" x="808.08" y="1427.28" style="stroke: #000000; stroke-width: 0.5"/>
</g>
</g>
<g id="text_175">
<text id="t162" style="font-size: 8.4px; font-family: 'Liberation Sans'; font-kerning: none" x="0.233657" y="0" textLength="27.118662" lengthAdjust="spacingAndGlyphs" transform="translate(24.38 1429.416)">0.0615</text>
</g>
</g>
<g id="text_176">
<g transform="translate(15.5400 1497.067299) rotate(-90)">
<text>
<tspan x="-0.2194" y="-0.209188" style="font-size: 8.400px; font-family: 'Liberation Sans', sans-serif; font-kerning: none" textLength="5.3298" lengthAdjust="spacingAndGlyphs">T</tspan>
<tspan x="5.0523" y="-0.209188" style="font-size: 8.400px; font-family: 'Liberation Sans', sans-serif; font-kerning: none" textLength="4.8405" lengthAdjust="spacingAndGlyphs">p</tspan>
<tspan x="10.2330" y="-0.209188" style="font-size: 8.400px; font-family: 'Liberation Sans', sans-serif; font-kerning: none" textLength="2.2519" lengthAdjust="spacingAndGlyphs">(</tspan>
<tspan x="24.8766" y="-0.209188" style="font-size: 8.400px; font-family: 'Liberation Sans', sans-serif; font-kerning: none" textLength="5.3813" lengthAdjust="spacingAndGlyphs">K</tspan>
<tspan x="30.6004" y="-0.209188" style="font-size: 8.400px; font-family: 'Liberation Sans', sans-serif; font-kerning: none" textLength="2.2519" lengthAdjust="spacingAndGlyphs">)</tspan>
<tspan x="13.1142" y="-0.209188" style="font-size: 8.240px; font-family: 'Liberation Serif', serif; font-kerning: none" textLength="3.7947" lengthAdjust="spacingAndGlyphs">1</tspan>
<tspan x="17.0959" y="-0.209188" style="font-size: 8.240px; font-family: 'Liberation Serif', serif; font-kerning: none" textLength="3.9724" lengthAdjust="spacingAndGlyphs">0</tspan>
<tspan x="21.4445" y="-3.270313" style="font-size: 5.768px; font-family: 'Liberation Serif', serif; font-kerning: none" textLength="2.7200" lengthAdjust="spacingAndGlyphs">6</tspan>
</text>
</g>
</g>
</g>
<g id="text_177">
<g transform="translate(349.008588 1422.016)">
<text>
<tspan x="0.2816" y="-0.640625" style="font-size: 11.550px; font-family: 'Liberation Sans', sans-serif; font-kerning: none" textLength="6.4888" lengthAdjust="spacingAndGlyphs">P</tspan>
<tspan x="6.6964" y="-0.640625" style="font-size: 11.550px; font-family: 'Liberation Sans', sans-serif; font-kerning: none" textLength="4.6933" lengthAdjust="spacingAndGlyphs">r</tspan>
<tspan x="11.2716" y="-0.640625" style="font-size: 11.550px; font-family: 'Liberation Sans', sans-serif; font-kerning: none" textLength="6.5036" lengthAdjust="spacingAndGlyphs">o</tspan>
<tspan x="17.9586" y="-0.640625" style="font-size: 11.550px; font-family: 'Liberation Sans', sans-serif; font-kerning: none" textLength="4.0846" lengthAdjust="spacingAndGlyphs">t</tspan>
<tspan x="22.3146" y="-0.640625" style="font-size: 11.550px; font-family: 'Liberation Sans', sans-serif; font-kerning: none" textLength="6.5036" lengthAdjust="spacingAndGlyphs">o</tspan>
<tspan x="29.1402" y="-0.640625" style="font-size: 11.550px; font-family: 'Liberation Sans', sans-serif; font-kerning: none" textLength="6.5958" lengthAdjust="spacingAndGlyphs">n</tspan>
<tspan x="35.900391" y="-0.640625" style="font-size: 11.550px; font-family: 'Liberation Sans', sans-serif; font-kerning: none"> </tspan>
<tspan x="39.0953" y="-0.640625" style="font-size: 11.550px; font-family: 'Liberation Sans', sans-serif; font-kerning: none" textLength="7.3285" lengthAdjust="spacingAndGlyphs">T</tspan>
<tspan x="46.2184" y="-0.640625" style="font-size: 11.550px; font-family: 'Liberation Sans', sans-serif; font-kerning: none" textLength="6.6079" lengthAdjust="spacingAndGlyphs">e</tspan>
<tspan x="53.0505" y="-0.640625" style="font-size: 11.550px; font-family: 'Liberation Sans', sans-serif; font-kerning: none" textLength="10.4402" lengthAdjust="spacingAndGlyphs">m</tspan>
<tspan x="63.8268" y="-0.640625" style="font-size: 11.550px; font-family: 'Liberation Sans', sans-serif; font-kerning: none" textLength="6.6557" lengthAdjust="spacingAndGlyphs">p</tspan>
<tspan x="70.6838" y="-0.640625" style="font-size: 11.550px; font-family: 'Liberation Sans', sans-serif; font-kerning: none" textLength="6.6079" lengthAdjust="spacingAndGlyphs">e</tspan>
<tspan x="77.4122" y="-0.640625" style="font-size: 11.550px; font-family: 'Liberation Sans', sans-serif; font-kerning: none" textLength="4.6933" lengthAdjust="spacingAndGlyphs">r</tspan>
<tspan x="82.1120" y="-0.640625" style="font-size: 11.550px; font-family: 'Liberation Sans', sans-serif; font-kerning: none" textLength="5.5013" lengthAdjust="spacingAndGlyphs">a</tspan>
<tspan x="88.6852" y="-0.640625" style="font-size: 11.550px; font-family: 'Liberation Sans', sans-serif; font-kerning: none" textLength="4.0846" lengthAdjust="spacingAndGlyphs">t</tspan>
<tspan x="93.0897" y="-0.640625" style="font-size: 11.550px; font-family: 'Liberation Sans', sans-serif; font-kerning: none" textLength="6.5958" lengthAdjust="spacingAndGlyphs">u</tspan>
<tspan x="99.9601" y="-0.640625" style="font-size: 11.550px; font-family: 'Liberation Sans', sans-serif; font-kerning: none" textLength="4.6933" lengthAdjust="spacingAndGlyphs">r</tspan>
<tspan x="104.5216" y="-0.640625" style="font-size: 11.550px; font-family: 'Liberation Sans', sans-serif; font-kerning: none" textLength="6.6079" lengthAdjust="spacingAndGlyphs">e</tspan>
<tspan x="111.187012" y="-0.640625" style="font-size: 11.550px; font-family: 'Liberation Sans', sans-serif; font-kerning: none"> </tspan>
<tspan x="114.9240" y="-0.640625" style="font-size: 11.550px; font-family: 'Liberation Sans', sans-serif; font-kerning: none" textLength="5.5013" lengthAdjust="spacingAndGlyphs">a</tspan>
<tspan x="121.6358" y="-0.640625" style="font-size: 11.550px; font-family: 'Liberation Sans', sans-serif; font-kerning: none" textLength="6.5958" lengthAdjust="spacingAndGlyphs">n</tspan>
<tspan x="128.5009" y="-0.640625" style="font-size: 11.550px; font-family: 'Liberation Sans', sans-serif; font-kerning: none" textLength="6.6491" lengthAdjust="spacingAndGlyphs">d</tspan>
<tspan x="135.378418" y="-0.640625" style="font-size: 11.550px; font-family: 'Liberation Sans', sans-serif; font-kerning: none"> </tspan>
<tspan x="138.2452" y="-0.640625" style="font-size: 11.330px; font-family: 'Liberation Serif', serif; font-style: italic; font-kerning: none" textLength="7.5900" lengthAdjust="spacingAndGlyphs">T</tspan>
<tspan x="150.6855" y="-0.640625" style="font-size: 11.330px; font-family: 'Liberation Serif', serif; font-style: italic; font-kerning: none" textLength="2.9554" lengthAdjust="spacingAndGlyphs">/</tspan>
<tspan x="154.4499" y="-0.640625" style="font-size: 11.330px; font-family: 'Liberation Serif', serif; font-style: italic; font-kerning: none" textLength="7.5900" lengthAdjust="spacingAndGlyphs">T</tspan>
<tspan x="145.4030" y="1.230063" style="font-size: 7.931px; font-family: 'Liberation Serif', serif; font-style: italic; font-kerning: none" textLength="3.3792" lengthAdjust="spacingAndGlyphs">e</tspan>
<tspan x="161.6889" y="1.230063" style="font-size: 7.931px; font-family: 'Liberation Serif', serif; font-style: italic; font-kerning: none" textLength="3.8287" lengthAdjust="spacingAndGlyphs">p</tspan>
</text>
</g>
</g>
<g id="legend_7">
<g id="patch_68">
<path d="M 59.52 1443.36 L 93.6 1443.36 L 93.6 1430.4 L 59.52 1430.4 z" style="fill: #ffffff; stroke: #000000; stroke-linejoin: miter"/>
</g>
<g id="line2d_348">
<path d="M 64.8 1436.64 L 74.4 1436.64" style="fill: none; stroke: #0000ff; stroke-linecap: square"/>
</g>
<g id="text_178">
<text id="t163" style="font-size: 7.35px; font-family: 'Liberation Sans'; font-kerning: none" x="-0.156014" y="0" textLength="9.145084" lengthAdjust="spacingAndGlyphs" transform="translate(82.06 1439.076)">Tp</text>
</g>
</g>
</g>
<g id="patch_69">
<path d="M 60 355.68 L 129.6 355.68 L 129.6 321.12 L 60 321.12 z" style="fill: #ffffff; stroke: #000000; stroke-linejoin: miter"/>
</g>
<g id="text_179">
<text id="t164" style="font-size: 9.45px; font-family: 'Liberation Sans'; font-kerning: none" x="0.287173" y="0" textLength="66.06034" lengthAdjust="spacingAndGlyphs" transform="translate(61.344 329.664)">slope = -0.589</text>
</g>
<g id="text_180">
<g transform="translate(61.344 340.224)">
<text>
<tspan x="-0.1808" y="-0.3125" style="font-size: 9.270px; font-family: 'Liberation Serif', serif; font-style: italic; font-kerning: none" textLength="4.0570" lengthAdjust="spacingAndGlyphs">r</tspan>
<tspan x="4.060547" y="-0.3125" style="font-size: 9.450px; font-family: 'Liberation Sans', sans-serif; font-kerning: none"> </tspan>
<tspan x="7.3088" y="-0.3125" style="font-size: 9.450px; font-family: 'Liberation Sans', sans-serif; font-kerning: none" textLength="6.7719" lengthAdjust="spacingAndGlyphs">=</tspan>
<tspan x="14.462402" y="-0.3125" style="font-size: 9.450px; font-family: 'Liberation Sans', sans-serif; font-kerning: none"> </tspan>
<tspan x="17.3316" y="-0.3125" style="font-size: 9.450px; font-family: 'Liberation Sans', sans-serif; font-kerning: none" textLength="3.2308" lengthAdjust="spacingAndGlyphs">-</tspan>
<tspan x="20.8694" y="-0.3125" style="font-size: 9.450px; font-family: 'Liberation Sans', sans-serif; font-kerning: none" textLength="5.0394" lengthAdjust="spacingAndGlyphs">1</tspan>
<tspan x="26.3701" y="-0.3125" style="font-size: 9.450px; font-family: 'Liberation Sans', sans-serif; font-kerning: none" textLength="2.7057" lengthAdjust="spacingAndGlyphs">.</tspan>
<tspan x="29.3804" y="-0.3125" style="font-size: 9.450px; font-family: 'Liberation Sans', sans-serif; font-kerning: none" textLength="5.2763" lengthAdjust="spacingAndGlyphs">0</tspan>
</text>
</g>
</g>
<g id="text_181">
<g transform="translate(61.344 350.736)">
<text>
<tspan x="0.4881" y="-0.3125" style="font-size: 9.270px; font-family: 'Liberation Serif', serif; font-style: italic; font-kerning: none" textLength="8.4589" lengthAdjust="spacingAndGlyphs">M</tspan>
<tspan x="9.3078" y="1.218063" style="font-size: 6.489px; font-family: 'Liberation Serif', serif; font-style: italic; font-kerning: none" textLength="3.9578" lengthAdjust="spacingAndGlyphs">A</tspan>
<tspan x="14.030895" y="-0.3125" style="font-size: 9.450px; font-family: 'Liberation Sans', sans-serif; font-kerning: none"> </tspan>
<tspan x="17.2791" y="-0.3125" style="font-size: 9.450px; font-family: 'Liberation Sans', sans-serif; font-kerning: none" textLength="6.7719" lengthAdjust="spacingAndGlyphs">=</tspan>
<tspan x="24.43275" y="-0.3125" style="font-size: 9.450px; font-family: 'Liberation Sans', sans-serif; font-kerning: none"> </tspan>
<tspan x="27.5163" y="-0.3125" style="font-size: 9.450px; font-family: 'Liberation Sans', sans-serif; font-kerning: none" textLength="5.2763" lengthAdjust="spacingAndGlyphs">0</tspan>
<tspan x="33.0929" y="-0.3125" style="font-size: 9.450px; font-family: 'Liberation Sans', sans-serif; font-kerning: none" textLength="2.7057" lengthAdjust="spacingAndGlyphs">.</tspan>
<tspan x="36.2163" y="-0.3125" style="font-size: 9.450px; font-family: 'Liberation Sans', sans-serif; font-kerning: none" textLength="4.9796" lengthAdjust="spacingAndGlyphs">5</tspan>
<tspan x="41.8007" y="-0.3125" style="font-size: 9.450px; font-family: 'Liberation Sans', sans-serif; font-kerning: none" textLength="5.3335" lengthAdjust="spacingAndGlyphs">8</tspan>
<tspan x="47.4402" y="-0.3125" style="font-size: 9.450px; font-family: 'Liberation Sans', sans-serif; font-kerning: none" textLength="5.4498" lengthAdjust="spacingAndGlyphs">9</tspan>
</text>
</g>
</g>
</g>
<defs>
<clipPath id="p5015241284">
<rect x="56.16" y="40.464" width="217.92" height="217.776"/>
</clipPath>
<clipPath id="pdd8ea7e59d">
<rect x="323.04" y="40.464" width="217.92" height="217.776"/>
</clipPath>
<clipPath id="p084c920b3c">
<rect x="589.92" y="40.464" width="217.92" height="217.776"/>
</clipPath>
<clipPath id="pe2f85f3ad1">
<rect x="56.16" y="317.76" width="217.92" height="217.776"/>
</clipPath>
<clipPath id="p09ebb8ab49">
<rect x="323.04" y="317.76" width="217.92" height="217.776"/>
</clipPath>
<clipPath id="p499598ceaa">
<rect x="589.92" y="317.76" width="217.92" height="217.776"/>
</clipPath>
<clipPath id="pae9485739e">
<rect x="56.16" y="626.376" width="751.68" height="106.752"/>
</clipPath>
<clipPath id="pa84ba114ab">
<rect x="56.16" y="786.504" width="751.68" height="106.752"/>
</clipPath>
<clipPath id="p8bfd43684a">
<rect x="56.16" y="946.632" width="751.68" height="106.752"/>
</clipPath>
<clipPath id="p025cf3b93b">
<rect x="56.16" y="1106.6592" width="751.68" height="106.752"/>
</clipPath>
<clipPath id="pd95be515fa">
<rect x="56.16" y="1266.672" width="751.68" height="106.752"/>
</clipPath>
<clipPath id="p8a58cb447e">
<rect x="56.16" y="1427.016" width="751.68" height="106.752"/>
</clipPath>
</defs>
</svg>

</body></html>
